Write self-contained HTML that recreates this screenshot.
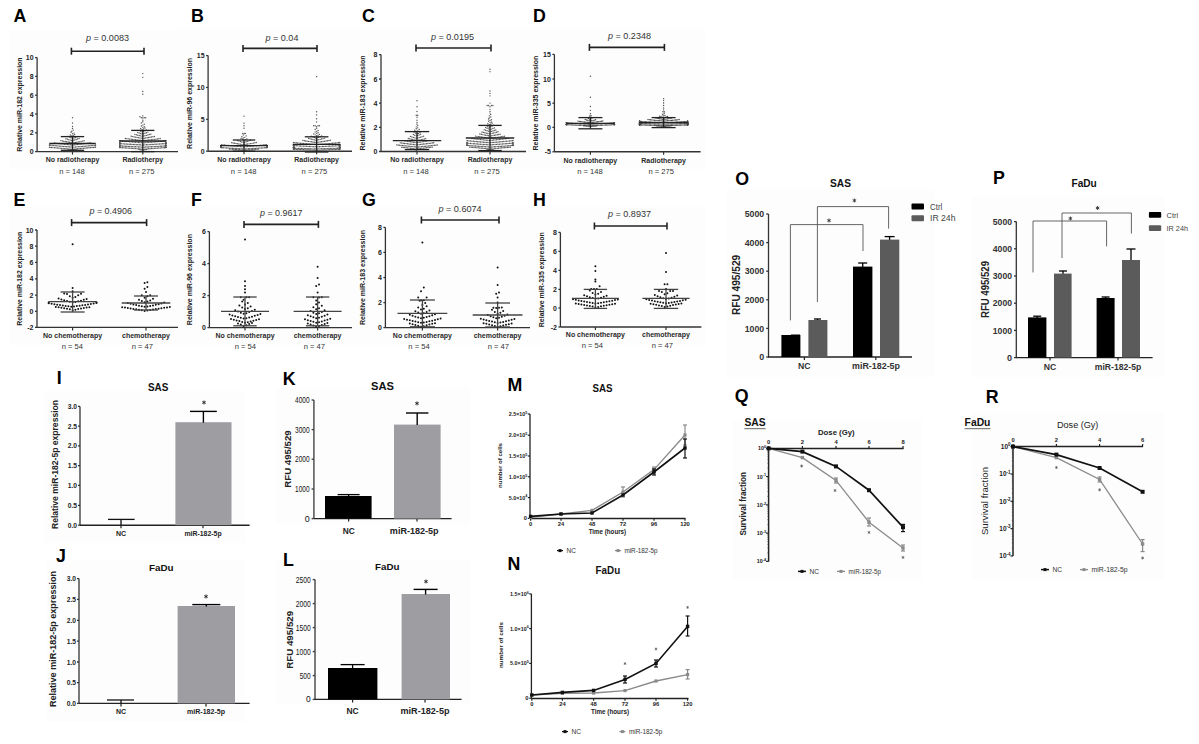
<!DOCTYPE html>
<html><head><meta charset="utf-8"><style>
html,body{margin:0;padding:0;background:#fff;}
svg{display:block;}
text{font-family:"Liberation Sans",sans-serif;}
</style></head><body>
<svg width="1199" height="744" viewBox="0 0 1199 744" shape-rendering="geometricPrecision">
<rect width="1199" height="744" fill="#fff"/>
<rect x="9.00" y="30.00" width="171.00" height="139.00" fill="#fdfdfd" />
<text x="13.51" y="22.34" font-size="17.8" fill="#000" text-anchor="start" font-weight="bold" >A</text>
<text x="86.00" y="41.00" font-size="9" fill="#333" textLength="43.00" lengthAdjust="spacingAndGlyphs"><tspan font-style="italic">p</tspan> = 0.0083</text>
<line x1="71.40" y1="51.20" x2="144.00" y2="51.20" stroke="#222" stroke-width="1.6" />
<line x1="71.40" y1="47.70" x2="71.40" y2="54.70" stroke="#222" stroke-width="1.6" />
<line x1="144.00" y1="47.70" x2="144.00" y2="54.70" stroke="#222" stroke-width="1.6" />
<line x1="37.10" y1="57.60" x2="37.10" y2="151.60" stroke="#333" stroke-width="1.3" />
<line x1="35.10" y1="57.60" x2="37.10" y2="57.60" stroke="#333" stroke-width="1.3" />
<text x="33.60" y="60.12" font-size="7" fill="#222" text-anchor="end" font-weight="bold" >10</text>
<line x1="35.10" y1="76.40" x2="37.10" y2="76.40" stroke="#333" stroke-width="1.3" />
<text x="33.60" y="78.92" font-size="7" fill="#222" text-anchor="end" font-weight="bold" >8</text>
<line x1="35.10" y1="95.20" x2="37.10" y2="95.20" stroke="#333" stroke-width="1.3" />
<text x="33.60" y="97.72" font-size="7" fill="#222" text-anchor="end" font-weight="bold" >6</text>
<line x1="35.10" y1="114.00" x2="37.10" y2="114.00" stroke="#333" stroke-width="1.3" />
<text x="33.60" y="116.52" font-size="7" fill="#222" text-anchor="end" font-weight="bold" >4</text>
<line x1="35.10" y1="132.80" x2="37.10" y2="132.80" stroke="#333" stroke-width="1.3" />
<text x="33.60" y="135.32" font-size="7" fill="#222" text-anchor="end" font-weight="bold" >2</text>
<line x1="35.10" y1="151.60" x2="37.10" y2="151.60" stroke="#333" stroke-width="1.3" />
<text x="33.60" y="154.12" font-size="7" fill="#222" text-anchor="end" font-weight="bold" >0</text>
<line x1="37.10" y1="151.60" x2="178.00" y2="151.60" stroke="#333" stroke-width="1.4" />
<line x1="72.50" y1="151.60" x2="72.50" y2="154.60" stroke="#333" stroke-width="1.2" />
<line x1="142.80" y1="151.60" x2="142.80" y2="154.60" stroke="#333" stroke-width="1.2" />
<circle cx="71.78" cy="150.43" r="0.7" fill="#555"/>
<circle cx="73.22" cy="150.11" r="0.7" fill="#555"/>
<circle cx="70.33" cy="149.91" r="0.7" fill="#555"/>
<circle cx="74.67" cy="149.75" r="0.7" fill="#555"/>
<circle cx="68.88" cy="149.62" r="0.7" fill="#555"/>
<circle cx="76.12" cy="149.50" r="0.7" fill="#555"/>
<circle cx="71.78" cy="149.40" r="0.7" fill="#555"/>
<circle cx="73.22" cy="149.30" r="0.7" fill="#555"/>
<circle cx="70.33" cy="149.20" r="0.7" fill="#555"/>
<circle cx="74.67" cy="149.12" r="0.7" fill="#555"/>
<circle cx="68.88" cy="149.03" r="0.7" fill="#555"/>
<circle cx="76.12" cy="148.95" r="0.7" fill="#555"/>
<circle cx="67.42" cy="148.88" r="0.7" fill="#555"/>
<circle cx="77.58" cy="148.80" r="0.7" fill="#555"/>
<circle cx="65.97" cy="148.73" r="0.7" fill="#555"/>
<circle cx="79.03" cy="148.66" r="0.7" fill="#555"/>
<circle cx="64.53" cy="148.59" r="0.7" fill="#555"/>
<circle cx="80.47" cy="148.53" r="0.7" fill="#555"/>
<circle cx="63.08" cy="148.46" r="0.7" fill="#555"/>
<circle cx="81.92" cy="148.39" r="0.7" fill="#555"/>
<circle cx="61.62" cy="148.33" r="0.7" fill="#555"/>
<circle cx="83.38" cy="148.27" r="0.7" fill="#555"/>
<circle cx="60.17" cy="148.20" r="0.7" fill="#555"/>
<circle cx="84.83" cy="148.14" r="0.7" fill="#555"/>
<circle cx="58.73" cy="148.08" r="0.7" fill="#555"/>
<circle cx="86.28" cy="148.02" r="0.7" fill="#555"/>
<circle cx="57.27" cy="147.96" r="0.7" fill="#555"/>
<circle cx="87.72" cy="147.90" r="0.7" fill="#555"/>
<circle cx="55.83" cy="147.84" r="0.7" fill="#555"/>
<circle cx="89.17" cy="147.78" r="0.7" fill="#555"/>
<circle cx="54.38" cy="147.72" r="0.7" fill="#555"/>
<circle cx="90.62" cy="147.67" r="0.7" fill="#555"/>
<circle cx="52.92" cy="147.61" r="0.7" fill="#555"/>
<circle cx="92.08" cy="147.55" r="0.7" fill="#555"/>
<circle cx="51.48" cy="147.49" r="0.7" fill="#555"/>
<circle cx="93.53" cy="147.44" r="0.7" fill="#555"/>
<circle cx="50.03" cy="147.38" r="0.7" fill="#555"/>
<circle cx="94.97" cy="147.32" r="0.7" fill="#555"/>
<circle cx="49.50" cy="147.26" r="0.7" fill="#555"/>
<circle cx="95.50" cy="147.21" r="0.7" fill="#555"/>
<circle cx="72.50" cy="147.15" r="0.7" fill="#555"/>
<circle cx="73.95" cy="147.09" r="0.7" fill="#555"/>
<circle cx="71.05" cy="147.03" r="0.7" fill="#555"/>
<circle cx="75.40" cy="146.98" r="0.7" fill="#555"/>
<circle cx="69.60" cy="146.92" r="0.7" fill="#555"/>
<circle cx="76.85" cy="146.86" r="0.7" fill="#555"/>
<circle cx="68.15" cy="146.80" r="0.7" fill="#555"/>
<circle cx="78.30" cy="146.74" r="0.7" fill="#555"/>
<circle cx="66.70" cy="146.69" r="0.7" fill="#555"/>
<circle cx="79.75" cy="146.63" r="0.7" fill="#555"/>
<circle cx="65.25" cy="146.57" r="0.7" fill="#555"/>
<circle cx="81.20" cy="146.51" r="0.7" fill="#555"/>
<circle cx="63.80" cy="146.45" r="0.7" fill="#555"/>
<circle cx="82.65" cy="146.39" r="0.7" fill="#555"/>
<circle cx="62.35" cy="146.33" r="0.7" fill="#555"/>
<circle cx="84.10" cy="146.27" r="0.7" fill="#555"/>
<circle cx="60.90" cy="146.21" r="0.7" fill="#555"/>
<circle cx="85.55" cy="146.15" r="0.7" fill="#555"/>
<circle cx="59.45" cy="146.09" r="0.7" fill="#555"/>
<circle cx="87.00" cy="146.03" r="0.7" fill="#555"/>
<circle cx="58.00" cy="145.96" r="0.7" fill="#555"/>
<circle cx="88.45" cy="145.90" r="0.7" fill="#555"/>
<circle cx="56.55" cy="145.84" r="0.7" fill="#555"/>
<circle cx="89.90" cy="145.77" r="0.7" fill="#555"/>
<circle cx="55.10" cy="145.71" r="0.7" fill="#555"/>
<circle cx="91.35" cy="145.65" r="0.7" fill="#555"/>
<circle cx="53.65" cy="145.58" r="0.7" fill="#555"/>
<circle cx="92.80" cy="145.51" r="0.7" fill="#555"/>
<circle cx="52.20" cy="145.45" r="0.7" fill="#555"/>
<circle cx="94.25" cy="145.38" r="0.7" fill="#555"/>
<circle cx="50.75" cy="145.31" r="0.7" fill="#555"/>
<circle cx="95.50" cy="145.25" r="0.7" fill="#555"/>
<circle cx="49.50" cy="145.18" r="0.7" fill="#555"/>
<circle cx="95.50" cy="145.11" r="0.7" fill="#555"/>
<circle cx="49.50" cy="145.04" r="0.7" fill="#555"/>
<circle cx="71.78" cy="144.97" r="0.7" fill="#555"/>
<circle cx="73.22" cy="144.89" r="0.7" fill="#555"/>
<circle cx="70.33" cy="144.82" r="0.7" fill="#555"/>
<circle cx="74.67" cy="144.75" r="0.7" fill="#555"/>
<circle cx="68.88" cy="144.67" r="0.7" fill="#555"/>
<circle cx="76.12" cy="144.60" r="0.7" fill="#555"/>
<circle cx="67.42" cy="144.52" r="0.7" fill="#555"/>
<circle cx="77.58" cy="144.44" r="0.7" fill="#555"/>
<circle cx="65.97" cy="144.37" r="0.7" fill="#555"/>
<circle cx="79.03" cy="144.29" r="0.7" fill="#555"/>
<circle cx="64.53" cy="144.21" r="0.7" fill="#555"/>
<circle cx="80.47" cy="144.12" r="0.7" fill="#555"/>
<circle cx="63.08" cy="144.04" r="0.7" fill="#555"/>
<circle cx="81.92" cy="143.96" r="0.7" fill="#555"/>
<circle cx="61.62" cy="143.87" r="0.7" fill="#555"/>
<circle cx="83.38" cy="143.78" r="0.7" fill="#555"/>
<circle cx="60.17" cy="143.70" r="0.7" fill="#555"/>
<circle cx="84.83" cy="143.61" r="0.7" fill="#555"/>
<circle cx="58.73" cy="143.52" r="0.7" fill="#555"/>
<circle cx="86.28" cy="143.42" r="0.7" fill="#555"/>
<circle cx="57.27" cy="143.33" r="0.7" fill="#555"/>
<circle cx="87.72" cy="143.23" r="0.7" fill="#555"/>
<circle cx="55.83" cy="143.13" r="0.7" fill="#555"/>
<circle cx="89.17" cy="143.03" r="0.7" fill="#555"/>
<circle cx="54.38" cy="142.93" r="0.7" fill="#555"/>
<circle cx="90.62" cy="142.83" r="0.7" fill="#555"/>
<circle cx="72.50" cy="142.72" r="0.7" fill="#555"/>
<circle cx="73.95" cy="142.61" r="0.7" fill="#555"/>
<circle cx="71.05" cy="142.50" r="0.7" fill="#555"/>
<circle cx="75.40" cy="142.39" r="0.7" fill="#555"/>
<circle cx="69.60" cy="142.27" r="0.7" fill="#555"/>
<circle cx="76.85" cy="142.15" r="0.7" fill="#555"/>
<circle cx="68.15" cy="142.03" r="0.7" fill="#555"/>
<circle cx="78.30" cy="141.90" r="0.7" fill="#555"/>
<circle cx="66.70" cy="141.78" r="0.7" fill="#555"/>
<circle cx="79.75" cy="141.64" r="0.7" fill="#555"/>
<circle cx="65.25" cy="141.51" r="0.7" fill="#555"/>
<circle cx="81.20" cy="141.37" r="0.7" fill="#555"/>
<circle cx="63.80" cy="141.23" r="0.7" fill="#555"/>
<circle cx="82.65" cy="141.08" r="0.7" fill="#555"/>
<circle cx="62.35" cy="140.92" r="0.7" fill="#555"/>
<circle cx="84.10" cy="140.77" r="0.7" fill="#555"/>
<circle cx="60.90" cy="140.60" r="0.7" fill="#555"/>
<circle cx="71.78" cy="140.44" r="0.7" fill="#555"/>
<circle cx="73.22" cy="140.26" r="0.7" fill="#555"/>
<circle cx="70.33" cy="140.08" r="0.7" fill="#555"/>
<circle cx="74.67" cy="139.89" r="0.7" fill="#555"/>
<circle cx="68.88" cy="139.69" r="0.7" fill="#555"/>
<circle cx="76.12" cy="139.49" r="0.7" fill="#555"/>
<circle cx="67.42" cy="139.28" r="0.7" fill="#555"/>
<circle cx="77.58" cy="139.05" r="0.7" fill="#555"/>
<circle cx="65.97" cy="138.82" r="0.7" fill="#555"/>
<circle cx="79.03" cy="138.57" r="0.7" fill="#555"/>
<circle cx="72.50" cy="138.31" r="0.7" fill="#555"/>
<circle cx="73.95" cy="138.04" r="0.7" fill="#555"/>
<circle cx="71.05" cy="137.74" r="0.7" fill="#555"/>
<circle cx="75.40" cy="137.43" r="0.7" fill="#555"/>
<circle cx="69.60" cy="137.10" r="0.7" fill="#555"/>
<circle cx="76.85" cy="136.75" r="0.7" fill="#555"/>
<circle cx="68.15" cy="136.36" r="0.7" fill="#555"/>
<circle cx="71.78" cy="135.95" r="0.7" fill="#555"/>
<circle cx="73.22" cy="135.49" r="0.7" fill="#555"/>
<circle cx="70.33" cy="134.99" r="0.7" fill="#555"/>
<circle cx="74.67" cy="134.44" r="0.7" fill="#555"/>
<circle cx="72.50" cy="133.81" r="0.7" fill="#555"/>
<circle cx="73.95" cy="133.10" r="0.7" fill="#555"/>
<circle cx="71.05" cy="132.28" r="0.7" fill="#555"/>
<circle cx="71.78" cy="131.30" r="0.7" fill="#555"/>
<circle cx="73.22" cy="130.10" r="0.7" fill="#555"/>
<circle cx="72.50" cy="128.56" r="0.7" fill="#555"/>
<circle cx="72.50" cy="126.43" r="0.7" fill="#555"/>
<circle cx="72.50" cy="123.04" r="0.7" fill="#555"/>
<circle cx="72.50" cy="117.76" r="0.7" fill="#555"/>
<circle cx="142.08" cy="150.35" r="0.7" fill="#555"/>
<circle cx="143.53" cy="150.03" r="0.7" fill="#555"/>
<circle cx="140.62" cy="149.83" r="0.7" fill="#555"/>
<circle cx="144.98" cy="149.68" r="0.7" fill="#555"/>
<circle cx="139.18" cy="149.55" r="0.7" fill="#555"/>
<circle cx="146.43" cy="149.44" r="0.7" fill="#555"/>
<circle cx="142.80" cy="149.34" r="0.7" fill="#555"/>
<circle cx="144.25" cy="149.25" r="0.7" fill="#555"/>
<circle cx="141.35" cy="149.16" r="0.7" fill="#555"/>
<circle cx="145.70" cy="149.08" r="0.7" fill="#555"/>
<circle cx="139.90" cy="149.01" r="0.7" fill="#555"/>
<circle cx="147.15" cy="148.94" r="0.7" fill="#555"/>
<circle cx="138.45" cy="148.87" r="0.7" fill="#555"/>
<circle cx="148.60" cy="148.80" r="0.7" fill="#555"/>
<circle cx="137.00" cy="148.74" r="0.7" fill="#555"/>
<circle cx="150.05" cy="148.68" r="0.7" fill="#555"/>
<circle cx="135.55" cy="148.62" r="0.7" fill="#555"/>
<circle cx="151.50" cy="148.56" r="0.7" fill="#555"/>
<circle cx="134.10" cy="148.50" r="0.7" fill="#555"/>
<circle cx="152.95" cy="148.45" r="0.7" fill="#555"/>
<circle cx="132.65" cy="148.40" r="0.7" fill="#555"/>
<circle cx="154.40" cy="148.34" r="0.7" fill="#555"/>
<circle cx="131.20" cy="148.29" r="0.7" fill="#555"/>
<circle cx="155.85" cy="148.24" r="0.7" fill="#555"/>
<circle cx="129.75" cy="148.19" r="0.7" fill="#555"/>
<circle cx="157.30" cy="148.14" r="0.7" fill="#555"/>
<circle cx="128.30" cy="148.09" r="0.7" fill="#555"/>
<circle cx="158.75" cy="148.04" r="0.7" fill="#555"/>
<circle cx="126.85" cy="148.00" r="0.7" fill="#555"/>
<circle cx="160.20" cy="147.95" r="0.7" fill="#555"/>
<circle cx="125.40" cy="147.90" r="0.7" fill="#555"/>
<circle cx="161.65" cy="147.86" r="0.7" fill="#555"/>
<circle cx="123.95" cy="147.81" r="0.7" fill="#555"/>
<circle cx="163.10" cy="147.77" r="0.7" fill="#555"/>
<circle cx="122.50" cy="147.72" r="0.7" fill="#555"/>
<circle cx="164.55" cy="147.68" r="0.7" fill="#555"/>
<circle cx="121.05" cy="147.64" r="0.7" fill="#555"/>
<circle cx="165.80" cy="147.59" r="0.7" fill="#555"/>
<circle cx="119.80" cy="147.55" r="0.7" fill="#555"/>
<circle cx="165.80" cy="147.51" r="0.7" fill="#555"/>
<circle cx="119.80" cy="147.47" r="0.7" fill="#555"/>
<circle cx="165.80" cy="147.42" r="0.7" fill="#555"/>
<circle cx="119.80" cy="147.38" r="0.7" fill="#555"/>
<circle cx="165.80" cy="147.34" r="0.7" fill="#555"/>
<circle cx="119.80" cy="147.30" r="0.7" fill="#555"/>
<circle cx="165.80" cy="147.26" r="0.7" fill="#555"/>
<circle cx="119.80" cy="147.22" r="0.7" fill="#555"/>
<circle cx="142.80" cy="147.18" r="0.7" fill="#555"/>
<circle cx="144.25" cy="147.13" r="0.7" fill="#555"/>
<circle cx="141.35" cy="147.09" r="0.7" fill="#555"/>
<circle cx="145.70" cy="147.05" r="0.7" fill="#555"/>
<circle cx="139.90" cy="147.01" r="0.7" fill="#555"/>
<circle cx="147.15" cy="146.97" r="0.7" fill="#555"/>
<circle cx="138.45" cy="146.93" r="0.7" fill="#555"/>
<circle cx="148.60" cy="146.89" r="0.7" fill="#555"/>
<circle cx="137.00" cy="146.85" r="0.7" fill="#555"/>
<circle cx="150.05" cy="146.81" r="0.7" fill="#555"/>
<circle cx="135.55" cy="146.77" r="0.7" fill="#555"/>
<circle cx="151.50" cy="146.73" r="0.7" fill="#555"/>
<circle cx="134.10" cy="146.70" r="0.7" fill="#555"/>
<circle cx="152.95" cy="146.66" r="0.7" fill="#555"/>
<circle cx="132.65" cy="146.62" r="0.7" fill="#555"/>
<circle cx="154.40" cy="146.58" r="0.7" fill="#555"/>
<circle cx="131.20" cy="146.54" r="0.7" fill="#555"/>
<circle cx="155.85" cy="146.50" r="0.7" fill="#555"/>
<circle cx="129.75" cy="146.46" r="0.7" fill="#555"/>
<circle cx="157.30" cy="146.42" r="0.7" fill="#555"/>
<circle cx="128.30" cy="146.38" r="0.7" fill="#555"/>
<circle cx="158.75" cy="146.34" r="0.7" fill="#555"/>
<circle cx="126.85" cy="146.30" r="0.7" fill="#555"/>
<circle cx="160.20" cy="146.26" r="0.7" fill="#555"/>
<circle cx="125.40" cy="146.23" r="0.7" fill="#555"/>
<circle cx="161.65" cy="146.19" r="0.7" fill="#555"/>
<circle cx="123.95" cy="146.15" r="0.7" fill="#555"/>
<circle cx="163.10" cy="146.11" r="0.7" fill="#555"/>
<circle cx="122.50" cy="146.07" r="0.7" fill="#555"/>
<circle cx="164.55" cy="146.03" r="0.7" fill="#555"/>
<circle cx="121.05" cy="145.99" r="0.7" fill="#555"/>
<circle cx="165.80" cy="145.95" r="0.7" fill="#555"/>
<circle cx="119.80" cy="145.91" r="0.7" fill="#555"/>
<circle cx="165.80" cy="145.87" r="0.7" fill="#555"/>
<circle cx="119.80" cy="145.83" r="0.7" fill="#555"/>
<circle cx="165.80" cy="145.79" r="0.7" fill="#555"/>
<circle cx="119.80" cy="145.75" r="0.7" fill="#555"/>
<circle cx="165.80" cy="145.71" r="0.7" fill="#555"/>
<circle cx="119.80" cy="145.67" r="0.7" fill="#555"/>
<circle cx="165.80" cy="145.64" r="0.7" fill="#555"/>
<circle cx="119.80" cy="145.60" r="0.7" fill="#555"/>
<circle cx="165.80" cy="145.56" r="0.7" fill="#555"/>
<circle cx="119.80" cy="145.52" r="0.7" fill="#555"/>
<circle cx="165.80" cy="145.48" r="0.7" fill="#555"/>
<circle cx="119.80" cy="145.44" r="0.7" fill="#555"/>
<circle cx="165.80" cy="145.40" r="0.7" fill="#555"/>
<circle cx="119.80" cy="145.35" r="0.7" fill="#555"/>
<circle cx="165.80" cy="145.31" r="0.7" fill="#555"/>
<circle cx="119.80" cy="145.27" r="0.7" fill="#555"/>
<circle cx="165.80" cy="145.23" r="0.7" fill="#555"/>
<circle cx="119.80" cy="145.19" r="0.7" fill="#555"/>
<circle cx="165.80" cy="145.15" r="0.7" fill="#555"/>
<circle cx="119.80" cy="145.11" r="0.7" fill="#555"/>
<circle cx="165.80" cy="145.07" r="0.7" fill="#555"/>
<circle cx="119.80" cy="145.03" r="0.7" fill="#555"/>
<circle cx="142.08" cy="144.99" r="0.7" fill="#555"/>
<circle cx="143.53" cy="144.95" r="0.7" fill="#555"/>
<circle cx="140.62" cy="144.90" r="0.7" fill="#555"/>
<circle cx="144.98" cy="144.86" r="0.7" fill="#555"/>
<circle cx="139.18" cy="144.82" r="0.7" fill="#555"/>
<circle cx="146.43" cy="144.78" r="0.7" fill="#555"/>
<circle cx="137.73" cy="144.74" r="0.7" fill="#555"/>
<circle cx="147.88" cy="144.69" r="0.7" fill="#555"/>
<circle cx="136.28" cy="144.65" r="0.7" fill="#555"/>
<circle cx="149.33" cy="144.61" r="0.7" fill="#555"/>
<circle cx="134.83" cy="144.57" r="0.7" fill="#555"/>
<circle cx="150.78" cy="144.52" r="0.7" fill="#555"/>
<circle cx="133.38" cy="144.48" r="0.7" fill="#555"/>
<circle cx="152.23" cy="144.44" r="0.7" fill="#555"/>
<circle cx="131.93" cy="144.39" r="0.7" fill="#555"/>
<circle cx="153.68" cy="144.35" r="0.7" fill="#555"/>
<circle cx="130.48" cy="144.30" r="0.7" fill="#555"/>
<circle cx="155.12" cy="144.26" r="0.7" fill="#555"/>
<circle cx="129.03" cy="144.22" r="0.7" fill="#555"/>
<circle cx="156.58" cy="144.17" r="0.7" fill="#555"/>
<circle cx="127.58" cy="144.13" r="0.7" fill="#555"/>
<circle cx="158.03" cy="144.08" r="0.7" fill="#555"/>
<circle cx="126.13" cy="144.04" r="0.7" fill="#555"/>
<circle cx="159.48" cy="143.99" r="0.7" fill="#555"/>
<circle cx="124.68" cy="143.94" r="0.7" fill="#555"/>
<circle cx="160.93" cy="143.90" r="0.7" fill="#555"/>
<circle cx="123.23" cy="143.85" r="0.7" fill="#555"/>
<circle cx="162.38" cy="143.81" r="0.7" fill="#555"/>
<circle cx="121.78" cy="143.76" r="0.7" fill="#555"/>
<circle cx="163.83" cy="143.71" r="0.7" fill="#555"/>
<circle cx="120.33" cy="143.66" r="0.7" fill="#555"/>
<circle cx="165.28" cy="143.62" r="0.7" fill="#555"/>
<circle cx="119.80" cy="143.57" r="0.7" fill="#555"/>
<circle cx="165.80" cy="143.52" r="0.7" fill="#555"/>
<circle cx="119.80" cy="143.47" r="0.7" fill="#555"/>
<circle cx="165.80" cy="143.42" r="0.7" fill="#555"/>
<circle cx="119.80" cy="143.37" r="0.7" fill="#555"/>
<circle cx="165.80" cy="143.32" r="0.7" fill="#555"/>
<circle cx="119.80" cy="143.27" r="0.7" fill="#555"/>
<circle cx="165.80" cy="143.22" r="0.7" fill="#555"/>
<circle cx="119.80" cy="143.17" r="0.7" fill="#555"/>
<circle cx="165.80" cy="143.12" r="0.7" fill="#555"/>
<circle cx="119.80" cy="143.07" r="0.7" fill="#555"/>
<circle cx="165.80" cy="143.02" r="0.7" fill="#555"/>
<circle cx="119.80" cy="142.97" r="0.7" fill="#555"/>
<circle cx="165.80" cy="142.92" r="0.7" fill="#555"/>
<circle cx="119.80" cy="142.86" r="0.7" fill="#555"/>
<circle cx="165.80" cy="142.81" r="0.7" fill="#555"/>
<circle cx="142.80" cy="142.76" r="0.7" fill="#555"/>
<circle cx="144.25" cy="142.70" r="0.7" fill="#555"/>
<circle cx="141.35" cy="142.65" r="0.7" fill="#555"/>
<circle cx="145.70" cy="142.60" r="0.7" fill="#555"/>
<circle cx="139.90" cy="142.54" r="0.7" fill="#555"/>
<circle cx="147.15" cy="142.49" r="0.7" fill="#555"/>
<circle cx="138.45" cy="142.43" r="0.7" fill="#555"/>
<circle cx="148.60" cy="142.37" r="0.7" fill="#555"/>
<circle cx="137.00" cy="142.32" r="0.7" fill="#555"/>
<circle cx="150.05" cy="142.26" r="0.7" fill="#555"/>
<circle cx="135.55" cy="142.20" r="0.7" fill="#555"/>
<circle cx="151.50" cy="142.14" r="0.7" fill="#555"/>
<circle cx="134.10" cy="142.09" r="0.7" fill="#555"/>
<circle cx="152.95" cy="142.03" r="0.7" fill="#555"/>
<circle cx="132.65" cy="141.97" r="0.7" fill="#555"/>
<circle cx="154.40" cy="141.91" r="0.7" fill="#555"/>
<circle cx="131.20" cy="141.85" r="0.7" fill="#555"/>
<circle cx="155.85" cy="141.78" r="0.7" fill="#555"/>
<circle cx="129.75" cy="141.72" r="0.7" fill="#555"/>
<circle cx="157.30" cy="141.66" r="0.7" fill="#555"/>
<circle cx="128.30" cy="141.60" r="0.7" fill="#555"/>
<circle cx="158.75" cy="141.53" r="0.7" fill="#555"/>
<circle cx="126.85" cy="141.47" r="0.7" fill="#555"/>
<circle cx="160.20" cy="141.40" r="0.7" fill="#555"/>
<circle cx="125.40" cy="141.34" r="0.7" fill="#555"/>
<circle cx="161.65" cy="141.27" r="0.7" fill="#555"/>
<circle cx="123.95" cy="141.20" r="0.7" fill="#555"/>
<circle cx="163.10" cy="141.14" r="0.7" fill="#555"/>
<circle cx="122.50" cy="141.07" r="0.7" fill="#555"/>
<circle cx="164.55" cy="141.00" r="0.7" fill="#555"/>
<circle cx="121.05" cy="140.93" r="0.7" fill="#555"/>
<circle cx="165.80" cy="140.86" r="0.7" fill="#555"/>
<circle cx="119.80" cy="140.79" r="0.7" fill="#555"/>
<circle cx="165.80" cy="140.71" r="0.7" fill="#555"/>
<circle cx="119.80" cy="140.64" r="0.7" fill="#555"/>
<circle cx="142.80" cy="140.57" r="0.7" fill="#555"/>
<circle cx="144.25" cy="140.49" r="0.7" fill="#555"/>
<circle cx="141.35" cy="140.41" r="0.7" fill="#555"/>
<circle cx="145.70" cy="140.34" r="0.7" fill="#555"/>
<circle cx="139.90" cy="140.26" r="0.7" fill="#555"/>
<circle cx="147.15" cy="140.18" r="0.7" fill="#555"/>
<circle cx="138.45" cy="140.10" r="0.7" fill="#555"/>
<circle cx="148.60" cy="140.02" r="0.7" fill="#555"/>
<circle cx="137.00" cy="139.94" r="0.7" fill="#555"/>
<circle cx="150.05" cy="139.85" r="0.7" fill="#555"/>
<circle cx="135.55" cy="139.77" r="0.7" fill="#555"/>
<circle cx="151.50" cy="139.69" r="0.7" fill="#555"/>
<circle cx="134.10" cy="139.60" r="0.7" fill="#555"/>
<circle cx="152.95" cy="139.51" r="0.7" fill="#555"/>
<circle cx="132.65" cy="139.42" r="0.7" fill="#555"/>
<circle cx="154.40" cy="139.33" r="0.7" fill="#555"/>
<circle cx="131.20" cy="139.24" r="0.7" fill="#555"/>
<circle cx="155.85" cy="139.15" r="0.7" fill="#555"/>
<circle cx="129.75" cy="139.05" r="0.7" fill="#555"/>
<circle cx="157.30" cy="138.95" r="0.7" fill="#555"/>
<circle cx="128.30" cy="138.86" r="0.7" fill="#555"/>
<circle cx="158.75" cy="138.76" r="0.7" fill="#555"/>
<circle cx="126.85" cy="138.66" r="0.7" fill="#555"/>
<circle cx="160.20" cy="138.55" r="0.7" fill="#555"/>
<circle cx="125.40" cy="138.45" r="0.7" fill="#555"/>
<circle cx="142.80" cy="138.34" r="0.7" fill="#555"/>
<circle cx="144.25" cy="138.23" r="0.7" fill="#555"/>
<circle cx="141.35" cy="138.12" r="0.7" fill="#555"/>
<circle cx="145.70" cy="138.01" r="0.7" fill="#555"/>
<circle cx="139.90" cy="137.89" r="0.7" fill="#555"/>
<circle cx="147.15" cy="137.78" r="0.7" fill="#555"/>
<circle cx="138.45" cy="137.66" r="0.7" fill="#555"/>
<circle cx="148.60" cy="137.54" r="0.7" fill="#555"/>
<circle cx="137.00" cy="137.41" r="0.7" fill="#555"/>
<circle cx="150.05" cy="137.28" r="0.7" fill="#555"/>
<circle cx="135.55" cy="137.15" r="0.7" fill="#555"/>
<circle cx="151.50" cy="137.02" r="0.7" fill="#555"/>
<circle cx="134.10" cy="136.89" r="0.7" fill="#555"/>
<circle cx="152.95" cy="136.75" r="0.7" fill="#555"/>
<circle cx="132.65" cy="136.61" r="0.7" fill="#555"/>
<circle cx="154.40" cy="136.46" r="0.7" fill="#555"/>
<circle cx="131.20" cy="136.31" r="0.7" fill="#555"/>
<circle cx="142.08" cy="136.16" r="0.7" fill="#555"/>
<circle cx="143.53" cy="136.00" r="0.7" fill="#555"/>
<circle cx="140.62" cy="135.84" r="0.7" fill="#555"/>
<circle cx="144.98" cy="135.67" r="0.7" fill="#555"/>
<circle cx="139.18" cy="135.50" r="0.7" fill="#555"/>
<circle cx="146.43" cy="135.33" r="0.7" fill="#555"/>
<circle cx="137.73" cy="135.14" r="0.7" fill="#555"/>
<circle cx="147.88" cy="134.96" r="0.7" fill="#555"/>
<circle cx="136.28" cy="134.77" r="0.7" fill="#555"/>
<circle cx="149.33" cy="134.57" r="0.7" fill="#555"/>
<circle cx="134.83" cy="134.36" r="0.7" fill="#555"/>
<circle cx="150.78" cy="134.15" r="0.7" fill="#555"/>
<circle cx="142.08" cy="133.93" r="0.7" fill="#555"/>
<circle cx="143.53" cy="133.70" r="0.7" fill="#555"/>
<circle cx="140.62" cy="133.46" r="0.7" fill="#555"/>
<circle cx="144.98" cy="133.21" r="0.7" fill="#555"/>
<circle cx="139.18" cy="132.95" r="0.7" fill="#555"/>
<circle cx="146.43" cy="132.68" r="0.7" fill="#555"/>
<circle cx="137.73" cy="132.40" r="0.7" fill="#555"/>
<circle cx="147.88" cy="132.11" r="0.7" fill="#555"/>
<circle cx="142.08" cy="131.80" r="0.7" fill="#555"/>
<circle cx="143.53" cy="131.47" r="0.7" fill="#555"/>
<circle cx="140.62" cy="131.13" r="0.7" fill="#555"/>
<circle cx="144.98" cy="130.76" r="0.7" fill="#555"/>
<circle cx="139.18" cy="130.37" r="0.7" fill="#555"/>
<circle cx="146.43" cy="129.96" r="0.7" fill="#555"/>
<circle cx="142.08" cy="129.52" r="0.7" fill="#555"/>
<circle cx="143.53" cy="129.05" r="0.7" fill="#555"/>
<circle cx="140.62" cy="128.53" r="0.7" fill="#555"/>
<circle cx="144.98" cy="127.98" r="0.7" fill="#555"/>
<circle cx="142.80" cy="127.37" r="0.7" fill="#555"/>
<circle cx="144.25" cy="126.70" r="0.7" fill="#555"/>
<circle cx="141.35" cy="125.96" r="0.7" fill="#555"/>
<circle cx="142.80" cy="125.12" r="0.7" fill="#555"/>
<circle cx="144.25" cy="124.17" r="0.7" fill="#555"/>
<circle cx="141.35" cy="123.07" r="0.7" fill="#555"/>
<circle cx="142.80" cy="121.75" r="0.7" fill="#555"/>
<circle cx="142.80" cy="120.14" r="0.7" fill="#555"/>
<circle cx="142.80" cy="118.07" r="0.7" fill="#555"/>
<circle cx="144.25" cy="117.76" r="0.7" fill="#555"/>
<circle cx="141.35" cy="117.76" r="0.7" fill="#555"/>
<circle cx="145.70" cy="117.76" r="0.7" fill="#555"/>
<circle cx="139.90" cy="116.82" r="0.7" fill="#555"/>
<circle cx="142.80" cy="115.88" r="0.7" fill="#555"/>
<circle cx="142.80" cy="94.26" r="0.7" fill="#555"/>
<circle cx="142.80" cy="91.44" r="0.7" fill="#555"/>
<circle cx="142.80" cy="77.34" r="0.7" fill="#555"/>
<circle cx="142.80" cy="73.58" r="0.7" fill="#555"/>
<line x1="49.25" y1="143.50" x2="95.75" y2="143.50" stroke="#222" stroke-width="1.3" />
<line x1="60.80" y1="136.60" x2="84.20" y2="136.60" stroke="#222" stroke-width="1.3" />
<line x1="60.80" y1="150.30" x2="84.20" y2="150.30" stroke="#222" stroke-width="1.3" />
<line x1="72.50" y1="136.60" x2="72.50" y2="150.30" stroke="#222" stroke-width="1.3" />
<line x1="119.30" y1="141.00" x2="166.30" y2="141.00" stroke="#222" stroke-width="1.3" />
<line x1="131.20" y1="130.40" x2="154.40" y2="130.40" stroke="#222" stroke-width="1.3" />
<line x1="131.20" y1="151.60" x2="154.40" y2="151.60" stroke="#222" stroke-width="1.3" />
<line x1="142.80" y1="130.40" x2="142.80" y2="151.60" stroke="#222" stroke-width="1.3" />
<text x="72.50" y="162.00" font-size="7" fill="#2a2a2a" text-anchor="middle" font-weight="bold" >No radiotherapy</text>
<text x="72.00" y="173.60" font-size="7.6" fill="#333" text-anchor="middle" >n = 148</text>
<text x="142.80" y="162.00" font-size="7" fill="#2a2a2a" text-anchor="middle" font-weight="bold" >Radiotherpy</text>
<text x="141.70" y="173.60" font-size="7.6" fill="#333" text-anchor="middle" >n = 275</text>
<text x="22.05" y="104.60" font-size="7" fill="#222" text-anchor="middle" transform="rotate(-90 22.05 104.60)" font-weight="bold" textLength="94.40" lengthAdjust="spacingAndGlyphs">Relative miR-182 expression</text>
<rect x="178.00" y="28.00" width="177.00" height="141.00" fill="#fdfdfd" />
<text x="191.11" y="22.34" font-size="17.8" fill="#000" text-anchor="start" font-weight="bold" >B</text>
<text x="265.60" y="41.00" font-size="9" fill="#333" textLength="32.80" lengthAdjust="spacingAndGlyphs"><tspan font-style="italic">p</tspan> = 0.04</text>
<line x1="243.00" y1="48.40" x2="317.00" y2="48.40" stroke="#222" stroke-width="1.6" />
<line x1="243.00" y1="44.90" x2="243.00" y2="51.90" stroke="#222" stroke-width="1.6" />
<line x1="317.00" y1="44.90" x2="317.00" y2="51.90" stroke="#222" stroke-width="1.6" />
<line x1="208.10" y1="55.60" x2="208.10" y2="151.20" stroke="#333" stroke-width="1.3" />
<line x1="206.10" y1="55.60" x2="208.10" y2="55.60" stroke="#333" stroke-width="1.3" />
<text x="204.60" y="58.12" font-size="7" fill="#222" text-anchor="end" font-weight="bold" >15</text>
<line x1="206.10" y1="87.40" x2="208.10" y2="87.40" stroke="#333" stroke-width="1.3" />
<text x="204.60" y="89.92" font-size="7" fill="#222" text-anchor="end" font-weight="bold" >10</text>
<line x1="206.10" y1="119.40" x2="208.10" y2="119.40" stroke="#333" stroke-width="1.3" />
<text x="204.60" y="121.92" font-size="7" fill="#222" text-anchor="end" font-weight="bold" >5</text>
<line x1="206.10" y1="151.20" x2="208.10" y2="151.20" stroke="#333" stroke-width="1.3" />
<text x="204.60" y="153.72" font-size="7" fill="#222" text-anchor="end" font-weight="bold" >0</text>
<line x1="208.10" y1="151.20" x2="352.40" y2="151.20" stroke="#333" stroke-width="1.4" />
<line x1="244.00" y1="151.20" x2="244.00" y2="154.20" stroke="#333" stroke-width="1.2" />
<line x1="316.60" y1="151.20" x2="316.60" y2="154.20" stroke="#333" stroke-width="1.2" />
<circle cx="244.00" cy="150.49" r="0.7" fill="#555"/>
<circle cx="245.45" cy="150.28" r="0.7" fill="#555"/>
<circle cx="242.55" cy="150.14" r="0.7" fill="#555"/>
<circle cx="246.90" cy="150.03" r="0.7" fill="#555"/>
<circle cx="241.10" cy="149.94" r="0.7" fill="#555"/>
<circle cx="248.35" cy="149.86" r="0.7" fill="#555"/>
<circle cx="239.65" cy="149.79" r="0.7" fill="#555"/>
<circle cx="249.80" cy="149.72" r="0.7" fill="#555"/>
<circle cx="238.20" cy="149.66" r="0.7" fill="#555"/>
<circle cx="251.25" cy="149.59" r="0.7" fill="#555"/>
<circle cx="236.75" cy="149.54" r="0.7" fill="#555"/>
<circle cx="252.70" cy="149.48" r="0.7" fill="#555"/>
<circle cx="235.30" cy="149.43" r="0.7" fill="#555"/>
<circle cx="254.15" cy="149.37" r="0.7" fill="#555"/>
<circle cx="233.85" cy="149.32" r="0.7" fill="#555"/>
<circle cx="255.60" cy="149.27" r="0.7" fill="#555"/>
<circle cx="232.40" cy="149.22" r="0.7" fill="#555"/>
<circle cx="257.05" cy="149.17" r="0.7" fill="#555"/>
<circle cx="230.95" cy="149.12" r="0.7" fill="#555"/>
<circle cx="258.50" cy="149.08" r="0.7" fill="#555"/>
<circle cx="229.50" cy="149.03" r="0.7" fill="#555"/>
<circle cx="244.00" cy="148.99" r="0.7" fill="#555"/>
<circle cx="245.45" cy="148.94" r="0.7" fill="#555"/>
<circle cx="242.55" cy="148.90" r="0.7" fill="#555"/>
<circle cx="246.90" cy="148.85" r="0.7" fill="#555"/>
<circle cx="241.10" cy="148.81" r="0.7" fill="#555"/>
<circle cx="248.35" cy="148.76" r="0.7" fill="#555"/>
<circle cx="239.65" cy="148.72" r="0.7" fill="#555"/>
<circle cx="249.80" cy="148.68" r="0.7" fill="#555"/>
<circle cx="238.20" cy="148.63" r="0.7" fill="#555"/>
<circle cx="251.25" cy="148.59" r="0.7" fill="#555"/>
<circle cx="236.75" cy="148.55" r="0.7" fill="#555"/>
<circle cx="252.70" cy="148.50" r="0.7" fill="#555"/>
<circle cx="235.30" cy="148.46" r="0.7" fill="#555"/>
<circle cx="254.15" cy="148.42" r="0.7" fill="#555"/>
<circle cx="233.85" cy="148.38" r="0.7" fill="#555"/>
<circle cx="255.60" cy="148.33" r="0.7" fill="#555"/>
<circle cx="232.40" cy="148.29" r="0.7" fill="#555"/>
<circle cx="257.05" cy="148.25" r="0.7" fill="#555"/>
<circle cx="230.95" cy="148.20" r="0.7" fill="#555"/>
<circle cx="258.50" cy="148.16" r="0.7" fill="#555"/>
<circle cx="229.50" cy="148.12" r="0.7" fill="#555"/>
<circle cx="259.95" cy="148.08" r="0.7" fill="#555"/>
<circle cx="228.05" cy="148.03" r="0.7" fill="#555"/>
<circle cx="261.40" cy="147.99" r="0.7" fill="#555"/>
<circle cx="226.60" cy="147.94" r="0.7" fill="#555"/>
<circle cx="262.85" cy="147.90" r="0.7" fill="#555"/>
<circle cx="225.15" cy="147.86" r="0.7" fill="#555"/>
<circle cx="264.30" cy="147.81" r="0.7" fill="#555"/>
<circle cx="223.70" cy="147.77" r="0.7" fill="#555"/>
<circle cx="265.75" cy="147.72" r="0.7" fill="#555"/>
<circle cx="222.25" cy="147.68" r="0.7" fill="#555"/>
<circle cx="267.00" cy="147.63" r="0.7" fill="#555"/>
<circle cx="221.00" cy="147.59" r="0.7" fill="#555"/>
<circle cx="267.00" cy="147.54" r="0.7" fill="#555"/>
<circle cx="221.00" cy="147.50" r="0.7" fill="#555"/>
<circle cx="267.00" cy="147.45" r="0.7" fill="#555"/>
<circle cx="221.00" cy="147.40" r="0.7" fill="#555"/>
<circle cx="267.00" cy="147.36" r="0.7" fill="#555"/>
<circle cx="221.00" cy="147.31" r="0.7" fill="#555"/>
<circle cx="267.00" cy="147.26" r="0.7" fill="#555"/>
<circle cx="221.00" cy="147.21" r="0.7" fill="#555"/>
<circle cx="267.00" cy="147.16" r="0.7" fill="#555"/>
<circle cx="221.00" cy="147.11" r="0.7" fill="#555"/>
<circle cx="267.00" cy="147.06" r="0.7" fill="#555"/>
<circle cx="221.00" cy="147.01" r="0.7" fill="#555"/>
<circle cx="267.00" cy="146.96" r="0.7" fill="#555"/>
<circle cx="221.00" cy="146.91" r="0.7" fill="#555"/>
<circle cx="267.00" cy="146.86" r="0.7" fill="#555"/>
<circle cx="221.00" cy="146.81" r="0.7" fill="#555"/>
<circle cx="243.28" cy="146.76" r="0.7" fill="#555"/>
<circle cx="244.72" cy="146.70" r="0.7" fill="#555"/>
<circle cx="241.82" cy="146.65" r="0.7" fill="#555"/>
<circle cx="246.18" cy="146.59" r="0.7" fill="#555"/>
<circle cx="240.38" cy="146.54" r="0.7" fill="#555"/>
<circle cx="247.62" cy="146.48" r="0.7" fill="#555"/>
<circle cx="238.93" cy="146.42" r="0.7" fill="#555"/>
<circle cx="249.07" cy="146.37" r="0.7" fill="#555"/>
<circle cx="237.47" cy="146.31" r="0.7" fill="#555"/>
<circle cx="250.53" cy="146.25" r="0.7" fill="#555"/>
<circle cx="236.03" cy="146.19" r="0.7" fill="#555"/>
<circle cx="251.97" cy="146.13" r="0.7" fill="#555"/>
<circle cx="234.57" cy="146.06" r="0.7" fill="#555"/>
<circle cx="253.43" cy="146.00" r="0.7" fill="#555"/>
<circle cx="233.12" cy="145.94" r="0.7" fill="#555"/>
<circle cx="254.88" cy="145.87" r="0.7" fill="#555"/>
<circle cx="231.68" cy="145.81" r="0.7" fill="#555"/>
<circle cx="256.32" cy="145.74" r="0.7" fill="#555"/>
<circle cx="230.22" cy="145.67" r="0.7" fill="#555"/>
<circle cx="257.77" cy="145.60" r="0.7" fill="#555"/>
<circle cx="228.78" cy="145.53" r="0.7" fill="#555"/>
<circle cx="259.23" cy="145.46" r="0.7" fill="#555"/>
<circle cx="227.32" cy="145.38" r="0.7" fill="#555"/>
<circle cx="260.68" cy="145.31" r="0.7" fill="#555"/>
<circle cx="225.88" cy="145.23" r="0.7" fill="#555"/>
<circle cx="262.12" cy="145.15" r="0.7" fill="#555"/>
<circle cx="224.43" cy="145.07" r="0.7" fill="#555"/>
<circle cx="263.57" cy="144.99" r="0.7" fill="#555"/>
<circle cx="222.97" cy="144.91" r="0.7" fill="#555"/>
<circle cx="265.02" cy="144.82" r="0.7" fill="#555"/>
<circle cx="221.53" cy="144.74" r="0.7" fill="#555"/>
<circle cx="266.48" cy="144.65" r="0.7" fill="#555"/>
<circle cx="243.28" cy="144.55" r="0.7" fill="#555"/>
<circle cx="244.72" cy="144.46" r="0.7" fill="#555"/>
<circle cx="241.82" cy="144.36" r="0.7" fill="#555"/>
<circle cx="246.18" cy="144.26" r="0.7" fill="#555"/>
<circle cx="240.38" cy="144.16" r="0.7" fill="#555"/>
<circle cx="247.62" cy="144.06" r="0.7" fill="#555"/>
<circle cx="238.93" cy="143.95" r="0.7" fill="#555"/>
<circle cx="249.07" cy="143.84" r="0.7" fill="#555"/>
<circle cx="237.47" cy="143.72" r="0.7" fill="#555"/>
<circle cx="250.53" cy="143.60" r="0.7" fill="#555"/>
<circle cx="236.03" cy="143.48" r="0.7" fill="#555"/>
<circle cx="251.97" cy="143.35" r="0.7" fill="#555"/>
<circle cx="234.57" cy="143.22" r="0.7" fill="#555"/>
<circle cx="253.43" cy="143.09" r="0.7" fill="#555"/>
<circle cx="233.12" cy="142.94" r="0.7" fill="#555"/>
<circle cx="254.88" cy="142.80" r="0.7" fill="#555"/>
<circle cx="231.68" cy="142.64" r="0.7" fill="#555"/>
<circle cx="256.32" cy="142.48" r="0.7" fill="#555"/>
<circle cx="243.28" cy="142.31" r="0.7" fill="#555"/>
<circle cx="244.72" cy="142.14" r="0.7" fill="#555"/>
<circle cx="241.82" cy="141.95" r="0.7" fill="#555"/>
<circle cx="246.18" cy="141.75" r="0.7" fill="#555"/>
<circle cx="240.38" cy="141.55" r="0.7" fill="#555"/>
<circle cx="247.62" cy="141.33" r="0.7" fill="#555"/>
<circle cx="238.93" cy="141.10" r="0.7" fill="#555"/>
<circle cx="249.07" cy="140.85" r="0.7" fill="#555"/>
<circle cx="237.47" cy="140.59" r="0.7" fill="#555"/>
<circle cx="250.53" cy="140.30" r="0.7" fill="#555"/>
<circle cx="244.00" cy="140.00" r="0.7" fill="#555"/>
<circle cx="245.45" cy="139.66" r="0.7" fill="#555"/>
<circle cx="242.55" cy="139.30" r="0.7" fill="#555"/>
<circle cx="246.90" cy="138.89" r="0.7" fill="#555"/>
<circle cx="241.10" cy="138.45" r="0.7" fill="#555"/>
<circle cx="243.28" cy="137.94" r="0.7" fill="#555"/>
<circle cx="244.72" cy="137.36" r="0.7" fill="#555"/>
<circle cx="241.82" cy="136.69" r="0.7" fill="#555"/>
<circle cx="246.18" cy="135.89" r="0.7" fill="#555"/>
<circle cx="243.28" cy="134.90" r="0.7" fill="#555"/>
<circle cx="244.72" cy="133.63" r="0.7" fill="#555"/>
<circle cx="244.00" cy="133.36" r="0.7" fill="#555"/>
<circle cx="245.45" cy="133.36" r="0.7" fill="#555"/>
<circle cx="242.55" cy="133.36" r="0.7" fill="#555"/>
<circle cx="244.00" cy="128.27" r="0.7" fill="#555"/>
<circle cx="244.00" cy="125.72" r="0.7" fill="#555"/>
<circle cx="244.00" cy="123.17" r="0.7" fill="#555"/>
<circle cx="244.00" cy="116.16" r="0.7" fill="#555"/>
<circle cx="316.60" cy="150.69" r="0.7" fill="#555"/>
<circle cx="318.05" cy="150.53" r="0.7" fill="#555"/>
<circle cx="315.15" cy="150.43" r="0.7" fill="#555"/>
<circle cx="319.50" cy="150.35" r="0.7" fill="#555"/>
<circle cx="313.70" cy="150.28" r="0.7" fill="#555"/>
<circle cx="320.95" cy="150.22" r="0.7" fill="#555"/>
<circle cx="312.25" cy="150.17" r="0.7" fill="#555"/>
<circle cx="322.40" cy="150.12" r="0.7" fill="#555"/>
<circle cx="310.80" cy="150.07" r="0.7" fill="#555"/>
<circle cx="323.85" cy="150.03" r="0.7" fill="#555"/>
<circle cx="309.35" cy="149.98" r="0.7" fill="#555"/>
<circle cx="325.30" cy="149.94" r="0.7" fill="#555"/>
<circle cx="307.90" cy="149.90" r="0.7" fill="#555"/>
<circle cx="326.75" cy="149.87" r="0.7" fill="#555"/>
<circle cx="306.45" cy="149.83" r="0.7" fill="#555"/>
<circle cx="328.20" cy="149.79" r="0.7" fill="#555"/>
<circle cx="305.00" cy="149.76" r="0.7" fill="#555"/>
<circle cx="329.65" cy="149.73" r="0.7" fill="#555"/>
<circle cx="303.55" cy="149.69" r="0.7" fill="#555"/>
<circle cx="331.10" cy="149.66" r="0.7" fill="#555"/>
<circle cx="302.10" cy="149.63" r="0.7" fill="#555"/>
<circle cx="332.55" cy="149.60" r="0.7" fill="#555"/>
<circle cx="300.65" cy="149.57" r="0.7" fill="#555"/>
<circle cx="334.00" cy="149.54" r="0.7" fill="#555"/>
<circle cx="299.20" cy="149.51" r="0.7" fill="#555"/>
<circle cx="335.45" cy="149.48" r="0.7" fill="#555"/>
<circle cx="297.75" cy="149.45" r="0.7" fill="#555"/>
<circle cx="336.90" cy="149.42" r="0.7" fill="#555"/>
<circle cx="296.30" cy="149.39" r="0.7" fill="#555"/>
<circle cx="338.35" cy="149.36" r="0.7" fill="#555"/>
<circle cx="294.85" cy="149.34" r="0.7" fill="#555"/>
<circle cx="339.60" cy="149.31" r="0.7" fill="#555"/>
<circle cx="293.60" cy="149.28" r="0.7" fill="#555"/>
<circle cx="339.60" cy="149.25" r="0.7" fill="#555"/>
<circle cx="293.60" cy="149.23" r="0.7" fill="#555"/>
<circle cx="339.60" cy="149.20" r="0.7" fill="#555"/>
<circle cx="293.60" cy="149.17" r="0.7" fill="#555"/>
<circle cx="339.60" cy="149.15" r="0.7" fill="#555"/>
<circle cx="293.60" cy="149.12" r="0.7" fill="#555"/>
<circle cx="339.60" cy="149.10" r="0.7" fill="#555"/>
<circle cx="293.60" cy="149.07" r="0.7" fill="#555"/>
<circle cx="339.60" cy="149.04" r="0.7" fill="#555"/>
<circle cx="293.60" cy="149.02" r="0.7" fill="#555"/>
<circle cx="315.88" cy="148.99" r="0.7" fill="#555"/>
<circle cx="317.33" cy="148.97" r="0.7" fill="#555"/>
<circle cx="314.43" cy="148.94" r="0.7" fill="#555"/>
<circle cx="318.78" cy="148.91" r="0.7" fill="#555"/>
<circle cx="312.98" cy="148.89" r="0.7" fill="#555"/>
<circle cx="320.23" cy="148.86" r="0.7" fill="#555"/>
<circle cx="311.53" cy="148.84" r="0.7" fill="#555"/>
<circle cx="321.68" cy="148.81" r="0.7" fill="#555"/>
<circle cx="310.08" cy="148.79" r="0.7" fill="#555"/>
<circle cx="323.12" cy="148.76" r="0.7" fill="#555"/>
<circle cx="308.62" cy="148.74" r="0.7" fill="#555"/>
<circle cx="324.58" cy="148.71" r="0.7" fill="#555"/>
<circle cx="307.18" cy="148.69" r="0.7" fill="#555"/>
<circle cx="326.03" cy="148.66" r="0.7" fill="#555"/>
<circle cx="305.73" cy="148.64" r="0.7" fill="#555"/>
<circle cx="327.48" cy="148.61" r="0.7" fill="#555"/>
<circle cx="304.28" cy="148.59" r="0.7" fill="#555"/>
<circle cx="328.93" cy="148.56" r="0.7" fill="#555"/>
<circle cx="302.83" cy="148.54" r="0.7" fill="#555"/>
<circle cx="330.38" cy="148.51" r="0.7" fill="#555"/>
<circle cx="301.38" cy="148.48" r="0.7" fill="#555"/>
<circle cx="331.83" cy="148.46" r="0.7" fill="#555"/>
<circle cx="299.93" cy="148.43" r="0.7" fill="#555"/>
<circle cx="333.28" cy="148.41" r="0.7" fill="#555"/>
<circle cx="298.48" cy="148.38" r="0.7" fill="#555"/>
<circle cx="334.73" cy="148.36" r="0.7" fill="#555"/>
<circle cx="297.03" cy="148.33" r="0.7" fill="#555"/>
<circle cx="336.18" cy="148.31" r="0.7" fill="#555"/>
<circle cx="295.58" cy="148.28" r="0.7" fill="#555"/>
<circle cx="337.62" cy="148.26" r="0.7" fill="#555"/>
<circle cx="294.12" cy="148.23" r="0.7" fill="#555"/>
<circle cx="339.08" cy="148.21" r="0.7" fill="#555"/>
<circle cx="293.60" cy="148.18" r="0.7" fill="#555"/>
<circle cx="339.60" cy="148.15" r="0.7" fill="#555"/>
<circle cx="293.60" cy="148.13" r="0.7" fill="#555"/>
<circle cx="339.60" cy="148.10" r="0.7" fill="#555"/>
<circle cx="293.60" cy="148.08" r="0.7" fill="#555"/>
<circle cx="339.60" cy="148.05" r="0.7" fill="#555"/>
<circle cx="293.60" cy="148.03" r="0.7" fill="#555"/>
<circle cx="339.60" cy="148.00" r="0.7" fill="#555"/>
<circle cx="293.60" cy="147.97" r="0.7" fill="#555"/>
<circle cx="339.60" cy="147.95" r="0.7" fill="#555"/>
<circle cx="293.60" cy="147.92" r="0.7" fill="#555"/>
<circle cx="339.60" cy="147.89" r="0.7" fill="#555"/>
<circle cx="293.60" cy="147.87" r="0.7" fill="#555"/>
<circle cx="339.60" cy="147.84" r="0.7" fill="#555"/>
<circle cx="293.60" cy="147.82" r="0.7" fill="#555"/>
<circle cx="339.60" cy="147.79" r="0.7" fill="#555"/>
<circle cx="293.60" cy="147.76" r="0.7" fill="#555"/>
<circle cx="339.60" cy="147.74" r="0.7" fill="#555"/>
<circle cx="293.60" cy="147.71" r="0.7" fill="#555"/>
<circle cx="339.60" cy="147.68" r="0.7" fill="#555"/>
<circle cx="293.60" cy="147.65" r="0.7" fill="#555"/>
<circle cx="339.60" cy="147.63" r="0.7" fill="#555"/>
<circle cx="293.60" cy="147.60" r="0.7" fill="#555"/>
<circle cx="339.60" cy="147.57" r="0.7" fill="#555"/>
<circle cx="293.60" cy="147.54" r="0.7" fill="#555"/>
<circle cx="339.60" cy="147.52" r="0.7" fill="#555"/>
<circle cx="293.60" cy="147.49" r="0.7" fill="#555"/>
<circle cx="339.60" cy="147.46" r="0.7" fill="#555"/>
<circle cx="293.60" cy="147.43" r="0.7" fill="#555"/>
<circle cx="339.60" cy="147.40" r="0.7" fill="#555"/>
<circle cx="293.60" cy="147.38" r="0.7" fill="#555"/>
<circle cx="339.60" cy="147.35" r="0.7" fill="#555"/>
<circle cx="293.60" cy="147.32" r="0.7" fill="#555"/>
<circle cx="339.60" cy="147.29" r="0.7" fill="#555"/>
<circle cx="293.60" cy="147.26" r="0.7" fill="#555"/>
<circle cx="339.60" cy="147.23" r="0.7" fill="#555"/>
<circle cx="293.60" cy="147.20" r="0.7" fill="#555"/>
<circle cx="339.60" cy="147.17" r="0.7" fill="#555"/>
<circle cx="293.60" cy="147.14" r="0.7" fill="#555"/>
<circle cx="339.60" cy="147.11" r="0.7" fill="#555"/>
<circle cx="293.60" cy="147.08" r="0.7" fill="#555"/>
<circle cx="339.60" cy="147.05" r="0.7" fill="#555"/>
<circle cx="293.60" cy="147.02" r="0.7" fill="#555"/>
<circle cx="339.60" cy="146.99" r="0.7" fill="#555"/>
<circle cx="293.60" cy="146.96" r="0.7" fill="#555"/>
<circle cx="339.60" cy="146.93" r="0.7" fill="#555"/>
<circle cx="293.60" cy="146.90" r="0.7" fill="#555"/>
<circle cx="339.60" cy="146.87" r="0.7" fill="#555"/>
<circle cx="293.60" cy="146.84" r="0.7" fill="#555"/>
<circle cx="339.60" cy="146.81" r="0.7" fill="#555"/>
<circle cx="316.60" cy="146.78" r="0.7" fill="#555"/>
<circle cx="318.05" cy="146.74" r="0.7" fill="#555"/>
<circle cx="315.15" cy="146.71" r="0.7" fill="#555"/>
<circle cx="319.50" cy="146.68" r="0.7" fill="#555"/>
<circle cx="313.70" cy="146.65" r="0.7" fill="#555"/>
<circle cx="320.95" cy="146.62" r="0.7" fill="#555"/>
<circle cx="312.25" cy="146.58" r="0.7" fill="#555"/>
<circle cx="322.40" cy="146.55" r="0.7" fill="#555"/>
<circle cx="310.80" cy="146.52" r="0.7" fill="#555"/>
<circle cx="323.85" cy="146.48" r="0.7" fill="#555"/>
<circle cx="309.35" cy="146.45" r="0.7" fill="#555"/>
<circle cx="325.30" cy="146.41" r="0.7" fill="#555"/>
<circle cx="307.90" cy="146.38" r="0.7" fill="#555"/>
<circle cx="326.75" cy="146.35" r="0.7" fill="#555"/>
<circle cx="306.45" cy="146.31" r="0.7" fill="#555"/>
<circle cx="328.20" cy="146.28" r="0.7" fill="#555"/>
<circle cx="305.00" cy="146.24" r="0.7" fill="#555"/>
<circle cx="329.65" cy="146.20" r="0.7" fill="#555"/>
<circle cx="303.55" cy="146.17" r="0.7" fill="#555"/>
<circle cx="331.10" cy="146.13" r="0.7" fill="#555"/>
<circle cx="302.10" cy="146.10" r="0.7" fill="#555"/>
<circle cx="332.55" cy="146.06" r="0.7" fill="#555"/>
<circle cx="300.65" cy="146.02" r="0.7" fill="#555"/>
<circle cx="334.00" cy="145.98" r="0.7" fill="#555"/>
<circle cx="299.20" cy="145.95" r="0.7" fill="#555"/>
<circle cx="335.45" cy="145.91" r="0.7" fill="#555"/>
<circle cx="297.75" cy="145.87" r="0.7" fill="#555"/>
<circle cx="336.90" cy="145.83" r="0.7" fill="#555"/>
<circle cx="296.30" cy="145.79" r="0.7" fill="#555"/>
<circle cx="338.35" cy="145.75" r="0.7" fill="#555"/>
<circle cx="294.85" cy="145.71" r="0.7" fill="#555"/>
<circle cx="339.60" cy="145.67" r="0.7" fill="#555"/>
<circle cx="293.60" cy="145.63" r="0.7" fill="#555"/>
<circle cx="339.60" cy="145.59" r="0.7" fill="#555"/>
<circle cx="293.60" cy="145.55" r="0.7" fill="#555"/>
<circle cx="339.60" cy="145.51" r="0.7" fill="#555"/>
<circle cx="293.60" cy="145.47" r="0.7" fill="#555"/>
<circle cx="339.60" cy="145.42" r="0.7" fill="#555"/>
<circle cx="293.60" cy="145.38" r="0.7" fill="#555"/>
<circle cx="339.60" cy="145.34" r="0.7" fill="#555"/>
<circle cx="293.60" cy="145.29" r="0.7" fill="#555"/>
<circle cx="339.60" cy="145.25" r="0.7" fill="#555"/>
<circle cx="293.60" cy="145.20" r="0.7" fill="#555"/>
<circle cx="339.60" cy="145.16" r="0.7" fill="#555"/>
<circle cx="293.60" cy="145.11" r="0.7" fill="#555"/>
<circle cx="339.60" cy="145.07" r="0.7" fill="#555"/>
<circle cx="293.60" cy="145.02" r="0.7" fill="#555"/>
<circle cx="339.60" cy="144.97" r="0.7" fill="#555"/>
<circle cx="293.60" cy="144.93" r="0.7" fill="#555"/>
<circle cx="339.60" cy="144.88" r="0.7" fill="#555"/>
<circle cx="293.60" cy="144.83" r="0.7" fill="#555"/>
<circle cx="339.60" cy="144.78" r="0.7" fill="#555"/>
<circle cx="293.60" cy="144.73" r="0.7" fill="#555"/>
<circle cx="339.60" cy="144.68" r="0.7" fill="#555"/>
<circle cx="293.60" cy="144.63" r="0.7" fill="#555"/>
<circle cx="316.60" cy="144.58" r="0.7" fill="#555"/>
<circle cx="318.05" cy="144.52" r="0.7" fill="#555"/>
<circle cx="315.15" cy="144.47" r="0.7" fill="#555"/>
<circle cx="319.50" cy="144.42" r="0.7" fill="#555"/>
<circle cx="313.70" cy="144.36" r="0.7" fill="#555"/>
<circle cx="320.95" cy="144.31" r="0.7" fill="#555"/>
<circle cx="312.25" cy="144.25" r="0.7" fill="#555"/>
<circle cx="322.40" cy="144.20" r="0.7" fill="#555"/>
<circle cx="310.80" cy="144.14" r="0.7" fill="#555"/>
<circle cx="323.85" cy="144.08" r="0.7" fill="#555"/>
<circle cx="309.35" cy="144.02" r="0.7" fill="#555"/>
<circle cx="325.30" cy="143.96" r="0.7" fill="#555"/>
<circle cx="307.90" cy="143.90" r="0.7" fill="#555"/>
<circle cx="326.75" cy="143.84" r="0.7" fill="#555"/>
<circle cx="306.45" cy="143.78" r="0.7" fill="#555"/>
<circle cx="328.20" cy="143.71" r="0.7" fill="#555"/>
<circle cx="305.00" cy="143.65" r="0.7" fill="#555"/>
<circle cx="329.65" cy="143.58" r="0.7" fill="#555"/>
<circle cx="303.55" cy="143.52" r="0.7" fill="#555"/>
<circle cx="331.10" cy="143.45" r="0.7" fill="#555"/>
<circle cx="302.10" cy="143.38" r="0.7" fill="#555"/>
<circle cx="332.55" cy="143.31" r="0.7" fill="#555"/>
<circle cx="300.65" cy="143.24" r="0.7" fill="#555"/>
<circle cx="334.00" cy="143.17" r="0.7" fill="#555"/>
<circle cx="299.20" cy="143.09" r="0.7" fill="#555"/>
<circle cx="335.45" cy="143.02" r="0.7" fill="#555"/>
<circle cx="297.75" cy="142.94" r="0.7" fill="#555"/>
<circle cx="336.90" cy="142.87" r="0.7" fill="#555"/>
<circle cx="296.30" cy="142.79" r="0.7" fill="#555"/>
<circle cx="338.35" cy="142.71" r="0.7" fill="#555"/>
<circle cx="294.85" cy="142.63" r="0.7" fill="#555"/>
<circle cx="339.60" cy="142.54" r="0.7" fill="#555"/>
<circle cx="293.60" cy="142.46" r="0.7" fill="#555"/>
<circle cx="315.88" cy="142.37" r="0.7" fill="#555"/>
<circle cx="317.33" cy="142.28" r="0.7" fill="#555"/>
<circle cx="314.43" cy="142.19" r="0.7" fill="#555"/>
<circle cx="318.78" cy="142.10" r="0.7" fill="#555"/>
<circle cx="312.98" cy="142.01" r="0.7" fill="#555"/>
<circle cx="320.23" cy="141.91" r="0.7" fill="#555"/>
<circle cx="311.53" cy="141.81" r="0.7" fill="#555"/>
<circle cx="321.68" cy="141.71" r="0.7" fill="#555"/>
<circle cx="310.08" cy="141.61" r="0.7" fill="#555"/>
<circle cx="323.12" cy="141.50" r="0.7" fill="#555"/>
<circle cx="308.62" cy="141.39" r="0.7" fill="#555"/>
<circle cx="324.58" cy="141.28" r="0.7" fill="#555"/>
<circle cx="307.18" cy="141.17" r="0.7" fill="#555"/>
<circle cx="326.03" cy="141.05" r="0.7" fill="#555"/>
<circle cx="305.73" cy="140.93" r="0.7" fill="#555"/>
<circle cx="327.48" cy="140.81" r="0.7" fill="#555"/>
<circle cx="304.28" cy="140.68" r="0.7" fill="#555"/>
<circle cx="328.93" cy="140.55" r="0.7" fill="#555"/>
<circle cx="302.83" cy="140.41" r="0.7" fill="#555"/>
<circle cx="330.38" cy="140.28" r="0.7" fill="#555"/>
<circle cx="315.88" cy="140.13" r="0.7" fill="#555"/>
<circle cx="317.33" cy="139.99" r="0.7" fill="#555"/>
<circle cx="314.43" cy="139.83" r="0.7" fill="#555"/>
<circle cx="318.78" cy="139.68" r="0.7" fill="#555"/>
<circle cx="312.98" cy="139.51" r="0.7" fill="#555"/>
<circle cx="320.23" cy="139.34" r="0.7" fill="#555"/>
<circle cx="311.53" cy="139.17" r="0.7" fill="#555"/>
<circle cx="321.68" cy="138.98" r="0.7" fill="#555"/>
<circle cx="310.08" cy="138.79" r="0.7" fill="#555"/>
<circle cx="323.12" cy="138.60" r="0.7" fill="#555"/>
<circle cx="308.62" cy="138.39" r="0.7" fill="#555"/>
<circle cx="324.58" cy="138.17" r="0.7" fill="#555"/>
<circle cx="315.88" cy="137.95" r="0.7" fill="#555"/>
<circle cx="317.33" cy="137.71" r="0.7" fill="#555"/>
<circle cx="314.43" cy="137.46" r="0.7" fill="#555"/>
<circle cx="318.78" cy="137.20" r="0.7" fill="#555"/>
<circle cx="312.98" cy="136.92" r="0.7" fill="#555"/>
<circle cx="320.23" cy="136.63" r="0.7" fill="#555"/>
<circle cx="311.53" cy="136.32" r="0.7" fill="#555"/>
<circle cx="321.68" cy="135.98" r="0.7" fill="#555"/>
<circle cx="316.60" cy="135.63" r="0.7" fill="#555"/>
<circle cx="318.05" cy="135.25" r="0.7" fill="#555"/>
<circle cx="315.15" cy="134.84" r="0.7" fill="#555"/>
<circle cx="319.50" cy="134.39" r="0.7" fill="#555"/>
<circle cx="313.70" cy="133.90" r="0.7" fill="#555"/>
<circle cx="316.60" cy="133.37" r="0.7" fill="#555"/>
<circle cx="318.05" cy="132.78" r="0.7" fill="#555"/>
<circle cx="315.15" cy="132.12" r="0.7" fill="#555"/>
<circle cx="316.60" cy="131.37" r="0.7" fill="#555"/>
<circle cx="318.05" cy="130.51" r="0.7" fill="#555"/>
<circle cx="315.15" cy="129.51" r="0.7" fill="#555"/>
<circle cx="316.60" cy="128.30" r="0.7" fill="#555"/>
<circle cx="316.60" cy="126.81" r="0.7" fill="#555"/>
<circle cx="318.05" cy="125.72" r="0.7" fill="#555"/>
<circle cx="315.15" cy="125.72" r="0.7" fill="#555"/>
<circle cx="319.50" cy="125.72" r="0.7" fill="#555"/>
<circle cx="313.70" cy="125.72" r="0.7" fill="#555"/>
<circle cx="316.60" cy="121.90" r="0.7" fill="#555"/>
<circle cx="316.60" cy="118.71" r="0.7" fill="#555"/>
<circle cx="316.60" cy="114.89" r="0.7" fill="#555"/>
<circle cx="316.60" cy="111.71" r="0.7" fill="#555"/>
<circle cx="316.60" cy="76.67" r="0.7" fill="#555"/>
<line x1="220.00" y1="145.60" x2="268.00" y2="145.60" stroke="#222" stroke-width="1.3" />
<line x1="232.80" y1="140.00" x2="255.20" y2="140.00" stroke="#222" stroke-width="1.3" />
<line x1="232.80" y1="151.20" x2="255.20" y2="151.20" stroke="#222" stroke-width="1.3" />
<line x1="244.00" y1="140.00" x2="244.00" y2="151.20" stroke="#222" stroke-width="1.3" />
<line x1="292.80" y1="144.40" x2="340.40" y2="144.40" stroke="#222" stroke-width="1.3" />
<line x1="304.80" y1="136.80" x2="328.40" y2="136.80" stroke="#222" stroke-width="1.3" />
<line x1="304.80" y1="152.00" x2="328.40" y2="152.00" stroke="#222" stroke-width="1.3" />
<line x1="316.60" y1="136.80" x2="316.60" y2="152.00" stroke="#222" stroke-width="1.3" />
<text x="244.00" y="162.00" font-size="7" fill="#2a2a2a" text-anchor="middle" font-weight="bold" >No radiotherapy</text>
<text x="243.60" y="173.60" font-size="7.6" fill="#333" text-anchor="middle" >n = 148</text>
<text x="316.60" y="162.00" font-size="7" fill="#2a2a2a" text-anchor="middle" font-weight="bold" >Radiotherapy</text>
<text x="314.40" y="173.60" font-size="7.6" fill="#333" text-anchor="middle" >n = 275</text>
<text x="192.45" y="103.40" font-size="7" fill="#222" text-anchor="middle" transform="rotate(-90 192.45 103.40)" font-weight="bold">Relative miR-96 expression</text>
<rect x="352.00" y="28.00" width="176.00" height="141.00" fill="#fdfdfd" />
<text x="362.11" y="22.34" font-size="17.8" fill="#000" text-anchor="start" font-weight="bold" >C</text>
<text x="431.00" y="40.00" font-size="9" fill="#333" textLength="43.00" lengthAdjust="spacingAndGlyphs"><tspan font-style="italic">p</tspan> = 0.0195</text>
<line x1="416.00" y1="48.00" x2="491.00" y2="48.00" stroke="#222" stroke-width="1.6" />
<line x1="416.00" y1="44.50" x2="416.00" y2="51.50" stroke="#222" stroke-width="1.6" />
<line x1="491.00" y1="44.50" x2="491.00" y2="51.50" stroke="#222" stroke-width="1.6" />
<line x1="381.00" y1="54.60" x2="381.00" y2="151.50" stroke="#333" stroke-width="1.3" />
<line x1="379.00" y1="54.60" x2="381.00" y2="54.60" stroke="#333" stroke-width="1.3" />
<text x="377.50" y="57.12" font-size="7" fill="#222" text-anchor="end" font-weight="bold" >8</text>
<line x1="379.00" y1="79.00" x2="381.00" y2="79.00" stroke="#333" stroke-width="1.3" />
<text x="377.50" y="81.52" font-size="7" fill="#222" text-anchor="end" font-weight="bold" >6</text>
<line x1="379.00" y1="103.20" x2="381.00" y2="103.20" stroke="#333" stroke-width="1.3" />
<text x="377.50" y="105.72" font-size="7" fill="#222" text-anchor="end" font-weight="bold" >4</text>
<line x1="379.00" y1="127.40" x2="381.00" y2="127.40" stroke="#333" stroke-width="1.3" />
<text x="377.50" y="129.92" font-size="7" fill="#222" text-anchor="end" font-weight="bold" >2</text>
<line x1="379.00" y1="151.50" x2="381.00" y2="151.50" stroke="#333" stroke-width="1.3" />
<text x="377.50" y="154.02" font-size="7" fill="#222" text-anchor="end" font-weight="bold" >0</text>
<line x1="381.00" y1="151.50" x2="526.00" y2="151.50" stroke="#333" stroke-width="1.4" />
<line x1="417.00" y1="151.50" x2="417.00" y2="154.50" stroke="#333" stroke-width="1.2" />
<line x1="490.00" y1="151.50" x2="490.00" y2="154.50" stroke="#333" stroke-width="1.2" />
<circle cx="416.27" cy="150.19" r="0.7" fill="#555"/>
<circle cx="417.73" cy="149.80" r="0.7" fill="#555"/>
<circle cx="414.82" cy="149.55" r="0.7" fill="#555"/>
<circle cx="419.18" cy="149.36" r="0.7" fill="#555"/>
<circle cx="416.27" cy="149.20" r="0.7" fill="#555"/>
<circle cx="417.73" cy="149.05" r="0.7" fill="#555"/>
<circle cx="414.82" cy="148.92" r="0.7" fill="#555"/>
<circle cx="419.18" cy="148.79" r="0.7" fill="#555"/>
<circle cx="413.38" cy="148.68" r="0.7" fill="#555"/>
<circle cx="420.62" cy="148.57" r="0.7" fill="#555"/>
<circle cx="411.93" cy="148.46" r="0.7" fill="#555"/>
<circle cx="422.07" cy="148.36" r="0.7" fill="#555"/>
<circle cx="410.48" cy="148.26" r="0.7" fill="#555"/>
<circle cx="423.52" cy="148.17" r="0.7" fill="#555"/>
<circle cx="409.02" cy="148.08" r="0.7" fill="#555"/>
<circle cx="424.98" cy="147.99" r="0.7" fill="#555"/>
<circle cx="407.57" cy="147.90" r="0.7" fill="#555"/>
<circle cx="426.43" cy="147.81" r="0.7" fill="#555"/>
<circle cx="406.12" cy="147.73" r="0.7" fill="#555"/>
<circle cx="427.88" cy="147.64" r="0.7" fill="#555"/>
<circle cx="404.68" cy="147.56" r="0.7" fill="#555"/>
<circle cx="429.32" cy="147.48" r="0.7" fill="#555"/>
<circle cx="403.23" cy="147.40" r="0.7" fill="#555"/>
<circle cx="430.77" cy="147.32" r="0.7" fill="#555"/>
<circle cx="401.77" cy="147.24" r="0.7" fill="#555"/>
<circle cx="432.23" cy="147.16" r="0.7" fill="#555"/>
<circle cx="417.00" cy="147.08" r="0.7" fill="#555"/>
<circle cx="418.45" cy="147.00" r="0.7" fill="#555"/>
<circle cx="415.55" cy="146.92" r="0.7" fill="#555"/>
<circle cx="419.90" cy="146.85" r="0.7" fill="#555"/>
<circle cx="414.10" cy="146.77" r="0.7" fill="#555"/>
<circle cx="421.35" cy="146.69" r="0.7" fill="#555"/>
<circle cx="412.65" cy="146.62" r="0.7" fill="#555"/>
<circle cx="422.80" cy="146.54" r="0.7" fill="#555"/>
<circle cx="411.20" cy="146.46" r="0.7" fill="#555"/>
<circle cx="424.25" cy="146.39" r="0.7" fill="#555"/>
<circle cx="409.75" cy="146.31" r="0.7" fill="#555"/>
<circle cx="425.70" cy="146.24" r="0.7" fill="#555"/>
<circle cx="408.30" cy="146.16" r="0.7" fill="#555"/>
<circle cx="427.15" cy="146.08" r="0.7" fill="#555"/>
<circle cx="406.85" cy="146.01" r="0.7" fill="#555"/>
<circle cx="428.60" cy="145.93" r="0.7" fill="#555"/>
<circle cx="405.40" cy="145.85" r="0.7" fill="#555"/>
<circle cx="430.05" cy="145.78" r="0.7" fill="#555"/>
<circle cx="403.95" cy="145.70" r="0.7" fill="#555"/>
<circle cx="431.50" cy="145.62" r="0.7" fill="#555"/>
<circle cx="402.50" cy="145.54" r="0.7" fill="#555"/>
<circle cx="432.95" cy="145.47" r="0.7" fill="#555"/>
<circle cx="401.05" cy="145.39" r="0.7" fill="#555"/>
<circle cx="434.40" cy="145.31" r="0.7" fill="#555"/>
<circle cx="399.60" cy="145.23" r="0.7" fill="#555"/>
<circle cx="435.85" cy="145.15" r="0.7" fill="#555"/>
<circle cx="398.15" cy="145.07" r="0.7" fill="#555"/>
<circle cx="437.30" cy="144.99" r="0.7" fill="#555"/>
<circle cx="396.70" cy="144.91" r="0.7" fill="#555"/>
<circle cx="416.27" cy="144.83" r="0.7" fill="#555"/>
<circle cx="417.73" cy="144.74" r="0.7" fill="#555"/>
<circle cx="414.82" cy="144.66" r="0.7" fill="#555"/>
<circle cx="419.18" cy="144.58" r="0.7" fill="#555"/>
<circle cx="413.38" cy="144.49" r="0.7" fill="#555"/>
<circle cx="420.62" cy="144.41" r="0.7" fill="#555"/>
<circle cx="411.93" cy="144.32" r="0.7" fill="#555"/>
<circle cx="422.07" cy="144.24" r="0.7" fill="#555"/>
<circle cx="410.48" cy="144.15" r="0.7" fill="#555"/>
<circle cx="423.52" cy="144.06" r="0.7" fill="#555"/>
<circle cx="409.02" cy="143.98" r="0.7" fill="#555"/>
<circle cx="424.98" cy="143.89" r="0.7" fill="#555"/>
<circle cx="407.57" cy="143.80" r="0.7" fill="#555"/>
<circle cx="426.43" cy="143.70" r="0.7" fill="#555"/>
<circle cx="406.12" cy="143.61" r="0.7" fill="#555"/>
<circle cx="427.88" cy="143.52" r="0.7" fill="#555"/>
<circle cx="404.68" cy="143.43" r="0.7" fill="#555"/>
<circle cx="429.32" cy="143.33" r="0.7" fill="#555"/>
<circle cx="403.23" cy="143.23" r="0.7" fill="#555"/>
<circle cx="430.77" cy="143.14" r="0.7" fill="#555"/>
<circle cx="401.77" cy="143.04" r="0.7" fill="#555"/>
<circle cx="432.23" cy="142.94" r="0.7" fill="#555"/>
<circle cx="400.32" cy="142.84" r="0.7" fill="#555"/>
<circle cx="433.68" cy="142.73" r="0.7" fill="#555"/>
<circle cx="416.27" cy="142.63" r="0.7" fill="#555"/>
<circle cx="417.73" cy="142.52" r="0.7" fill="#555"/>
<circle cx="414.82" cy="142.42" r="0.7" fill="#555"/>
<circle cx="419.18" cy="142.31" r="0.7" fill="#555"/>
<circle cx="413.38" cy="142.20" r="0.7" fill="#555"/>
<circle cx="420.62" cy="142.09" r="0.7" fill="#555"/>
<circle cx="411.93" cy="141.97" r="0.7" fill="#555"/>
<circle cx="422.07" cy="141.86" r="0.7" fill="#555"/>
<circle cx="410.48" cy="141.74" r="0.7" fill="#555"/>
<circle cx="423.52" cy="141.62" r="0.7" fill="#555"/>
<circle cx="409.02" cy="141.50" r="0.7" fill="#555"/>
<circle cx="424.98" cy="141.37" r="0.7" fill="#555"/>
<circle cx="407.57" cy="141.25" r="0.7" fill="#555"/>
<circle cx="426.43" cy="141.12" r="0.7" fill="#555"/>
<circle cx="406.12" cy="140.99" r="0.7" fill="#555"/>
<circle cx="427.88" cy="140.86" r="0.7" fill="#555"/>
<circle cx="404.68" cy="140.72" r="0.7" fill="#555"/>
<circle cx="429.32" cy="140.58" r="0.7" fill="#555"/>
<circle cx="417.00" cy="140.44" r="0.7" fill="#555"/>
<circle cx="418.45" cy="140.29" r="0.7" fill="#555"/>
<circle cx="415.55" cy="140.15" r="0.7" fill="#555"/>
<circle cx="419.90" cy="139.99" r="0.7" fill="#555"/>
<circle cx="414.10" cy="139.84" r="0.7" fill="#555"/>
<circle cx="421.35" cy="139.68" r="0.7" fill="#555"/>
<circle cx="412.65" cy="139.52" r="0.7" fill="#555"/>
<circle cx="422.80" cy="139.35" r="0.7" fill="#555"/>
<circle cx="411.20" cy="139.18" r="0.7" fill="#555"/>
<circle cx="424.25" cy="139.00" r="0.7" fill="#555"/>
<circle cx="409.75" cy="138.82" r="0.7" fill="#555"/>
<circle cx="425.70" cy="138.64" r="0.7" fill="#555"/>
<circle cx="408.30" cy="138.44" r="0.7" fill="#555"/>
<circle cx="416.27" cy="138.25" r="0.7" fill="#555"/>
<circle cx="417.73" cy="138.04" r="0.7" fill="#555"/>
<circle cx="414.82" cy="137.83" r="0.7" fill="#555"/>
<circle cx="419.18" cy="137.62" r="0.7" fill="#555"/>
<circle cx="413.38" cy="137.39" r="0.7" fill="#555"/>
<circle cx="420.62" cy="137.16" r="0.7" fill="#555"/>
<circle cx="411.93" cy="136.92" r="0.7" fill="#555"/>
<circle cx="422.07" cy="136.66" r="0.7" fill="#555"/>
<circle cx="410.48" cy="136.40" r="0.7" fill="#555"/>
<circle cx="423.52" cy="136.13" r="0.7" fill="#555"/>
<circle cx="416.27" cy="135.85" r="0.7" fill="#555"/>
<circle cx="417.73" cy="135.55" r="0.7" fill="#555"/>
<circle cx="414.82" cy="135.24" r="0.7" fill="#555"/>
<circle cx="419.18" cy="134.91" r="0.7" fill="#555"/>
<circle cx="413.38" cy="134.57" r="0.7" fill="#555"/>
<circle cx="420.62" cy="134.20" r="0.7" fill="#555"/>
<circle cx="417.00" cy="133.82" r="0.7" fill="#555"/>
<circle cx="418.45" cy="133.41" r="0.7" fill="#555"/>
<circle cx="415.55" cy="132.97" r="0.7" fill="#555"/>
<circle cx="419.90" cy="132.51" r="0.7" fill="#555"/>
<circle cx="414.10" cy="132.01" r="0.7" fill="#555"/>
<circle cx="416.27" cy="131.47" r="0.7" fill="#555"/>
<circle cx="417.73" cy="130.88" r="0.7" fill="#555"/>
<circle cx="414.82" cy="130.24" r="0.7" fill="#555"/>
<circle cx="419.18" cy="129.53" r="0.7" fill="#555"/>
<circle cx="416.27" cy="128.74" r="0.7" fill="#555"/>
<circle cx="417.73" cy="127.85" r="0.7" fill="#555"/>
<circle cx="416.27" cy="126.83" r="0.7" fill="#555"/>
<circle cx="417.73" cy="125.65" r="0.7" fill="#555"/>
<circle cx="417.00" cy="124.25" r="0.7" fill="#555"/>
<circle cx="417.00" cy="122.52" r="0.7" fill="#555"/>
<circle cx="417.00" cy="120.30" r="0.7" fill="#555"/>
<circle cx="417.00" cy="117.20" r="0.7" fill="#555"/>
<circle cx="416.27" cy="115.20" r="0.7" fill="#555"/>
<circle cx="417.73" cy="115.20" r="0.7" fill="#555"/>
<circle cx="417.00" cy="111.57" r="0.7" fill="#555"/>
<circle cx="417.00" cy="106.73" r="0.7" fill="#555"/>
<circle cx="417.00" cy="100.68" r="0.7" fill="#555"/>
<circle cx="490.00" cy="150.24" r="0.7" fill="#555"/>
<circle cx="491.45" cy="149.87" r="0.7" fill="#555"/>
<circle cx="488.55" cy="149.64" r="0.7" fill="#555"/>
<circle cx="492.90" cy="149.47" r="0.7" fill="#555"/>
<circle cx="487.10" cy="149.32" r="0.7" fill="#555"/>
<circle cx="490.00" cy="149.19" r="0.7" fill="#555"/>
<circle cx="491.45" cy="149.07" r="0.7" fill="#555"/>
<circle cx="488.55" cy="148.96" r="0.7" fill="#555"/>
<circle cx="492.90" cy="148.86" r="0.7" fill="#555"/>
<circle cx="487.10" cy="148.76" r="0.7" fill="#555"/>
<circle cx="494.35" cy="148.67" r="0.7" fill="#555"/>
<circle cx="485.65" cy="148.59" r="0.7" fill="#555"/>
<circle cx="495.80" cy="148.50" r="0.7" fill="#555"/>
<circle cx="484.20" cy="148.42" r="0.7" fill="#555"/>
<circle cx="497.25" cy="148.35" r="0.7" fill="#555"/>
<circle cx="482.75" cy="148.27" r="0.7" fill="#555"/>
<circle cx="498.70" cy="148.20" r="0.7" fill="#555"/>
<circle cx="481.30" cy="148.13" r="0.7" fill="#555"/>
<circle cx="500.15" cy="148.06" r="0.7" fill="#555"/>
<circle cx="479.85" cy="147.99" r="0.7" fill="#555"/>
<circle cx="501.60" cy="147.92" r="0.7" fill="#555"/>
<circle cx="478.40" cy="147.86" r="0.7" fill="#555"/>
<circle cx="503.05" cy="147.80" r="0.7" fill="#555"/>
<circle cx="476.95" cy="147.73" r="0.7" fill="#555"/>
<circle cx="504.50" cy="147.67" r="0.7" fill="#555"/>
<circle cx="475.50" cy="147.61" r="0.7" fill="#555"/>
<circle cx="505.95" cy="147.55" r="0.7" fill="#555"/>
<circle cx="474.05" cy="147.49" r="0.7" fill="#555"/>
<circle cx="507.40" cy="147.43" r="0.7" fill="#555"/>
<circle cx="472.60" cy="147.37" r="0.7" fill="#555"/>
<circle cx="508.85" cy="147.31" r="0.7" fill="#555"/>
<circle cx="471.15" cy="147.26" r="0.7" fill="#555"/>
<circle cx="510.30" cy="147.20" r="0.7" fill="#555"/>
<circle cx="469.70" cy="147.14" r="0.7" fill="#555"/>
<circle cx="490.00" cy="147.09" r="0.7" fill="#555"/>
<circle cx="491.45" cy="147.03" r="0.7" fill="#555"/>
<circle cx="488.55" cy="146.98" r="0.7" fill="#555"/>
<circle cx="492.90" cy="146.92" r="0.7" fill="#555"/>
<circle cx="487.10" cy="146.87" r="0.7" fill="#555"/>
<circle cx="494.35" cy="146.81" r="0.7" fill="#555"/>
<circle cx="485.65" cy="146.76" r="0.7" fill="#555"/>
<circle cx="495.80" cy="146.71" r="0.7" fill="#555"/>
<circle cx="484.20" cy="146.65" r="0.7" fill="#555"/>
<circle cx="497.25" cy="146.60" r="0.7" fill="#555"/>
<circle cx="482.75" cy="146.55" r="0.7" fill="#555"/>
<circle cx="498.70" cy="146.50" r="0.7" fill="#555"/>
<circle cx="481.30" cy="146.44" r="0.7" fill="#555"/>
<circle cx="500.15" cy="146.39" r="0.7" fill="#555"/>
<circle cx="479.85" cy="146.34" r="0.7" fill="#555"/>
<circle cx="501.60" cy="146.29" r="0.7" fill="#555"/>
<circle cx="478.40" cy="146.24" r="0.7" fill="#555"/>
<circle cx="503.05" cy="146.18" r="0.7" fill="#555"/>
<circle cx="476.95" cy="146.13" r="0.7" fill="#555"/>
<circle cx="504.50" cy="146.08" r="0.7" fill="#555"/>
<circle cx="475.50" cy="146.03" r="0.7" fill="#555"/>
<circle cx="505.95" cy="145.98" r="0.7" fill="#555"/>
<circle cx="474.05" cy="145.93" r="0.7" fill="#555"/>
<circle cx="507.40" cy="145.88" r="0.7" fill="#555"/>
<circle cx="472.60" cy="145.83" r="0.7" fill="#555"/>
<circle cx="508.85" cy="145.78" r="0.7" fill="#555"/>
<circle cx="471.15" cy="145.73" r="0.7" fill="#555"/>
<circle cx="510.30" cy="145.67" r="0.7" fill="#555"/>
<circle cx="469.70" cy="145.62" r="0.7" fill="#555"/>
<circle cx="511.75" cy="145.57" r="0.7" fill="#555"/>
<circle cx="468.25" cy="145.52" r="0.7" fill="#555"/>
<circle cx="513.00" cy="145.47" r="0.7" fill="#555"/>
<circle cx="467.00" cy="145.42" r="0.7" fill="#555"/>
<circle cx="513.00" cy="145.37" r="0.7" fill="#555"/>
<circle cx="467.00" cy="145.32" r="0.7" fill="#555"/>
<circle cx="513.00" cy="145.27" r="0.7" fill="#555"/>
<circle cx="467.00" cy="145.22" r="0.7" fill="#555"/>
<circle cx="513.00" cy="145.17" r="0.7" fill="#555"/>
<circle cx="467.00" cy="145.12" r="0.7" fill="#555"/>
<circle cx="513.00" cy="145.06" r="0.7" fill="#555"/>
<circle cx="467.00" cy="145.01" r="0.7" fill="#555"/>
<circle cx="513.00" cy="144.96" r="0.7" fill="#555"/>
<circle cx="467.00" cy="144.91" r="0.7" fill="#555"/>
<circle cx="489.27" cy="144.86" r="0.7" fill="#555"/>
<circle cx="490.73" cy="144.81" r="0.7" fill="#555"/>
<circle cx="487.82" cy="144.76" r="0.7" fill="#555"/>
<circle cx="492.18" cy="144.70" r="0.7" fill="#555"/>
<circle cx="486.38" cy="144.65" r="0.7" fill="#555"/>
<circle cx="493.62" cy="144.60" r="0.7" fill="#555"/>
<circle cx="484.93" cy="144.55" r="0.7" fill="#555"/>
<circle cx="495.07" cy="144.50" r="0.7" fill="#555"/>
<circle cx="483.48" cy="144.45" r="0.7" fill="#555"/>
<circle cx="496.52" cy="144.39" r="0.7" fill="#555"/>
<circle cx="482.02" cy="144.34" r="0.7" fill="#555"/>
<circle cx="497.98" cy="144.29" r="0.7" fill="#555"/>
<circle cx="480.57" cy="144.24" r="0.7" fill="#555"/>
<circle cx="499.43" cy="144.18" r="0.7" fill="#555"/>
<circle cx="479.12" cy="144.13" r="0.7" fill="#555"/>
<circle cx="500.88" cy="144.08" r="0.7" fill="#555"/>
<circle cx="477.68" cy="144.02" r="0.7" fill="#555"/>
<circle cx="502.32" cy="143.97" r="0.7" fill="#555"/>
<circle cx="476.23" cy="143.92" r="0.7" fill="#555"/>
<circle cx="503.77" cy="143.86" r="0.7" fill="#555"/>
<circle cx="474.77" cy="143.81" r="0.7" fill="#555"/>
<circle cx="505.23" cy="143.75" r="0.7" fill="#555"/>
<circle cx="473.32" cy="143.70" r="0.7" fill="#555"/>
<circle cx="506.68" cy="143.64" r="0.7" fill="#555"/>
<circle cx="471.88" cy="143.59" r="0.7" fill="#555"/>
<circle cx="508.12" cy="143.53" r="0.7" fill="#555"/>
<circle cx="470.43" cy="143.48" r="0.7" fill="#555"/>
<circle cx="509.57" cy="143.42" r="0.7" fill="#555"/>
<circle cx="468.98" cy="143.37" r="0.7" fill="#555"/>
<circle cx="511.02" cy="143.31" r="0.7" fill="#555"/>
<circle cx="467.52" cy="143.26" r="0.7" fill="#555"/>
<circle cx="512.48" cy="143.20" r="0.7" fill="#555"/>
<circle cx="467.00" cy="143.14" r="0.7" fill="#555"/>
<circle cx="513.00" cy="143.09" r="0.7" fill="#555"/>
<circle cx="467.00" cy="143.03" r="0.7" fill="#555"/>
<circle cx="513.00" cy="142.97" r="0.7" fill="#555"/>
<circle cx="467.00" cy="142.91" r="0.7" fill="#555"/>
<circle cx="513.00" cy="142.86" r="0.7" fill="#555"/>
<circle cx="467.00" cy="142.80" r="0.7" fill="#555"/>
<circle cx="513.00" cy="142.74" r="0.7" fill="#555"/>
<circle cx="489.27" cy="142.68" r="0.7" fill="#555"/>
<circle cx="490.73" cy="142.62" r="0.7" fill="#555"/>
<circle cx="487.82" cy="142.56" r="0.7" fill="#555"/>
<circle cx="492.18" cy="142.50" r="0.7" fill="#555"/>
<circle cx="486.38" cy="142.44" r="0.7" fill="#555"/>
<circle cx="493.62" cy="142.38" r="0.7" fill="#555"/>
<circle cx="484.93" cy="142.32" r="0.7" fill="#555"/>
<circle cx="495.07" cy="142.26" r="0.7" fill="#555"/>
<circle cx="483.48" cy="142.20" r="0.7" fill="#555"/>
<circle cx="496.52" cy="142.13" r="0.7" fill="#555"/>
<circle cx="482.02" cy="142.07" r="0.7" fill="#555"/>
<circle cx="497.98" cy="142.01" r="0.7" fill="#555"/>
<circle cx="480.57" cy="141.95" r="0.7" fill="#555"/>
<circle cx="499.43" cy="141.88" r="0.7" fill="#555"/>
<circle cx="479.12" cy="141.82" r="0.7" fill="#555"/>
<circle cx="500.88" cy="141.75" r="0.7" fill="#555"/>
<circle cx="477.68" cy="141.69" r="0.7" fill="#555"/>
<circle cx="502.32" cy="141.63" r="0.7" fill="#555"/>
<circle cx="476.23" cy="141.56" r="0.7" fill="#555"/>
<circle cx="503.77" cy="141.49" r="0.7" fill="#555"/>
<circle cx="474.77" cy="141.43" r="0.7" fill="#555"/>
<circle cx="505.23" cy="141.36" r="0.7" fill="#555"/>
<circle cx="473.32" cy="141.29" r="0.7" fill="#555"/>
<circle cx="506.68" cy="141.23" r="0.7" fill="#555"/>
<circle cx="471.88" cy="141.16" r="0.7" fill="#555"/>
<circle cx="508.12" cy="141.09" r="0.7" fill="#555"/>
<circle cx="470.43" cy="141.02" r="0.7" fill="#555"/>
<circle cx="509.57" cy="140.95" r="0.7" fill="#555"/>
<circle cx="468.98" cy="140.88" r="0.7" fill="#555"/>
<circle cx="511.02" cy="140.81" r="0.7" fill="#555"/>
<circle cx="467.52" cy="140.74" r="0.7" fill="#555"/>
<circle cx="512.48" cy="140.66" r="0.7" fill="#555"/>
<circle cx="467.00" cy="140.59" r="0.7" fill="#555"/>
<circle cx="513.00" cy="140.52" r="0.7" fill="#555"/>
<circle cx="489.27" cy="140.44" r="0.7" fill="#555"/>
<circle cx="490.73" cy="140.37" r="0.7" fill="#555"/>
<circle cx="487.82" cy="140.30" r="0.7" fill="#555"/>
<circle cx="492.18" cy="140.22" r="0.7" fill="#555"/>
<circle cx="486.38" cy="140.14" r="0.7" fill="#555"/>
<circle cx="493.62" cy="140.07" r="0.7" fill="#555"/>
<circle cx="484.93" cy="139.99" r="0.7" fill="#555"/>
<circle cx="495.07" cy="139.91" r="0.7" fill="#555"/>
<circle cx="483.48" cy="139.83" r="0.7" fill="#555"/>
<circle cx="496.52" cy="139.75" r="0.7" fill="#555"/>
<circle cx="482.02" cy="139.67" r="0.7" fill="#555"/>
<circle cx="497.98" cy="139.59" r="0.7" fill="#555"/>
<circle cx="480.57" cy="139.51" r="0.7" fill="#555"/>
<circle cx="499.43" cy="139.43" r="0.7" fill="#555"/>
<circle cx="479.12" cy="139.34" r="0.7" fill="#555"/>
<circle cx="500.88" cy="139.26" r="0.7" fill="#555"/>
<circle cx="477.68" cy="139.17" r="0.7" fill="#555"/>
<circle cx="502.32" cy="139.09" r="0.7" fill="#555"/>
<circle cx="476.23" cy="139.00" r="0.7" fill="#555"/>
<circle cx="503.77" cy="138.91" r="0.7" fill="#555"/>
<circle cx="474.77" cy="138.82" r="0.7" fill="#555"/>
<circle cx="505.23" cy="138.73" r="0.7" fill="#555"/>
<circle cx="473.32" cy="138.64" r="0.7" fill="#555"/>
<circle cx="506.68" cy="138.55" r="0.7" fill="#555"/>
<circle cx="471.88" cy="138.46" r="0.7" fill="#555"/>
<circle cx="508.12" cy="138.36" r="0.7" fill="#555"/>
<circle cx="490.00" cy="138.27" r="0.7" fill="#555"/>
<circle cx="491.45" cy="138.17" r="0.7" fill="#555"/>
<circle cx="488.55" cy="138.08" r="0.7" fill="#555"/>
<circle cx="492.90" cy="137.98" r="0.7" fill="#555"/>
<circle cx="487.10" cy="137.88" r="0.7" fill="#555"/>
<circle cx="494.35" cy="137.78" r="0.7" fill="#555"/>
<circle cx="485.65" cy="137.68" r="0.7" fill="#555"/>
<circle cx="495.80" cy="137.57" r="0.7" fill="#555"/>
<circle cx="484.20" cy="137.47" r="0.7" fill="#555"/>
<circle cx="497.25" cy="137.36" r="0.7" fill="#555"/>
<circle cx="482.75" cy="137.26" r="0.7" fill="#555"/>
<circle cx="498.70" cy="137.15" r="0.7" fill="#555"/>
<circle cx="481.30" cy="137.04" r="0.7" fill="#555"/>
<circle cx="500.15" cy="136.93" r="0.7" fill="#555"/>
<circle cx="479.85" cy="136.82" r="0.7" fill="#555"/>
<circle cx="501.60" cy="136.70" r="0.7" fill="#555"/>
<circle cx="478.40" cy="136.59" r="0.7" fill="#555"/>
<circle cx="503.05" cy="136.47" r="0.7" fill="#555"/>
<circle cx="476.95" cy="136.35" r="0.7" fill="#555"/>
<circle cx="504.50" cy="136.23" r="0.7" fill="#555"/>
<circle cx="475.50" cy="136.10" r="0.7" fill="#555"/>
<circle cx="490.00" cy="135.98" r="0.7" fill="#555"/>
<circle cx="491.45" cy="135.85" r="0.7" fill="#555"/>
<circle cx="488.55" cy="135.72" r="0.7" fill="#555"/>
<circle cx="492.90" cy="135.59" r="0.7" fill="#555"/>
<circle cx="487.10" cy="135.46" r="0.7" fill="#555"/>
<circle cx="494.35" cy="135.32" r="0.7" fill="#555"/>
<circle cx="485.65" cy="135.19" r="0.7" fill="#555"/>
<circle cx="495.80" cy="135.05" r="0.7" fill="#555"/>
<circle cx="484.20" cy="134.91" r="0.7" fill="#555"/>
<circle cx="497.25" cy="134.76" r="0.7" fill="#555"/>
<circle cx="482.75" cy="134.61" r="0.7" fill="#555"/>
<circle cx="498.70" cy="134.46" r="0.7" fill="#555"/>
<circle cx="481.30" cy="134.31" r="0.7" fill="#555"/>
<circle cx="500.15" cy="134.16" r="0.7" fill="#555"/>
<circle cx="479.85" cy="134.00" r="0.7" fill="#555"/>
<circle cx="489.27" cy="133.83" r="0.7" fill="#555"/>
<circle cx="490.73" cy="133.67" r="0.7" fill="#555"/>
<circle cx="487.82" cy="133.50" r="0.7" fill="#555"/>
<circle cx="492.18" cy="133.33" r="0.7" fill="#555"/>
<circle cx="486.38" cy="133.15" r="0.7" fill="#555"/>
<circle cx="493.62" cy="132.97" r="0.7" fill="#555"/>
<circle cx="484.93" cy="132.79" r="0.7" fill="#555"/>
<circle cx="495.07" cy="132.60" r="0.7" fill="#555"/>
<circle cx="483.48" cy="132.41" r="0.7" fill="#555"/>
<circle cx="496.52" cy="132.21" r="0.7" fill="#555"/>
<circle cx="482.02" cy="132.01" r="0.7" fill="#555"/>
<circle cx="497.98" cy="131.81" r="0.7" fill="#555"/>
<circle cx="490.00" cy="131.59" r="0.7" fill="#555"/>
<circle cx="491.45" cy="131.38" r="0.7" fill="#555"/>
<circle cx="488.55" cy="131.15" r="0.7" fill="#555"/>
<circle cx="492.90" cy="130.92" r="0.7" fill="#555"/>
<circle cx="487.10" cy="130.69" r="0.7" fill="#555"/>
<circle cx="494.35" cy="130.45" r="0.7" fill="#555"/>
<circle cx="485.65" cy="130.20" r="0.7" fill="#555"/>
<circle cx="495.80" cy="129.94" r="0.7" fill="#555"/>
<circle cx="484.20" cy="129.67" r="0.7" fill="#555"/>
<circle cx="490.00" cy="129.40" r="0.7" fill="#555"/>
<circle cx="491.45" cy="129.12" r="0.7" fill="#555"/>
<circle cx="488.55" cy="128.83" r="0.7" fill="#555"/>
<circle cx="492.90" cy="128.52" r="0.7" fill="#555"/>
<circle cx="487.10" cy="128.21" r="0.7" fill="#555"/>
<circle cx="494.35" cy="127.88" r="0.7" fill="#555"/>
<circle cx="485.65" cy="127.54" r="0.7" fill="#555"/>
<circle cx="489.27" cy="127.19" r="0.7" fill="#555"/>
<circle cx="490.73" cy="126.82" r="0.7" fill="#555"/>
<circle cx="487.82" cy="126.44" r="0.7" fill="#555"/>
<circle cx="492.18" cy="126.04" r="0.7" fill="#555"/>
<circle cx="486.38" cy="125.62" r="0.7" fill="#555"/>
<circle cx="493.62" cy="125.18" r="0.7" fill="#555"/>
<circle cx="489.27" cy="124.71" r="0.7" fill="#555"/>
<circle cx="490.73" cy="124.23" r="0.7" fill="#555"/>
<circle cx="487.82" cy="123.71" r="0.7" fill="#555"/>
<circle cx="492.18" cy="123.16" r="0.7" fill="#555"/>
<circle cx="490.00" cy="122.58" r="0.7" fill="#555"/>
<circle cx="491.45" cy="121.96" r="0.7" fill="#555"/>
<circle cx="488.55" cy="121.29" r="0.7" fill="#555"/>
<circle cx="490.00" cy="120.57" r="0.7" fill="#555"/>
<circle cx="491.45" cy="119.80" r="0.7" fill="#555"/>
<circle cx="488.55" cy="118.95" r="0.7" fill="#555"/>
<circle cx="489.27" cy="118.02" r="0.7" fill="#555"/>
<circle cx="490.73" cy="117.00" r="0.7" fill="#555"/>
<circle cx="489.27" cy="115.86" r="0.7" fill="#555"/>
<circle cx="490.73" cy="114.57" r="0.7" fill="#555"/>
<circle cx="490.00" cy="113.10" r="0.7" fill="#555"/>
<circle cx="490.00" cy="111.39" r="0.7" fill="#555"/>
<circle cx="490.00" cy="109.34" r="0.7" fill="#555"/>
<circle cx="490.00" cy="106.81" r="0.7" fill="#555"/>
<circle cx="491.45" cy="105.52" r="0.7" fill="#555"/>
<circle cx="488.55" cy="105.52" r="0.7" fill="#555"/>
<circle cx="492.90" cy="105.52" r="0.7" fill="#555"/>
<circle cx="487.10" cy="105.52" r="0.7" fill="#555"/>
<circle cx="490.00" cy="103.10" r="0.7" fill="#555"/>
<circle cx="490.00" cy="95.84" r="0.7" fill="#555"/>
<circle cx="490.00" cy="93.42" r="0.7" fill="#555"/>
<circle cx="490.00" cy="91.00" r="0.7" fill="#555"/>
<circle cx="490.00" cy="71.64" r="0.7" fill="#555"/>
<circle cx="490.00" cy="69.22" r="0.7" fill="#555"/>
<line x1="392.80" y1="140.60" x2="441.20" y2="140.60" stroke="#222" stroke-width="1.3" />
<line x1="404.80" y1="131.60" x2="429.20" y2="131.60" stroke="#222" stroke-width="1.3" />
<line x1="404.80" y1="149.60" x2="429.20" y2="149.60" stroke="#222" stroke-width="1.3" />
<line x1="417.00" y1="131.60" x2="417.00" y2="149.60" stroke="#222" stroke-width="1.3" />
<line x1="465.80" y1="138.00" x2="514.20" y2="138.00" stroke="#222" stroke-width="1.3" />
<line x1="478.30" y1="125.40" x2="501.70" y2="125.40" stroke="#222" stroke-width="1.3" />
<line x1="478.30" y1="150.60" x2="501.70" y2="150.60" stroke="#222" stroke-width="1.3" />
<line x1="490.00" y1="125.40" x2="490.00" y2="150.60" stroke="#222" stroke-width="1.3" />
<text x="417.00" y="162.00" font-size="7" fill="#2a2a2a" text-anchor="middle" font-weight="bold" >No radiotherapy</text>
<text x="416.00" y="173.60" font-size="7.6" fill="#333" text-anchor="middle" >n = 148</text>
<text x="490.00" y="162.00" font-size="7" fill="#2a2a2a" text-anchor="middle" font-weight="bold" >Radiotherapy</text>
<text x="487.00" y="173.60" font-size="7.6" fill="#333" text-anchor="middle" >n = 275</text>
<text x="365.45" y="103.00" font-size="7" fill="#222" text-anchor="middle" transform="rotate(-90 365.45 103.00)" font-weight="bold">Relative miR-183 expression</text>
<rect x="528.00" y="28.00" width="177.00" height="141.00" fill="#fdfdfd" />
<text x="533.11" y="22.34" font-size="17.8" fill="#000" text-anchor="start" font-weight="bold" >D</text>
<text x="608.00" y="39.00" font-size="9" fill="#333" textLength="43.00" lengthAdjust="spacingAndGlyphs"><tspan font-style="italic">p</tspan> = 0.2348</text>
<line x1="589.40" y1="47.40" x2="664.40" y2="47.40" stroke="#222" stroke-width="1.6" />
<line x1="589.40" y1="43.90" x2="589.40" y2="50.90" stroke="#222" stroke-width="1.6" />
<line x1="664.40" y1="43.90" x2="664.40" y2="50.90" stroke="#222" stroke-width="1.6" />
<line x1="554.40" y1="54.40" x2="554.40" y2="151.80" stroke="#333" stroke-width="1.3" />
<line x1="552.40" y1="54.40" x2="554.40" y2="54.40" stroke="#333" stroke-width="1.3" />
<text x="550.90" y="56.92" font-size="7" fill="#222" text-anchor="end" font-weight="bold" >15</text>
<line x1="552.40" y1="79.00" x2="554.40" y2="79.00" stroke="#333" stroke-width="1.3" />
<text x="550.90" y="81.52" font-size="7" fill="#222" text-anchor="end" font-weight="bold" >10</text>
<line x1="552.40" y1="103.20" x2="554.40" y2="103.20" stroke="#333" stroke-width="1.3" />
<text x="550.90" y="105.72" font-size="7" fill="#222" text-anchor="end" font-weight="bold" >5</text>
<line x1="552.40" y1="127.40" x2="554.40" y2="127.40" stroke="#333" stroke-width="1.3" />
<text x="550.90" y="129.92" font-size="7" fill="#222" text-anchor="end" font-weight="bold" >0</text>
<line x1="552.40" y1="151.80" x2="554.40" y2="151.80" stroke="#333" stroke-width="1.3" />
<text x="550.90" y="154.32" font-size="7" fill="#222" text-anchor="end" font-weight="bold" >-5</text>
<line x1="554.40" y1="151.80" x2="700.60" y2="151.80" stroke="#333" stroke-width="1.4" />
<line x1="590.40" y1="151.80" x2="590.40" y2="154.80" stroke="#333" stroke-width="1.2" />
<line x1="663.60" y1="151.80" x2="663.60" y2="154.80" stroke="#333" stroke-width="1.2" />
<circle cx="590.40" cy="126.57" r="0.7" fill="#4a4a4a"/>
<circle cx="591.70" cy="126.39" r="0.7" fill="#4a4a4a"/>
<circle cx="589.10" cy="126.28" r="0.7" fill="#4a4a4a"/>
<circle cx="593.00" cy="126.19" r="0.7" fill="#4a4a4a"/>
<circle cx="587.80" cy="126.12" r="0.7" fill="#4a4a4a"/>
<circle cx="594.30" cy="126.06" r="0.7" fill="#4a4a4a"/>
<circle cx="586.50" cy="126.00" r="0.7" fill="#4a4a4a"/>
<circle cx="595.60" cy="125.95" r="0.7" fill="#4a4a4a"/>
<circle cx="585.20" cy="125.90" r="0.7" fill="#4a4a4a"/>
<circle cx="596.90" cy="125.86" r="0.7" fill="#4a4a4a"/>
<circle cx="583.90" cy="125.81" r="0.7" fill="#4a4a4a"/>
<circle cx="589.75" cy="125.77" r="0.7" fill="#4a4a4a"/>
<circle cx="591.05" cy="125.73" r="0.7" fill="#4a4a4a"/>
<circle cx="588.45" cy="125.70" r="0.7" fill="#4a4a4a"/>
<circle cx="592.35" cy="125.66" r="0.7" fill="#4a4a4a"/>
<circle cx="587.15" cy="125.62" r="0.7" fill="#4a4a4a"/>
<circle cx="593.65" cy="125.59" r="0.7" fill="#4a4a4a"/>
<circle cx="585.85" cy="125.55" r="0.7" fill="#4a4a4a"/>
<circle cx="594.95" cy="125.52" r="0.7" fill="#4a4a4a"/>
<circle cx="584.55" cy="125.49" r="0.7" fill="#4a4a4a"/>
<circle cx="596.25" cy="125.46" r="0.7" fill="#4a4a4a"/>
<circle cx="583.25" cy="125.43" r="0.7" fill="#4a4a4a"/>
<circle cx="597.55" cy="125.40" r="0.7" fill="#4a4a4a"/>
<circle cx="581.95" cy="125.37" r="0.7" fill="#4a4a4a"/>
<circle cx="598.85" cy="125.34" r="0.7" fill="#4a4a4a"/>
<circle cx="580.65" cy="125.31" r="0.7" fill="#4a4a4a"/>
<circle cx="600.15" cy="125.28" r="0.7" fill="#4a4a4a"/>
<circle cx="579.35" cy="125.25" r="0.7" fill="#4a4a4a"/>
<circle cx="601.45" cy="125.22" r="0.7" fill="#4a4a4a"/>
<circle cx="578.05" cy="125.19" r="0.7" fill="#4a4a4a"/>
<circle cx="602.75" cy="125.16" r="0.7" fill="#4a4a4a"/>
<circle cx="576.75" cy="125.13" r="0.7" fill="#4a4a4a"/>
<circle cx="604.05" cy="125.11" r="0.7" fill="#4a4a4a"/>
<circle cx="575.45" cy="125.08" r="0.7" fill="#4a4a4a"/>
<circle cx="605.35" cy="125.05" r="0.7" fill="#4a4a4a"/>
<circle cx="574.15" cy="125.02" r="0.7" fill="#4a4a4a"/>
<circle cx="606.65" cy="125.00" r="0.7" fill="#4a4a4a"/>
<circle cx="572.85" cy="124.97" r="0.7" fill="#4a4a4a"/>
<circle cx="607.95" cy="124.94" r="0.7" fill="#4a4a4a"/>
<circle cx="571.55" cy="124.91" r="0.7" fill="#4a4a4a"/>
<circle cx="609.25" cy="124.89" r="0.7" fill="#4a4a4a"/>
<circle cx="570.25" cy="124.86" r="0.7" fill="#4a4a4a"/>
<circle cx="610.55" cy="124.83" r="0.7" fill="#4a4a4a"/>
<circle cx="568.95" cy="124.80" r="0.7" fill="#4a4a4a"/>
<circle cx="611.85" cy="124.78" r="0.7" fill="#4a4a4a"/>
<circle cx="567.65" cy="124.75" r="0.7" fill="#4a4a4a"/>
<circle cx="613.15" cy="124.72" r="0.7" fill="#4a4a4a"/>
<circle cx="566.40" cy="124.70" r="0.7" fill="#4a4a4a"/>
<circle cx="614.40" cy="124.67" r="0.7" fill="#4a4a4a"/>
<circle cx="566.40" cy="124.64" r="0.7" fill="#4a4a4a"/>
<circle cx="614.40" cy="124.61" r="0.7" fill="#4a4a4a"/>
<circle cx="566.40" cy="124.59" r="0.7" fill="#4a4a4a"/>
<circle cx="614.40" cy="124.56" r="0.7" fill="#4a4a4a"/>
<circle cx="566.40" cy="124.53" r="0.7" fill="#4a4a4a"/>
<circle cx="614.40" cy="124.50" r="0.7" fill="#4a4a4a"/>
<circle cx="566.40" cy="124.47" r="0.7" fill="#4a4a4a"/>
<circle cx="614.40" cy="124.45" r="0.7" fill="#4a4a4a"/>
<circle cx="566.40" cy="124.42" r="0.7" fill="#4a4a4a"/>
<circle cx="614.40" cy="124.39" r="0.7" fill="#4a4a4a"/>
<circle cx="566.40" cy="124.36" r="0.7" fill="#4a4a4a"/>
<circle cx="614.40" cy="124.33" r="0.7" fill="#4a4a4a"/>
<circle cx="566.40" cy="124.30" r="0.7" fill="#4a4a4a"/>
<circle cx="614.40" cy="124.27" r="0.7" fill="#4a4a4a"/>
<circle cx="566.40" cy="124.25" r="0.7" fill="#4a4a4a"/>
<circle cx="614.40" cy="124.22" r="0.7" fill="#4a4a4a"/>
<circle cx="589.75" cy="124.19" r="0.7" fill="#4a4a4a"/>
<circle cx="591.05" cy="124.16" r="0.7" fill="#4a4a4a"/>
<circle cx="588.45" cy="124.13" r="0.7" fill="#4a4a4a"/>
<circle cx="592.35" cy="124.10" r="0.7" fill="#4a4a4a"/>
<circle cx="587.15" cy="124.07" r="0.7" fill="#4a4a4a"/>
<circle cx="593.65" cy="124.04" r="0.7" fill="#4a4a4a"/>
<circle cx="585.85" cy="124.00" r="0.7" fill="#4a4a4a"/>
<circle cx="594.95" cy="123.97" r="0.7" fill="#4a4a4a"/>
<circle cx="584.55" cy="123.94" r="0.7" fill="#4a4a4a"/>
<circle cx="596.25" cy="123.91" r="0.7" fill="#4a4a4a"/>
<circle cx="583.25" cy="123.88" r="0.7" fill="#4a4a4a"/>
<circle cx="597.55" cy="123.84" r="0.7" fill="#4a4a4a"/>
<circle cx="581.95" cy="123.81" r="0.7" fill="#4a4a4a"/>
<circle cx="598.85" cy="123.78" r="0.7" fill="#4a4a4a"/>
<circle cx="580.65" cy="123.74" r="0.7" fill="#4a4a4a"/>
<circle cx="600.15" cy="123.71" r="0.7" fill="#4a4a4a"/>
<circle cx="579.35" cy="123.68" r="0.7" fill="#4a4a4a"/>
<circle cx="601.45" cy="123.64" r="0.7" fill="#4a4a4a"/>
<circle cx="578.05" cy="123.61" r="0.7" fill="#4a4a4a"/>
<circle cx="602.75" cy="123.57" r="0.7" fill="#4a4a4a"/>
<circle cx="576.75" cy="123.53" r="0.7" fill="#4a4a4a"/>
<circle cx="604.05" cy="123.50" r="0.7" fill="#4a4a4a"/>
<circle cx="575.45" cy="123.46" r="0.7" fill="#4a4a4a"/>
<circle cx="605.35" cy="123.42" r="0.7" fill="#4a4a4a"/>
<circle cx="574.15" cy="123.38" r="0.7" fill="#4a4a4a"/>
<circle cx="606.65" cy="123.34" r="0.7" fill="#4a4a4a"/>
<circle cx="572.85" cy="123.30" r="0.7" fill="#4a4a4a"/>
<circle cx="607.95" cy="123.26" r="0.7" fill="#4a4a4a"/>
<circle cx="571.55" cy="123.22" r="0.7" fill="#4a4a4a"/>
<circle cx="609.25" cy="123.18" r="0.7" fill="#4a4a4a"/>
<circle cx="570.25" cy="123.14" r="0.7" fill="#4a4a4a"/>
<circle cx="610.55" cy="123.09" r="0.7" fill="#4a4a4a"/>
<circle cx="568.95" cy="123.05" r="0.7" fill="#4a4a4a"/>
<circle cx="611.85" cy="123.00" r="0.7" fill="#4a4a4a"/>
<circle cx="567.65" cy="122.96" r="0.7" fill="#4a4a4a"/>
<circle cx="613.15" cy="122.91" r="0.7" fill="#4a4a4a"/>
<circle cx="566.40" cy="122.86" r="0.7" fill="#4a4a4a"/>
<circle cx="614.40" cy="122.81" r="0.7" fill="#4a4a4a"/>
<circle cx="566.40" cy="122.76" r="0.7" fill="#4a4a4a"/>
<circle cx="614.40" cy="122.71" r="0.7" fill="#4a4a4a"/>
<circle cx="566.40" cy="122.66" r="0.7" fill="#4a4a4a"/>
<circle cx="614.40" cy="122.61" r="0.7" fill="#4a4a4a"/>
<circle cx="589.75" cy="122.55" r="0.7" fill="#4a4a4a"/>
<circle cx="591.05" cy="122.49" r="0.7" fill="#4a4a4a"/>
<circle cx="588.45" cy="122.43" r="0.7" fill="#4a4a4a"/>
<circle cx="592.35" cy="122.37" r="0.7" fill="#4a4a4a"/>
<circle cx="587.15" cy="122.31" r="0.7" fill="#4a4a4a"/>
<circle cx="593.65" cy="122.25" r="0.7" fill="#4a4a4a"/>
<circle cx="585.85" cy="122.18" r="0.7" fill="#4a4a4a"/>
<circle cx="594.95" cy="122.11" r="0.7" fill="#4a4a4a"/>
<circle cx="584.55" cy="122.04" r="0.7" fill="#4a4a4a"/>
<circle cx="596.25" cy="121.97" r="0.7" fill="#4a4a4a"/>
<circle cx="583.25" cy="121.89" r="0.7" fill="#4a4a4a"/>
<circle cx="597.55" cy="121.82" r="0.7" fill="#4a4a4a"/>
<circle cx="581.95" cy="121.73" r="0.7" fill="#4a4a4a"/>
<circle cx="598.85" cy="121.65" r="0.7" fill="#4a4a4a"/>
<circle cx="580.65" cy="121.56" r="0.7" fill="#4a4a4a"/>
<circle cx="600.15" cy="121.46" r="0.7" fill="#4a4a4a"/>
<circle cx="579.35" cy="121.37" r="0.7" fill="#4a4a4a"/>
<circle cx="601.45" cy="121.26" r="0.7" fill="#4a4a4a"/>
<circle cx="578.05" cy="121.15" r="0.7" fill="#4a4a4a"/>
<circle cx="602.75" cy="121.03" r="0.7" fill="#4a4a4a"/>
<circle cx="590.40" cy="120.91" r="0.7" fill="#4a4a4a"/>
<circle cx="591.70" cy="120.78" r="0.7" fill="#4a4a4a"/>
<circle cx="589.10" cy="120.64" r="0.7" fill="#4a4a4a"/>
<circle cx="593.00" cy="120.48" r="0.7" fill="#4a4a4a"/>
<circle cx="587.80" cy="120.32" r="0.7" fill="#4a4a4a"/>
<circle cx="594.30" cy="120.13" r="0.7" fill="#4a4a4a"/>
<circle cx="586.50" cy="119.93" r="0.7" fill="#4a4a4a"/>
<circle cx="595.60" cy="119.71" r="0.7" fill="#4a4a4a"/>
<circle cx="585.20" cy="119.45" r="0.7" fill="#4a4a4a"/>
<circle cx="589.75" cy="119.16" r="0.7" fill="#4a4a4a"/>
<circle cx="591.05" cy="118.82" r="0.7" fill="#4a4a4a"/>
<circle cx="588.45" cy="118.40" r="0.7" fill="#4a4a4a"/>
<circle cx="592.35" cy="117.87" r="0.7" fill="#4a4a4a"/>
<circle cx="590.40" cy="117.14" r="0.7" fill="#4a4a4a"/>
<circle cx="589.75" cy="116.01" r="0.7" fill="#4a4a4a"/>
<circle cx="591.05" cy="115.71" r="0.7" fill="#4a4a4a"/>
<circle cx="590.40" cy="113.76" r="0.7" fill="#4a4a4a"/>
<circle cx="590.40" cy="110.36" r="0.7" fill="#4a4a4a"/>
<circle cx="590.40" cy="106.46" r="0.7" fill="#4a4a4a"/>
<circle cx="590.40" cy="97.21" r="0.7" fill="#4a4a4a"/>
<circle cx="590.40" cy="76.27" r="0.7" fill="#4a4a4a"/>
<circle cx="662.95" cy="126.56" r="0.7" fill="#4a4a4a"/>
<circle cx="664.25" cy="126.38" r="0.7" fill="#4a4a4a"/>
<circle cx="661.65" cy="126.27" r="0.7" fill="#4a4a4a"/>
<circle cx="665.55" cy="126.19" r="0.7" fill="#4a4a4a"/>
<circle cx="660.35" cy="126.12" r="0.7" fill="#4a4a4a"/>
<circle cx="666.85" cy="126.07" r="0.7" fill="#4a4a4a"/>
<circle cx="659.05" cy="126.02" r="0.7" fill="#4a4a4a"/>
<circle cx="668.15" cy="125.97" r="0.7" fill="#4a4a4a"/>
<circle cx="657.75" cy="125.93" r="0.7" fill="#4a4a4a"/>
<circle cx="669.45" cy="125.89" r="0.7" fill="#4a4a4a"/>
<circle cx="656.45" cy="125.85" r="0.7" fill="#4a4a4a"/>
<circle cx="670.75" cy="125.81" r="0.7" fill="#4a4a4a"/>
<circle cx="663.60" cy="125.78" r="0.7" fill="#4a4a4a"/>
<circle cx="664.90" cy="125.74" r="0.7" fill="#4a4a4a"/>
<circle cx="662.30" cy="125.71" r="0.7" fill="#4a4a4a"/>
<circle cx="666.20" cy="125.68" r="0.7" fill="#4a4a4a"/>
<circle cx="661.00" cy="125.65" r="0.7" fill="#4a4a4a"/>
<circle cx="667.50" cy="125.63" r="0.7" fill="#4a4a4a"/>
<circle cx="659.70" cy="125.60" r="0.7" fill="#4a4a4a"/>
<circle cx="668.80" cy="125.57" r="0.7" fill="#4a4a4a"/>
<circle cx="658.40" cy="125.55" r="0.7" fill="#4a4a4a"/>
<circle cx="670.10" cy="125.52" r="0.7" fill="#4a4a4a"/>
<circle cx="657.10" cy="125.49" r="0.7" fill="#4a4a4a"/>
<circle cx="671.40" cy="125.47" r="0.7" fill="#4a4a4a"/>
<circle cx="655.80" cy="125.45" r="0.7" fill="#4a4a4a"/>
<circle cx="672.70" cy="125.42" r="0.7" fill="#4a4a4a"/>
<circle cx="654.50" cy="125.40" r="0.7" fill="#4a4a4a"/>
<circle cx="674.00" cy="125.38" r="0.7" fill="#4a4a4a"/>
<circle cx="653.20" cy="125.35" r="0.7" fill="#4a4a4a"/>
<circle cx="675.30" cy="125.33" r="0.7" fill="#4a4a4a"/>
<circle cx="651.90" cy="125.31" r="0.7" fill="#4a4a4a"/>
<circle cx="676.60" cy="125.29" r="0.7" fill="#4a4a4a"/>
<circle cx="650.60" cy="125.27" r="0.7" fill="#4a4a4a"/>
<circle cx="677.90" cy="125.25" r="0.7" fill="#4a4a4a"/>
<circle cx="649.30" cy="125.22" r="0.7" fill="#4a4a4a"/>
<circle cx="679.20" cy="125.20" r="0.7" fill="#4a4a4a"/>
<circle cx="648.00" cy="125.18" r="0.7" fill="#4a4a4a"/>
<circle cx="680.50" cy="125.16" r="0.7" fill="#4a4a4a"/>
<circle cx="646.70" cy="125.14" r="0.7" fill="#4a4a4a"/>
<circle cx="681.80" cy="125.12" r="0.7" fill="#4a4a4a"/>
<circle cx="645.40" cy="125.10" r="0.7" fill="#4a4a4a"/>
<circle cx="683.10" cy="125.08" r="0.7" fill="#4a4a4a"/>
<circle cx="644.10" cy="125.06" r="0.7" fill="#4a4a4a"/>
<circle cx="684.40" cy="125.05" r="0.7" fill="#4a4a4a"/>
<circle cx="642.80" cy="125.03" r="0.7" fill="#4a4a4a"/>
<circle cx="685.70" cy="125.01" r="0.7" fill="#4a4a4a"/>
<circle cx="641.50" cy="124.99" r="0.7" fill="#4a4a4a"/>
<circle cx="687.00" cy="124.97" r="0.7" fill="#4a4a4a"/>
<circle cx="640.20" cy="124.95" r="0.7" fill="#4a4a4a"/>
<circle cx="687.60" cy="124.93" r="0.7" fill="#4a4a4a"/>
<circle cx="639.60" cy="124.91" r="0.7" fill="#4a4a4a"/>
<circle cx="687.60" cy="124.90" r="0.7" fill="#4a4a4a"/>
<circle cx="639.60" cy="124.88" r="0.7" fill="#4a4a4a"/>
<circle cx="687.60" cy="124.86" r="0.7" fill="#4a4a4a"/>
<circle cx="639.60" cy="124.84" r="0.7" fill="#4a4a4a"/>
<circle cx="687.60" cy="124.82" r="0.7" fill="#4a4a4a"/>
<circle cx="639.60" cy="124.80" r="0.7" fill="#4a4a4a"/>
<circle cx="687.60" cy="124.79" r="0.7" fill="#4a4a4a"/>
<circle cx="639.60" cy="124.77" r="0.7" fill="#4a4a4a"/>
<circle cx="687.60" cy="124.75" r="0.7" fill="#4a4a4a"/>
<circle cx="639.60" cy="124.73" r="0.7" fill="#4a4a4a"/>
<circle cx="687.60" cy="124.72" r="0.7" fill="#4a4a4a"/>
<circle cx="639.60" cy="124.70" r="0.7" fill="#4a4a4a"/>
<circle cx="687.60" cy="124.68" r="0.7" fill="#4a4a4a"/>
<circle cx="639.60" cy="124.66" r="0.7" fill="#4a4a4a"/>
<circle cx="687.60" cy="124.64" r="0.7" fill="#4a4a4a"/>
<circle cx="639.60" cy="124.63" r="0.7" fill="#4a4a4a"/>
<circle cx="687.60" cy="124.61" r="0.7" fill="#4a4a4a"/>
<circle cx="639.60" cy="124.59" r="0.7" fill="#4a4a4a"/>
<circle cx="687.60" cy="124.57" r="0.7" fill="#4a4a4a"/>
<circle cx="639.60" cy="124.56" r="0.7" fill="#4a4a4a"/>
<circle cx="687.60" cy="124.54" r="0.7" fill="#4a4a4a"/>
<circle cx="639.60" cy="124.52" r="0.7" fill="#4a4a4a"/>
<circle cx="687.60" cy="124.50" r="0.7" fill="#4a4a4a"/>
<circle cx="639.60" cy="124.49" r="0.7" fill="#4a4a4a"/>
<circle cx="687.60" cy="124.47" r="0.7" fill="#4a4a4a"/>
<circle cx="639.60" cy="124.45" r="0.7" fill="#4a4a4a"/>
<circle cx="687.60" cy="124.44" r="0.7" fill="#4a4a4a"/>
<circle cx="639.60" cy="124.42" r="0.7" fill="#4a4a4a"/>
<circle cx="687.60" cy="124.40" r="0.7" fill="#4a4a4a"/>
<circle cx="639.60" cy="124.38" r="0.7" fill="#4a4a4a"/>
<circle cx="687.60" cy="124.37" r="0.7" fill="#4a4a4a"/>
<circle cx="639.60" cy="124.35" r="0.7" fill="#4a4a4a"/>
<circle cx="687.60" cy="124.33" r="0.7" fill="#4a4a4a"/>
<circle cx="639.60" cy="124.31" r="0.7" fill="#4a4a4a"/>
<circle cx="687.60" cy="124.30" r="0.7" fill="#4a4a4a"/>
<circle cx="639.60" cy="124.28" r="0.7" fill="#4a4a4a"/>
<circle cx="687.60" cy="124.26" r="0.7" fill="#4a4a4a"/>
<circle cx="639.60" cy="124.24" r="0.7" fill="#4a4a4a"/>
<circle cx="687.60" cy="124.23" r="0.7" fill="#4a4a4a"/>
<circle cx="639.60" cy="124.21" r="0.7" fill="#4a4a4a"/>
<circle cx="663.60" cy="124.19" r="0.7" fill="#4a4a4a"/>
<circle cx="664.90" cy="124.17" r="0.7" fill="#4a4a4a"/>
<circle cx="662.30" cy="124.16" r="0.7" fill="#4a4a4a"/>
<circle cx="666.20" cy="124.14" r="0.7" fill="#4a4a4a"/>
<circle cx="661.00" cy="124.12" r="0.7" fill="#4a4a4a"/>
<circle cx="667.50" cy="124.10" r="0.7" fill="#4a4a4a"/>
<circle cx="659.70" cy="124.09" r="0.7" fill="#4a4a4a"/>
<circle cx="668.80" cy="124.07" r="0.7" fill="#4a4a4a"/>
<circle cx="658.40" cy="124.05" r="0.7" fill="#4a4a4a"/>
<circle cx="670.10" cy="124.03" r="0.7" fill="#4a4a4a"/>
<circle cx="657.10" cy="124.02" r="0.7" fill="#4a4a4a"/>
<circle cx="671.40" cy="124.00" r="0.7" fill="#4a4a4a"/>
<circle cx="655.80" cy="123.98" r="0.7" fill="#4a4a4a"/>
<circle cx="672.70" cy="123.96" r="0.7" fill="#4a4a4a"/>
<circle cx="654.50" cy="123.94" r="0.7" fill="#4a4a4a"/>
<circle cx="674.00" cy="123.93" r="0.7" fill="#4a4a4a"/>
<circle cx="653.20" cy="123.91" r="0.7" fill="#4a4a4a"/>
<circle cx="675.30" cy="123.89" r="0.7" fill="#4a4a4a"/>
<circle cx="651.90" cy="123.87" r="0.7" fill="#4a4a4a"/>
<circle cx="676.60" cy="123.85" r="0.7" fill="#4a4a4a"/>
<circle cx="650.60" cy="123.84" r="0.7" fill="#4a4a4a"/>
<circle cx="677.90" cy="123.82" r="0.7" fill="#4a4a4a"/>
<circle cx="649.30" cy="123.80" r="0.7" fill="#4a4a4a"/>
<circle cx="679.20" cy="123.78" r="0.7" fill="#4a4a4a"/>
<circle cx="648.00" cy="123.76" r="0.7" fill="#4a4a4a"/>
<circle cx="680.50" cy="123.74" r="0.7" fill="#4a4a4a"/>
<circle cx="646.70" cy="123.72" r="0.7" fill="#4a4a4a"/>
<circle cx="681.80" cy="123.71" r="0.7" fill="#4a4a4a"/>
<circle cx="645.40" cy="123.69" r="0.7" fill="#4a4a4a"/>
<circle cx="683.10" cy="123.67" r="0.7" fill="#4a4a4a"/>
<circle cx="644.10" cy="123.65" r="0.7" fill="#4a4a4a"/>
<circle cx="684.40" cy="123.63" r="0.7" fill="#4a4a4a"/>
<circle cx="642.80" cy="123.61" r="0.7" fill="#4a4a4a"/>
<circle cx="685.70" cy="123.59" r="0.7" fill="#4a4a4a"/>
<circle cx="641.50" cy="123.57" r="0.7" fill="#4a4a4a"/>
<circle cx="687.00" cy="123.55" r="0.7" fill="#4a4a4a"/>
<circle cx="640.20" cy="123.53" r="0.7" fill="#4a4a4a"/>
<circle cx="687.60" cy="123.51" r="0.7" fill="#4a4a4a"/>
<circle cx="639.60" cy="123.50" r="0.7" fill="#4a4a4a"/>
<circle cx="687.60" cy="123.48" r="0.7" fill="#4a4a4a"/>
<circle cx="639.60" cy="123.46" r="0.7" fill="#4a4a4a"/>
<circle cx="687.60" cy="123.44" r="0.7" fill="#4a4a4a"/>
<circle cx="639.60" cy="123.42" r="0.7" fill="#4a4a4a"/>
<circle cx="687.60" cy="123.40" r="0.7" fill="#4a4a4a"/>
<circle cx="639.60" cy="123.38" r="0.7" fill="#4a4a4a"/>
<circle cx="687.60" cy="123.36" r="0.7" fill="#4a4a4a"/>
<circle cx="639.60" cy="123.34" r="0.7" fill="#4a4a4a"/>
<circle cx="687.60" cy="123.32" r="0.7" fill="#4a4a4a"/>
<circle cx="639.60" cy="123.29" r="0.7" fill="#4a4a4a"/>
<circle cx="687.60" cy="123.27" r="0.7" fill="#4a4a4a"/>
<circle cx="639.60" cy="123.25" r="0.7" fill="#4a4a4a"/>
<circle cx="687.60" cy="123.23" r="0.7" fill="#4a4a4a"/>
<circle cx="639.60" cy="123.21" r="0.7" fill="#4a4a4a"/>
<circle cx="687.60" cy="123.19" r="0.7" fill="#4a4a4a"/>
<circle cx="639.60" cy="123.17" r="0.7" fill="#4a4a4a"/>
<circle cx="687.60" cy="123.15" r="0.7" fill="#4a4a4a"/>
<circle cx="639.60" cy="123.13" r="0.7" fill="#4a4a4a"/>
<circle cx="687.60" cy="123.10" r="0.7" fill="#4a4a4a"/>
<circle cx="639.60" cy="123.08" r="0.7" fill="#4a4a4a"/>
<circle cx="687.60" cy="123.06" r="0.7" fill="#4a4a4a"/>
<circle cx="639.60" cy="123.04" r="0.7" fill="#4a4a4a"/>
<circle cx="687.60" cy="123.02" r="0.7" fill="#4a4a4a"/>
<circle cx="639.60" cy="122.99" r="0.7" fill="#4a4a4a"/>
<circle cx="687.60" cy="122.97" r="0.7" fill="#4a4a4a"/>
<circle cx="639.60" cy="122.95" r="0.7" fill="#4a4a4a"/>
<circle cx="687.60" cy="122.93" r="0.7" fill="#4a4a4a"/>
<circle cx="639.60" cy="122.90" r="0.7" fill="#4a4a4a"/>
<circle cx="687.60" cy="122.88" r="0.7" fill="#4a4a4a"/>
<circle cx="639.60" cy="122.86" r="0.7" fill="#4a4a4a"/>
<circle cx="687.60" cy="122.83" r="0.7" fill="#4a4a4a"/>
<circle cx="639.60" cy="122.81" r="0.7" fill="#4a4a4a"/>
<circle cx="687.60" cy="122.79" r="0.7" fill="#4a4a4a"/>
<circle cx="639.60" cy="122.76" r="0.7" fill="#4a4a4a"/>
<circle cx="687.60" cy="122.74" r="0.7" fill="#4a4a4a"/>
<circle cx="639.60" cy="122.71" r="0.7" fill="#4a4a4a"/>
<circle cx="687.60" cy="122.69" r="0.7" fill="#4a4a4a"/>
<circle cx="639.60" cy="122.66" r="0.7" fill="#4a4a4a"/>
<circle cx="687.60" cy="122.64" r="0.7" fill="#4a4a4a"/>
<circle cx="639.60" cy="122.61" r="0.7" fill="#4a4a4a"/>
<circle cx="663.60" cy="122.59" r="0.7" fill="#4a4a4a"/>
<circle cx="664.90" cy="122.56" r="0.7" fill="#4a4a4a"/>
<circle cx="662.30" cy="122.54" r="0.7" fill="#4a4a4a"/>
<circle cx="666.20" cy="122.51" r="0.7" fill="#4a4a4a"/>
<circle cx="661.00" cy="122.48" r="0.7" fill="#4a4a4a"/>
<circle cx="667.50" cy="122.46" r="0.7" fill="#4a4a4a"/>
<circle cx="659.70" cy="122.43" r="0.7" fill="#4a4a4a"/>
<circle cx="668.80" cy="122.40" r="0.7" fill="#4a4a4a"/>
<circle cx="658.40" cy="122.38" r="0.7" fill="#4a4a4a"/>
<circle cx="670.10" cy="122.35" r="0.7" fill="#4a4a4a"/>
<circle cx="657.10" cy="122.32" r="0.7" fill="#4a4a4a"/>
<circle cx="671.40" cy="122.29" r="0.7" fill="#4a4a4a"/>
<circle cx="655.80" cy="122.26" r="0.7" fill="#4a4a4a"/>
<circle cx="672.70" cy="122.23" r="0.7" fill="#4a4a4a"/>
<circle cx="654.50" cy="122.21" r="0.7" fill="#4a4a4a"/>
<circle cx="674.00" cy="122.18" r="0.7" fill="#4a4a4a"/>
<circle cx="653.20" cy="122.15" r="0.7" fill="#4a4a4a"/>
<circle cx="675.30" cy="122.12" r="0.7" fill="#4a4a4a"/>
<circle cx="651.90" cy="122.09" r="0.7" fill="#4a4a4a"/>
<circle cx="676.60" cy="122.06" r="0.7" fill="#4a4a4a"/>
<circle cx="650.60" cy="122.02" r="0.7" fill="#4a4a4a"/>
<circle cx="677.90" cy="121.99" r="0.7" fill="#4a4a4a"/>
<circle cx="649.30" cy="121.96" r="0.7" fill="#4a4a4a"/>
<circle cx="679.20" cy="121.93" r="0.7" fill="#4a4a4a"/>
<circle cx="648.00" cy="121.90" r="0.7" fill="#4a4a4a"/>
<circle cx="680.50" cy="121.86" r="0.7" fill="#4a4a4a"/>
<circle cx="646.70" cy="121.83" r="0.7" fill="#4a4a4a"/>
<circle cx="681.80" cy="121.80" r="0.7" fill="#4a4a4a"/>
<circle cx="645.40" cy="121.76" r="0.7" fill="#4a4a4a"/>
<circle cx="683.10" cy="121.73" r="0.7" fill="#4a4a4a"/>
<circle cx="644.10" cy="121.69" r="0.7" fill="#4a4a4a"/>
<circle cx="684.40" cy="121.65" r="0.7" fill="#4a4a4a"/>
<circle cx="642.80" cy="121.62" r="0.7" fill="#4a4a4a"/>
<circle cx="685.70" cy="121.58" r="0.7" fill="#4a4a4a"/>
<circle cx="641.50" cy="121.54" r="0.7" fill="#4a4a4a"/>
<circle cx="687.00" cy="121.51" r="0.7" fill="#4a4a4a"/>
<circle cx="640.20" cy="121.47" r="0.7" fill="#4a4a4a"/>
<circle cx="687.60" cy="121.43" r="0.7" fill="#4a4a4a"/>
<circle cx="639.60" cy="121.39" r="0.7" fill="#4a4a4a"/>
<circle cx="687.60" cy="121.35" r="0.7" fill="#4a4a4a"/>
<circle cx="639.60" cy="121.31" r="0.7" fill="#4a4a4a"/>
<circle cx="687.60" cy="121.27" r="0.7" fill="#4a4a4a"/>
<circle cx="639.60" cy="121.22" r="0.7" fill="#4a4a4a"/>
<circle cx="687.60" cy="121.18" r="0.7" fill="#4a4a4a"/>
<circle cx="639.60" cy="121.14" r="0.7" fill="#4a4a4a"/>
<circle cx="687.60" cy="121.09" r="0.7" fill="#4a4a4a"/>
<circle cx="639.60" cy="121.05" r="0.7" fill="#4a4a4a"/>
<circle cx="663.60" cy="121.00" r="0.7" fill="#4a4a4a"/>
<circle cx="664.90" cy="120.95" r="0.7" fill="#4a4a4a"/>
<circle cx="662.30" cy="120.90" r="0.7" fill="#4a4a4a"/>
<circle cx="666.20" cy="120.85" r="0.7" fill="#4a4a4a"/>
<circle cx="661.00" cy="120.80" r="0.7" fill="#4a4a4a"/>
<circle cx="667.50" cy="120.75" r="0.7" fill="#4a4a4a"/>
<circle cx="659.70" cy="120.70" r="0.7" fill="#4a4a4a"/>
<circle cx="668.80" cy="120.65" r="0.7" fill="#4a4a4a"/>
<circle cx="658.40" cy="120.59" r="0.7" fill="#4a4a4a"/>
<circle cx="670.10" cy="120.54" r="0.7" fill="#4a4a4a"/>
<circle cx="657.10" cy="120.48" r="0.7" fill="#4a4a4a"/>
<circle cx="671.40" cy="120.42" r="0.7" fill="#4a4a4a"/>
<circle cx="655.80" cy="120.36" r="0.7" fill="#4a4a4a"/>
<circle cx="672.70" cy="120.30" r="0.7" fill="#4a4a4a"/>
<circle cx="654.50" cy="120.23" r="0.7" fill="#4a4a4a"/>
<circle cx="674.00" cy="120.17" r="0.7" fill="#4a4a4a"/>
<circle cx="653.20" cy="120.10" r="0.7" fill="#4a4a4a"/>
<circle cx="675.30" cy="120.03" r="0.7" fill="#4a4a4a"/>
<circle cx="651.90" cy="119.96" r="0.7" fill="#4a4a4a"/>
<circle cx="676.60" cy="119.89" r="0.7" fill="#4a4a4a"/>
<circle cx="650.60" cy="119.81" r="0.7" fill="#4a4a4a"/>
<circle cx="677.90" cy="119.73" r="0.7" fill="#4a4a4a"/>
<circle cx="649.30" cy="119.65" r="0.7" fill="#4a4a4a"/>
<circle cx="679.20" cy="119.57" r="0.7" fill="#4a4a4a"/>
<circle cx="648.00" cy="119.48" r="0.7" fill="#4a4a4a"/>
<circle cx="663.60" cy="119.39" r="0.7" fill="#4a4a4a"/>
<circle cx="664.90" cy="119.29" r="0.7" fill="#4a4a4a"/>
<circle cx="662.30" cy="119.20" r="0.7" fill="#4a4a4a"/>
<circle cx="666.20" cy="119.09" r="0.7" fill="#4a4a4a"/>
<circle cx="661.00" cy="118.99" r="0.7" fill="#4a4a4a"/>
<circle cx="667.50" cy="118.88" r="0.7" fill="#4a4a4a"/>
<circle cx="659.70" cy="118.76" r="0.7" fill="#4a4a4a"/>
<circle cx="668.80" cy="118.63" r="0.7" fill="#4a4a4a"/>
<circle cx="658.40" cy="118.50" r="0.7" fill="#4a4a4a"/>
<circle cx="670.10" cy="118.37" r="0.7" fill="#4a4a4a"/>
<circle cx="657.10" cy="118.22" r="0.7" fill="#4a4a4a"/>
<circle cx="671.40" cy="118.06" r="0.7" fill="#4a4a4a"/>
<circle cx="655.80" cy="117.89" r="0.7" fill="#4a4a4a"/>
<circle cx="663.60" cy="117.71" r="0.7" fill="#4a4a4a"/>
<circle cx="664.90" cy="117.52" r="0.7" fill="#4a4a4a"/>
<circle cx="662.30" cy="117.31" r="0.7" fill="#4a4a4a"/>
<circle cx="666.20" cy="117.07" r="0.7" fill="#4a4a4a"/>
<circle cx="661.00" cy="116.82" r="0.7" fill="#4a4a4a"/>
<circle cx="667.50" cy="116.53" r="0.7" fill="#4a4a4a"/>
<circle cx="659.70" cy="116.20" r="0.7" fill="#4a4a4a"/>
<circle cx="663.60" cy="115.83" r="0.7" fill="#4a4a4a"/>
<circle cx="664.90" cy="115.38" r="0.7" fill="#4a4a4a"/>
<circle cx="662.30" cy="114.84" r="0.7" fill="#4a4a4a"/>
<circle cx="662.95" cy="114.15" r="0.7" fill="#4a4a4a"/>
<circle cx="664.25" cy="113.21" r="0.7" fill="#4a4a4a"/>
<circle cx="662.95" cy="111.82" r="0.7" fill="#4a4a4a"/>
<circle cx="664.25" cy="111.82" r="0.7" fill="#4a4a4a"/>
<circle cx="663.60" cy="109.87" r="0.7" fill="#4a4a4a"/>
<circle cx="663.60" cy="107.92" r="0.7" fill="#4a4a4a"/>
<circle cx="663.60" cy="105.49" r="0.7" fill="#4a4a4a"/>
<circle cx="663.60" cy="103.05" r="0.7" fill="#4a4a4a"/>
<circle cx="663.60" cy="100.62" r="0.7" fill="#4a4a4a"/>
<circle cx="663.60" cy="98.67" r="0.7" fill="#4a4a4a"/>
<line x1="566.30" y1="123.40" x2="614.50" y2="123.40" stroke="#222" stroke-width="1.3" />
<line x1="578.40" y1="117.60" x2="602.40" y2="117.60" stroke="#222" stroke-width="1.3" />
<line x1="578.40" y1="128.80" x2="602.40" y2="128.80" stroke="#222" stroke-width="1.3" />
<line x1="590.40" y1="117.60" x2="590.40" y2="128.80" stroke="#222" stroke-width="1.3" />
<line x1="639.30" y1="122.60" x2="687.90" y2="122.60" stroke="#222" stroke-width="1.3" />
<line x1="651.60" y1="117.60" x2="675.60" y2="117.60" stroke="#222" stroke-width="1.3" />
<line x1="651.60" y1="127.60" x2="675.60" y2="127.60" stroke="#222" stroke-width="1.3" />
<line x1="663.60" y1="117.60" x2="663.60" y2="127.60" stroke="#222" stroke-width="1.3" />
<text x="590.40" y="162.50" font-size="7" fill="#2a2a2a" text-anchor="middle" font-weight="bold" >No radiotherapy</text>
<text x="590.00" y="174.20" font-size="7.6" fill="#333" text-anchor="middle" >n = 148</text>
<text x="663.60" y="162.50" font-size="7" fill="#2a2a2a" text-anchor="middle" font-weight="bold" >Radiotherapy</text>
<text x="661.20" y="174.20" font-size="7.6" fill="#333" text-anchor="middle" >n = 275</text>
<text x="538.05" y="103.10" font-size="7" fill="#222" text-anchor="middle" transform="rotate(-90 538.05 103.10)" font-weight="bold">Relative miR-335 expression</text>
<rect x="9.00" y="207.00" width="171.00" height="138.00" fill="#fdfdfd" />
<text x="13.51" y="205.74" font-size="17.8" fill="#000" text-anchor="start" font-weight="bold" >E</text>
<text x="89.40" y="214.00" font-size="9" fill="#333" textLength="42.60" lengthAdjust="spacingAndGlyphs"><tspan font-style="italic">p</tspan> = 0.4906</text>
<line x1="71.60" y1="222.60" x2="146.60" y2="222.60" stroke="#222" stroke-width="1.6" />
<line x1="71.60" y1="219.10" x2="71.60" y2="226.10" stroke="#222" stroke-width="1.6" />
<line x1="146.60" y1="219.10" x2="146.60" y2="226.10" stroke="#222" stroke-width="1.6" />
<line x1="37.00" y1="230.00" x2="37.00" y2="327.40" stroke="#333" stroke-width="1.3" />
<line x1="35.00" y1="230.00" x2="37.00" y2="230.00" stroke="#333" stroke-width="1.3" />
<text x="33.50" y="232.52" font-size="7" fill="#222" text-anchor="end" font-weight="bold" >10</text>
<line x1="35.00" y1="246.20" x2="37.00" y2="246.20" stroke="#333" stroke-width="1.3" />
<text x="33.50" y="248.72" font-size="7" fill="#222" text-anchor="end" font-weight="bold" >8</text>
<line x1="35.00" y1="262.40" x2="37.00" y2="262.40" stroke="#333" stroke-width="1.3" />
<text x="33.50" y="264.92" font-size="7" fill="#222" text-anchor="end" font-weight="bold" >6</text>
<line x1="35.00" y1="278.80" x2="37.00" y2="278.80" stroke="#333" stroke-width="1.3" />
<text x="33.50" y="281.32" font-size="7" fill="#222" text-anchor="end" font-weight="bold" >4</text>
<line x1="35.00" y1="295.10" x2="37.00" y2="295.10" stroke="#333" stroke-width="1.3" />
<text x="33.50" y="297.62" font-size="7" fill="#222" text-anchor="end" font-weight="bold" >2</text>
<line x1="35.00" y1="311.40" x2="37.00" y2="311.40" stroke="#333" stroke-width="1.3" />
<text x="33.50" y="313.92" font-size="7" fill="#222" text-anchor="end" font-weight="bold" >0</text>
<line x1="35.00" y1="327.40" x2="37.00" y2="327.40" stroke="#333" stroke-width="1.3" />
<text x="33.50" y="329.92" font-size="7" fill="#222" text-anchor="end" font-weight="bold" >-2</text>
<line x1="37.00" y1="327.40" x2="179.00" y2="327.40" stroke="#333" stroke-width="1.4" />
<line x1="72.60" y1="327.40" x2="72.60" y2="330.40" stroke="#333" stroke-width="1.2" />
<line x1="146.00" y1="327.40" x2="146.00" y2="330.40" stroke="#333" stroke-width="1.2" />
<circle cx="72.60" cy="310.35" r="1.0" fill="#111"/>
<circle cx="75.40" cy="309.76" r="1.0" fill="#111"/>
<circle cx="69.80" cy="309.36" r="1.0" fill="#111"/>
<circle cx="78.20" cy="309.03" r="1.0" fill="#111"/>
<circle cx="67.00" cy="308.74" r="1.0" fill="#111"/>
<circle cx="81.00" cy="308.47" r="1.0" fill="#111"/>
<circle cx="64.20" cy="308.23" r="1.0" fill="#111"/>
<circle cx="83.80" cy="307.99" r="1.0" fill="#111"/>
<circle cx="61.40" cy="307.77" r="1.0" fill="#111"/>
<circle cx="86.60" cy="307.55" r="1.0" fill="#111"/>
<circle cx="58.60" cy="307.34" r="1.0" fill="#111"/>
<circle cx="89.40" cy="307.13" r="1.0" fill="#111"/>
<circle cx="55.80" cy="306.92" r="1.0" fill="#111"/>
<circle cx="71.20" cy="306.72" r="1.0" fill="#111"/>
<circle cx="74.00" cy="306.52" r="1.0" fill="#111"/>
<circle cx="68.40" cy="306.32" r="1.0" fill="#111"/>
<circle cx="76.80" cy="306.12" r="1.0" fill="#111"/>
<circle cx="65.60" cy="305.92" r="1.0" fill="#111"/>
<circle cx="79.60" cy="305.72" r="1.0" fill="#111"/>
<circle cx="62.80" cy="305.51" r="1.0" fill="#111"/>
<circle cx="82.40" cy="305.31" r="1.0" fill="#111"/>
<circle cx="60.00" cy="305.10" r="1.0" fill="#111"/>
<circle cx="85.20" cy="304.90" r="1.0" fill="#111"/>
<circle cx="57.20" cy="304.68" r="1.0" fill="#111"/>
<circle cx="88.00" cy="304.47" r="1.0" fill="#111"/>
<circle cx="54.40" cy="304.25" r="1.0" fill="#111"/>
<circle cx="90.80" cy="304.02" r="1.0" fill="#111"/>
<circle cx="51.60" cy="303.79" r="1.0" fill="#111"/>
<circle cx="93.60" cy="303.56" r="1.0" fill="#111"/>
<circle cx="48.80" cy="303.32" r="1.0" fill="#111"/>
<circle cx="96.40" cy="303.07" r="1.0" fill="#111"/>
<circle cx="48.60" cy="302.81" r="1.0" fill="#111"/>
<circle cx="96.60" cy="302.54" r="1.0" fill="#111"/>
<circle cx="72.60" cy="302.27" r="1.0" fill="#111"/>
<circle cx="75.40" cy="301.98" r="1.0" fill="#111"/>
<circle cx="69.80" cy="301.67" r="1.0" fill="#111"/>
<circle cx="78.20" cy="301.35" r="1.0" fill="#111"/>
<circle cx="67.00" cy="301.02" r="1.0" fill="#111"/>
<circle cx="81.00" cy="300.66" r="1.0" fill="#111"/>
<circle cx="64.20" cy="300.28" r="1.0" fill="#111"/>
<circle cx="83.80" cy="299.87" r="1.0" fill="#111"/>
<circle cx="61.40" cy="299.42" r="1.0" fill="#111"/>
<circle cx="86.60" cy="298.94" r="1.0" fill="#111"/>
<circle cx="58.60" cy="298.40" r="1.0" fill="#111"/>
<circle cx="72.60" cy="297.79" r="1.0" fill="#111"/>
<circle cx="75.40" cy="297.10" r="1.0" fill="#111"/>
<circle cx="69.80" cy="296.27" r="1.0" fill="#111"/>
<circle cx="78.20" cy="295.26" r="1.0" fill="#111"/>
<circle cx="67.00" cy="293.94" r="1.0" fill="#111"/>
<circle cx="81.00" cy="293.63" r="1.0" fill="#111"/>
<circle cx="64.20" cy="293.60" r="1.0" fill="#111"/>
<circle cx="72.60" cy="291.15" r="1.0" fill="#111"/>
<circle cx="72.60" cy="287.91" r="1.0" fill="#111"/>
<circle cx="72.60" cy="244.17" r="1.0" fill="#111"/>
<circle cx="144.60" cy="310.98" r="1.0" fill="#111"/>
<circle cx="147.40" cy="310.60" r="1.0" fill="#111"/>
<circle cx="141.80" cy="310.30" r="1.0" fill="#111"/>
<circle cx="150.20" cy="310.04" r="1.0" fill="#111"/>
<circle cx="139.00" cy="309.80" r="1.0" fill="#111"/>
<circle cx="153.00" cy="309.57" r="1.0" fill="#111"/>
<circle cx="136.20" cy="309.34" r="1.0" fill="#111"/>
<circle cx="155.80" cy="309.12" r="1.0" fill="#111"/>
<circle cx="133.40" cy="308.91" r="1.0" fill="#111"/>
<circle cx="158.60" cy="308.70" r="1.0" fill="#111"/>
<circle cx="130.60" cy="308.48" r="1.0" fill="#111"/>
<circle cx="161.40" cy="308.27" r="1.0" fill="#111"/>
<circle cx="127.80" cy="308.06" r="1.0" fill="#111"/>
<circle cx="164.20" cy="307.84" r="1.0" fill="#111"/>
<circle cx="125.00" cy="307.62" r="1.0" fill="#111"/>
<circle cx="167.00" cy="307.40" r="1.0" fill="#111"/>
<circle cx="122.20" cy="307.17" r="1.0" fill="#111"/>
<circle cx="169.80" cy="306.94" r="1.0" fill="#111"/>
<circle cx="144.60" cy="306.71" r="1.0" fill="#111"/>
<circle cx="147.40" cy="306.46" r="1.0" fill="#111"/>
<circle cx="141.80" cy="306.21" r="1.0" fill="#111"/>
<circle cx="150.20" cy="305.96" r="1.0" fill="#111"/>
<circle cx="139.00" cy="305.69" r="1.0" fill="#111"/>
<circle cx="153.00" cy="305.41" r="1.0" fill="#111"/>
<circle cx="136.20" cy="305.12" r="1.0" fill="#111"/>
<circle cx="155.80" cy="304.82" r="1.0" fill="#111"/>
<circle cx="133.40" cy="304.51" r="1.0" fill="#111"/>
<circle cx="158.60" cy="304.17" r="1.0" fill="#111"/>
<circle cx="130.60" cy="303.82" r="1.0" fill="#111"/>
<circle cx="161.40" cy="303.45" r="1.0" fill="#111"/>
<circle cx="127.80" cy="303.04" r="1.0" fill="#111"/>
<circle cx="164.20" cy="302.61" r="1.0" fill="#111"/>
<circle cx="144.60" cy="302.14" r="1.0" fill="#111"/>
<circle cx="147.40" cy="301.62" r="1.0" fill="#111"/>
<circle cx="141.80" cy="301.04" r="1.0" fill="#111"/>
<circle cx="150.20" cy="300.39" r="1.0" fill="#111"/>
<circle cx="139.00" cy="299.64" r="1.0" fill="#111"/>
<circle cx="153.00" cy="298.74" r="1.0" fill="#111"/>
<circle cx="144.60" cy="297.64" r="1.0" fill="#111"/>
<circle cx="147.40" cy="296.19" r="1.0" fill="#111"/>
<circle cx="141.80" cy="295.26" r="1.0" fill="#111"/>
<circle cx="150.20" cy="295.22" r="1.0" fill="#111"/>
<circle cx="146.00" cy="291.96" r="1.0" fill="#111"/>
<circle cx="144.60" cy="288.72" r="1.0" fill="#111"/>
<circle cx="147.40" cy="287.10" r="1.0" fill="#111"/>
<circle cx="144.60" cy="283.05" r="1.0" fill="#111"/>
<circle cx="147.40" cy="282.24" r="1.0" fill="#111"/>
<line x1="48.30" y1="301.60" x2="96.90" y2="301.60" stroke="#444" stroke-width="1.3" />
<line x1="60.60" y1="292.00" x2="84.60" y2="292.00" stroke="#444" stroke-width="1.3" />
<line x1="60.60" y1="312.00" x2="84.60" y2="312.00" stroke="#444" stroke-width="1.3" />
<line x1="72.60" y1="292.00" x2="72.60" y2="312.00" stroke="#444" stroke-width="1.3" />
<line x1="121.70" y1="303.00" x2="170.30" y2="303.00" stroke="#444" stroke-width="1.3" />
<line x1="134.00" y1="296.00" x2="158.00" y2="296.00" stroke="#444" stroke-width="1.3" />
<line x1="134.00" y1="310.00" x2="158.00" y2="310.00" stroke="#444" stroke-width="1.3" />
<line x1="146.00" y1="296.00" x2="146.00" y2="310.00" stroke="#444" stroke-width="1.3" />
<text x="72.60" y="338.00" font-size="7" fill="#2a2a2a" text-anchor="middle" font-weight="bold" >No chemotherapy</text>
<text x="72.40" y="349.20" font-size="7.6" fill="#333" text-anchor="middle" >n = 54</text>
<text x="146.00" y="338.00" font-size="7" fill="#2a2a2a" text-anchor="middle" font-weight="bold" >chemotherapy</text>
<text x="142.40" y="349.20" font-size="7.6" fill="#333" text-anchor="middle" >n = 47</text>
<text x="22.05" y="278.70" font-size="7" fill="#222" text-anchor="middle" transform="rotate(-90 22.05 278.70)" font-weight="bold" textLength="94.00" lengthAdjust="spacingAndGlyphs">Relative miR-182 expression</text>
<rect x="178.00" y="207.00" width="177.00" height="138.00" fill="#fdfdfd" />
<text x="191.11" y="206.34" font-size="17.8" fill="#000" text-anchor="start" font-weight="bold" >F</text>
<text x="260.00" y="216.00" font-size="9" fill="#333" textLength="42.40" lengthAdjust="spacingAndGlyphs"><tspan font-style="italic">p</tspan> = 0.9617</text>
<line x1="244.00" y1="224.40" x2="318.40" y2="224.40" stroke="#222" stroke-width="1.6" />
<line x1="244.00" y1="220.90" x2="244.00" y2="227.90" stroke="#222" stroke-width="1.6" />
<line x1="318.40" y1="220.90" x2="318.40" y2="227.90" stroke="#222" stroke-width="1.6" />
<line x1="209.40" y1="231.60" x2="209.40" y2="327.60" stroke="#333" stroke-width="1.3" />
<line x1="207.40" y1="231.60" x2="209.40" y2="231.60" stroke="#333" stroke-width="1.3" />
<text x="205.90" y="234.12" font-size="7" fill="#222" text-anchor="end" font-weight="bold" >6</text>
<line x1="207.40" y1="263.60" x2="209.40" y2="263.60" stroke="#333" stroke-width="1.3" />
<text x="205.90" y="266.12" font-size="7" fill="#222" text-anchor="end" font-weight="bold" >4</text>
<line x1="207.40" y1="295.60" x2="209.40" y2="295.60" stroke="#333" stroke-width="1.3" />
<text x="205.90" y="298.12" font-size="7" fill="#222" text-anchor="end" font-weight="bold" >2</text>
<line x1="207.40" y1="327.60" x2="209.40" y2="327.60" stroke="#333" stroke-width="1.3" />
<text x="205.90" y="330.12" font-size="7" fill="#222" text-anchor="end" font-weight="bold" >0</text>
<line x1="209.40" y1="327.60" x2="353.60" y2="327.60" stroke="#333" stroke-width="1.4" />
<line x1="245.00" y1="327.60" x2="245.00" y2="330.60" stroke="#333" stroke-width="1.2" />
<line x1="317.60" y1="327.60" x2="317.60" y2="330.60" stroke="#333" stroke-width="1.2" />
<circle cx="243.60" cy="326.19" r="1.0" fill="#111"/>
<circle cx="246.40" cy="325.26" r="1.0" fill="#111"/>
<circle cx="240.80" cy="324.60" r="1.0" fill="#111"/>
<circle cx="249.20" cy="324.05" r="1.0" fill="#111"/>
<circle cx="238.00" cy="323.56" r="1.0" fill="#111"/>
<circle cx="252.00" cy="323.11" r="1.0" fill="#111"/>
<circle cx="245.00" cy="322.68" r="1.0" fill="#111"/>
<circle cx="247.80" cy="322.27" r="1.0" fill="#111"/>
<circle cx="242.20" cy="321.88" r="1.0" fill="#111"/>
<circle cx="250.60" cy="321.49" r="1.0" fill="#111"/>
<circle cx="239.40" cy="321.12" r="1.0" fill="#111"/>
<circle cx="253.40" cy="320.75" r="1.0" fill="#111"/>
<circle cx="236.60" cy="320.38" r="1.0" fill="#111"/>
<circle cx="256.20" cy="320.01" r="1.0" fill="#111"/>
<circle cx="233.80" cy="319.65" r="1.0" fill="#111"/>
<circle cx="259.00" cy="319.29" r="1.0" fill="#111"/>
<circle cx="231.00" cy="318.92" r="1.0" fill="#111"/>
<circle cx="243.60" cy="318.55" r="1.0" fill="#111"/>
<circle cx="246.40" cy="318.18" r="1.0" fill="#111"/>
<circle cx="240.80" cy="317.81" r="1.0" fill="#111"/>
<circle cx="249.20" cy="317.43" r="1.0" fill="#111"/>
<circle cx="238.00" cy="317.04" r="1.0" fill="#111"/>
<circle cx="252.00" cy="316.65" r="1.0" fill="#111"/>
<circle cx="235.20" cy="316.25" r="1.0" fill="#111"/>
<circle cx="254.80" cy="315.84" r="1.0" fill="#111"/>
<circle cx="232.40" cy="315.43" r="1.0" fill="#111"/>
<circle cx="257.60" cy="315.00" r="1.0" fill="#111"/>
<circle cx="229.60" cy="314.56" r="1.0" fill="#111"/>
<circle cx="260.40" cy="314.10" r="1.0" fill="#111"/>
<circle cx="243.60" cy="313.63" r="1.0" fill="#111"/>
<circle cx="246.40" cy="313.14" r="1.0" fill="#111"/>
<circle cx="240.80" cy="312.63" r="1.0" fill="#111"/>
<circle cx="249.20" cy="312.10" r="1.0" fill="#111"/>
<circle cx="238.00" cy="311.55" r="1.0" fill="#111"/>
<circle cx="252.00" cy="310.96" r="1.0" fill="#111"/>
<circle cx="235.20" cy="310.34" r="1.0" fill="#111"/>
<circle cx="254.80" cy="309.69" r="1.0" fill="#111"/>
<circle cx="245.00" cy="308.99" r="1.0" fill="#111"/>
<circle cx="247.80" cy="308.23" r="1.0" fill="#111"/>
<circle cx="242.20" cy="307.41" r="1.0" fill="#111"/>
<circle cx="250.60" cy="306.51" r="1.0" fill="#111"/>
<circle cx="239.40" cy="305.51" r="1.0" fill="#111"/>
<circle cx="245.00" cy="304.39" r="1.0" fill="#111"/>
<circle cx="247.80" cy="303.10" r="1.0" fill="#111"/>
<circle cx="242.20" cy="301.57" r="1.0" fill="#111"/>
<circle cx="243.60" cy="299.69" r="1.0" fill="#111"/>
<circle cx="246.40" cy="297.36" r="1.0" fill="#111"/>
<circle cx="240.80" cy="297.29" r="1.0" fill="#111"/>
<circle cx="249.20" cy="297.23" r="1.0" fill="#111"/>
<circle cx="245.00" cy="292.40" r="1.0" fill="#111"/>
<circle cx="245.00" cy="289.20" r="1.0" fill="#111"/>
<circle cx="245.00" cy="286.00" r="1.0" fill="#111"/>
<circle cx="245.00" cy="281.20" r="1.0" fill="#111"/>
<circle cx="245.00" cy="239.60" r="1.0" fill="#111"/>
<circle cx="316.20" cy="326.78" r="1.0" fill="#111"/>
<circle cx="319.00" cy="326.02" r="1.0" fill="#111"/>
<circle cx="313.40" cy="325.43" r="1.0" fill="#111"/>
<circle cx="321.80" cy="324.91" r="1.0" fill="#111"/>
<circle cx="310.60" cy="324.43" r="1.0" fill="#111"/>
<circle cx="324.60" cy="323.98" r="1.0" fill="#111"/>
<circle cx="307.80" cy="323.54" r="1.0" fill="#111"/>
<circle cx="327.40" cy="323.10" r="1.0" fill="#111"/>
<circle cx="316.20" cy="322.68" r="1.0" fill="#111"/>
<circle cx="319.00" cy="322.26" r="1.0" fill="#111"/>
<circle cx="313.40" cy="321.84" r="1.0" fill="#111"/>
<circle cx="321.80" cy="321.42" r="1.0" fill="#111"/>
<circle cx="310.60" cy="320.99" r="1.0" fill="#111"/>
<circle cx="324.60" cy="320.57" r="1.0" fill="#111"/>
<circle cx="307.80" cy="320.14" r="1.0" fill="#111"/>
<circle cx="327.40" cy="319.70" r="1.0" fill="#111"/>
<circle cx="305.00" cy="319.25" r="1.0" fill="#111"/>
<circle cx="330.20" cy="318.79" r="1.0" fill="#111"/>
<circle cx="316.20" cy="318.33" r="1.0" fill="#111"/>
<circle cx="319.00" cy="317.85" r="1.0" fill="#111"/>
<circle cx="313.40" cy="317.36" r="1.0" fill="#111"/>
<circle cx="321.80" cy="316.85" r="1.0" fill="#111"/>
<circle cx="310.60" cy="316.32" r="1.0" fill="#111"/>
<circle cx="324.60" cy="315.77" r="1.0" fill="#111"/>
<circle cx="307.80" cy="315.20" r="1.0" fill="#111"/>
<circle cx="327.40" cy="314.61" r="1.0" fill="#111"/>
<circle cx="316.20" cy="313.99" r="1.0" fill="#111"/>
<circle cx="319.00" cy="313.33" r="1.0" fill="#111"/>
<circle cx="313.40" cy="312.63" r="1.0" fill="#111"/>
<circle cx="321.80" cy="311.89" r="1.0" fill="#111"/>
<circle cx="310.60" cy="311.09" r="1.0" fill="#111"/>
<circle cx="324.60" cy="310.24" r="1.0" fill="#111"/>
<circle cx="316.20" cy="309.30" r="1.0" fill="#111"/>
<circle cx="319.00" cy="308.28" r="1.0" fill="#111"/>
<circle cx="313.40" cy="307.14" r="1.0" fill="#111"/>
<circle cx="321.80" cy="305.85" r="1.0" fill="#111"/>
<circle cx="316.20" cy="304.37" r="1.0" fill="#111"/>
<circle cx="319.00" cy="302.60" r="1.0" fill="#111"/>
<circle cx="316.20" cy="300.42" r="1.0" fill="#111"/>
<circle cx="319.00" cy="297.55" r="1.0" fill="#111"/>
<circle cx="313.40" cy="297.31" r="1.0" fill="#111"/>
<circle cx="321.80" cy="297.24" r="1.0" fill="#111"/>
<circle cx="317.60" cy="292.40" r="1.0" fill="#111"/>
<circle cx="316.20" cy="286.00" r="1.0" fill="#111"/>
<circle cx="319.00" cy="284.40" r="1.0" fill="#111"/>
<circle cx="317.60" cy="278.00" r="1.0" fill="#111"/>
<circle cx="317.60" cy="266.80" r="1.0" fill="#111"/>
<line x1="221.00" y1="311.40" x2="269.00" y2="311.40" stroke="#444" stroke-width="1.3" />
<line x1="233.30" y1="297.00" x2="256.70" y2="297.00" stroke="#444" stroke-width="1.3" />
<line x1="233.30" y1="325.80" x2="256.70" y2="325.80" stroke="#444" stroke-width="1.3" />
<line x1="245.00" y1="297.00" x2="245.00" y2="325.80" stroke="#444" stroke-width="1.3" />
<line x1="293.60" y1="311.40" x2="341.60" y2="311.40" stroke="#444" stroke-width="1.3" />
<line x1="305.90" y1="297.00" x2="329.30" y2="297.00" stroke="#444" stroke-width="1.3" />
<line x1="305.90" y1="325.80" x2="329.30" y2="325.80" stroke="#444" stroke-width="1.3" />
<line x1="317.60" y1="297.00" x2="317.60" y2="325.80" stroke="#444" stroke-width="1.3" />
<text x="245.00" y="338.00" font-size="7" fill="#2a2a2a" text-anchor="middle" font-weight="bold" >No chemotherapy</text>
<text x="245.40" y="349.20" font-size="7.6" fill="#333" text-anchor="middle" >n = 54</text>
<text x="317.60" y="338.00" font-size="7" fill="#2a2a2a" text-anchor="middle" font-weight="bold" >chemotherapy</text>
<text x="314.40" y="349.20" font-size="7.6" fill="#333" text-anchor="middle" >n = 47</text>
<text x="192.45" y="279.60" font-size="7" fill="#222" text-anchor="middle" transform="rotate(-90 192.45 279.60)" font-weight="bold">Relative miR-96 expression</text>
<rect x="352.00" y="207.00" width="178.00" height="138.00" fill="#fdfdfd" />
<text x="362.11" y="205.74" font-size="17.8" fill="#000" text-anchor="start" font-weight="bold" >G</text>
<text x="438.40" y="212.00" font-size="9" fill="#333" textLength="43.20" lengthAdjust="spacingAndGlyphs"><tspan font-style="italic">p</tspan> = 0.6074</text>
<line x1="421.40" y1="220.00" x2="499.00" y2="220.00" stroke="#222" stroke-width="1.6" />
<line x1="421.40" y1="216.50" x2="421.40" y2="223.50" stroke="#222" stroke-width="1.6" />
<line x1="499.00" y1="216.50" x2="499.00" y2="223.50" stroke="#222" stroke-width="1.6" />
<line x1="385.40" y1="227.40" x2="385.40" y2="327.60" stroke="#333" stroke-width="1.3" />
<line x1="383.40" y1="227.40" x2="385.40" y2="227.40" stroke="#333" stroke-width="1.3" />
<text x="381.90" y="229.92" font-size="7" fill="#222" text-anchor="end" font-weight="bold" >8</text>
<line x1="383.40" y1="252.40" x2="385.40" y2="252.40" stroke="#333" stroke-width="1.3" />
<text x="381.90" y="254.92" font-size="7" fill="#222" text-anchor="end" font-weight="bold" >6</text>
<line x1="383.40" y1="277.50" x2="385.40" y2="277.50" stroke="#333" stroke-width="1.3" />
<text x="381.90" y="280.02" font-size="7" fill="#222" text-anchor="end" font-weight="bold" >4</text>
<line x1="383.40" y1="302.60" x2="385.40" y2="302.60" stroke="#333" stroke-width="1.3" />
<text x="381.90" y="305.12" font-size="7" fill="#222" text-anchor="end" font-weight="bold" >2</text>
<line x1="383.40" y1="327.60" x2="385.40" y2="327.60" stroke="#333" stroke-width="1.3" />
<text x="381.90" y="330.12" font-size="7" fill="#222" text-anchor="end" font-weight="bold" >0</text>
<line x1="385.40" y1="327.60" x2="531.00" y2="327.60" stroke="#333" stroke-width="1.4" />
<line x1="422.40" y1="327.60" x2="422.40" y2="330.60" stroke="#333" stroke-width="1.2" />
<line x1="497.60" y1="327.60" x2="497.60" y2="330.60" stroke="#333" stroke-width="1.2" />
<circle cx="421.00" cy="326.82" r="1.0" fill="#111"/>
<circle cx="423.80" cy="326.17" r="1.0" fill="#111"/>
<circle cx="418.20" cy="325.68" r="1.0" fill="#111"/>
<circle cx="426.60" cy="325.26" r="1.0" fill="#111"/>
<circle cx="415.40" cy="324.88" r="1.0" fill="#111"/>
<circle cx="429.40" cy="324.51" r="1.0" fill="#111"/>
<circle cx="412.60" cy="324.17" r="1.0" fill="#111"/>
<circle cx="432.20" cy="323.83" r="1.0" fill="#111"/>
<circle cx="409.80" cy="323.50" r="1.0" fill="#111"/>
<circle cx="435.00" cy="323.18" r="1.0" fill="#111"/>
<circle cx="421.00" cy="322.87" r="1.0" fill="#111"/>
<circle cx="423.80" cy="322.55" r="1.0" fill="#111"/>
<circle cx="418.20" cy="322.24" r="1.0" fill="#111"/>
<circle cx="426.60" cy="321.92" r="1.0" fill="#111"/>
<circle cx="415.40" cy="321.61" r="1.0" fill="#111"/>
<circle cx="429.40" cy="321.29" r="1.0" fill="#111"/>
<circle cx="412.60" cy="320.97" r="1.0" fill="#111"/>
<circle cx="432.20" cy="320.65" r="1.0" fill="#111"/>
<circle cx="409.80" cy="320.32" r="1.0" fill="#111"/>
<circle cx="435.00" cy="319.99" r="1.0" fill="#111"/>
<circle cx="407.00" cy="319.65" r="1.0" fill="#111"/>
<circle cx="437.80" cy="319.31" r="1.0" fill="#111"/>
<circle cx="404.20" cy="318.96" r="1.0" fill="#111"/>
<circle cx="440.60" cy="318.60" r="1.0" fill="#111"/>
<circle cx="421.00" cy="318.23" r="1.0" fill="#111"/>
<circle cx="423.80" cy="317.86" r="1.0" fill="#111"/>
<circle cx="418.20" cy="317.47" r="1.0" fill="#111"/>
<circle cx="426.60" cy="317.07" r="1.0" fill="#111"/>
<circle cx="415.40" cy="316.65" r="1.0" fill="#111"/>
<circle cx="429.40" cy="316.22" r="1.0" fill="#111"/>
<circle cx="412.60" cy="315.77" r="1.0" fill="#111"/>
<circle cx="432.20" cy="315.31" r="1.0" fill="#111"/>
<circle cx="409.80" cy="314.82" r="1.0" fill="#111"/>
<circle cx="435.00" cy="314.30" r="1.0" fill="#111"/>
<circle cx="421.00" cy="313.76" r="1.0" fill="#111"/>
<circle cx="423.80" cy="313.18" r="1.0" fill="#111"/>
<circle cx="418.20" cy="312.57" r="1.0" fill="#111"/>
<circle cx="426.60" cy="311.91" r="1.0" fill="#111"/>
<circle cx="415.40" cy="311.21" r="1.0" fill="#111"/>
<circle cx="429.40" cy="310.43" r="1.0" fill="#111"/>
<circle cx="421.00" cy="309.59" r="1.0" fill="#111"/>
<circle cx="423.80" cy="308.64" r="1.0" fill="#111"/>
<circle cx="418.20" cy="307.58" r="1.0" fill="#111"/>
<circle cx="426.60" cy="306.34" r="1.0" fill="#111"/>
<circle cx="422.40" cy="304.88" r="1.0" fill="#111"/>
<circle cx="425.20" cy="303.08" r="1.0" fill="#111"/>
<circle cx="419.60" cy="300.70" r="1.0" fill="#111"/>
<circle cx="421.00" cy="300.18" r="1.0" fill="#111"/>
<circle cx="423.80" cy="300.13" r="1.0" fill="#111"/>
<circle cx="418.20" cy="297.60" r="1.0" fill="#111"/>
<circle cx="426.60" cy="297.60" r="1.0" fill="#111"/>
<circle cx="421.00" cy="291.35" r="1.0" fill="#111"/>
<circle cx="423.80" cy="287.60" r="1.0" fill="#111"/>
<circle cx="422.40" cy="242.60" r="1.0" fill="#111"/>
<circle cx="497.60" cy="326.93" r="1.0" fill="#111"/>
<circle cx="500.40" cy="326.34" r="1.0" fill="#111"/>
<circle cx="494.80" cy="325.89" r="1.0" fill="#111"/>
<circle cx="503.20" cy="325.50" r="1.0" fill="#111"/>
<circle cx="492.00" cy="325.14" r="1.0" fill="#111"/>
<circle cx="506.00" cy="324.79" r="1.0" fill="#111"/>
<circle cx="489.20" cy="324.46" r="1.0" fill="#111"/>
<circle cx="508.80" cy="324.14" r="1.0" fill="#111"/>
<circle cx="486.40" cy="323.82" r="1.0" fill="#111"/>
<circle cx="511.60" cy="323.50" r="1.0" fill="#111"/>
<circle cx="483.60" cy="323.19" r="1.0" fill="#111"/>
<circle cx="497.60" cy="322.88" r="1.0" fill="#111"/>
<circle cx="500.40" cy="322.56" r="1.0" fill="#111"/>
<circle cx="494.80" cy="322.24" r="1.0" fill="#111"/>
<circle cx="503.20" cy="321.92" r="1.0" fill="#111"/>
<circle cx="492.00" cy="321.59" r="1.0" fill="#111"/>
<circle cx="506.00" cy="321.26" r="1.0" fill="#111"/>
<circle cx="489.20" cy="320.92" r="1.0" fill="#111"/>
<circle cx="508.80" cy="320.57" r="1.0" fill="#111"/>
<circle cx="486.40" cy="320.21" r="1.0" fill="#111"/>
<circle cx="511.60" cy="319.84" r="1.0" fill="#111"/>
<circle cx="483.60" cy="319.46" r="1.0" fill="#111"/>
<circle cx="514.40" cy="319.06" r="1.0" fill="#111"/>
<circle cx="480.80" cy="318.65" r="1.0" fill="#111"/>
<circle cx="496.20" cy="318.22" r="1.0" fill="#111"/>
<circle cx="499.00" cy="317.77" r="1.0" fill="#111"/>
<circle cx="493.40" cy="317.30" r="1.0" fill="#111"/>
<circle cx="501.80" cy="316.80" r="1.0" fill="#111"/>
<circle cx="490.60" cy="316.26" r="1.0" fill="#111"/>
<circle cx="504.60" cy="315.69" r="1.0" fill="#111"/>
<circle cx="487.80" cy="315.08" r="1.0" fill="#111"/>
<circle cx="507.40" cy="314.41" r="1.0" fill="#111"/>
<circle cx="497.60" cy="313.68" r="1.0" fill="#111"/>
<circle cx="500.40" cy="312.86" r="1.0" fill="#111"/>
<circle cx="494.80" cy="311.94" r="1.0" fill="#111"/>
<circle cx="503.20" cy="310.88" r="1.0" fill="#111"/>
<circle cx="492.00" cy="309.63" r="1.0" fill="#111"/>
<circle cx="496.20" cy="308.08" r="1.0" fill="#111"/>
<circle cx="499.00" cy="307.72" r="1.0" fill="#111"/>
<circle cx="493.40" cy="307.67" r="1.0" fill="#111"/>
<circle cx="501.80" cy="307.62" r="1.0" fill="#111"/>
<circle cx="497.60" cy="302.60" r="1.0" fill="#111"/>
<circle cx="497.60" cy="297.60" r="1.0" fill="#111"/>
<circle cx="496.20" cy="293.85" r="1.0" fill="#111"/>
<circle cx="499.00" cy="292.60" r="1.0" fill="#111"/>
<circle cx="497.60" cy="285.10" r="1.0" fill="#111"/>
<circle cx="497.60" cy="267.60" r="1.0" fill="#111"/>
<line x1="397.50" y1="313.40" x2="447.30" y2="313.40" stroke="#444" stroke-width="1.3" />
<line x1="409.90" y1="300.00" x2="434.90" y2="300.00" stroke="#444" stroke-width="1.3" />
<line x1="409.90" y1="326.80" x2="434.90" y2="326.80" stroke="#444" stroke-width="1.3" />
<line x1="422.40" y1="300.00" x2="422.40" y2="326.80" stroke="#444" stroke-width="1.3" />
<line x1="472.70" y1="315.00" x2="522.50" y2="315.00" stroke="#444" stroke-width="1.3" />
<line x1="485.30" y1="303.00" x2="509.90" y2="303.00" stroke="#444" stroke-width="1.3" />
<line x1="485.30" y1="327.00" x2="509.90" y2="327.00" stroke="#444" stroke-width="1.3" />
<line x1="497.60" y1="303.00" x2="497.60" y2="327.00" stroke="#444" stroke-width="1.3" />
<text x="422.40" y="338.00" font-size="7" fill="#2a2a2a" text-anchor="middle" font-weight="bold" >No chemotherapy</text>
<text x="419.00" y="349.20" font-size="7.6" fill="#333" text-anchor="middle" >n = 54</text>
<text x="497.60" y="338.00" font-size="7" fill="#2a2a2a" text-anchor="middle" font-weight="bold" >chemotherapy</text>
<text x="498.40" y="349.20" font-size="7.6" fill="#333" text-anchor="middle" >n = 47</text>
<text x="365.45" y="277.50" font-size="7" fill="#222" text-anchor="middle" transform="rotate(-90 365.45 277.50)" font-weight="bold">Relative miR-183 expression</text>
<rect x="530.00" y="207.00" width="175.00" height="138.00" fill="#fdfdfd" />
<text x="533.11" y="206.34" font-size="17.8" fill="#000" text-anchor="start" font-weight="bold" >H</text>
<text x="608.00" y="217.00" font-size="9" fill="#333" textLength="43.00" lengthAdjust="spacingAndGlyphs"><tspan font-style="italic">p</tspan> = 0.8937</text>
<line x1="594.40" y1="226.00" x2="667.00" y2="226.00" stroke="#222" stroke-width="1.6" />
<line x1="594.40" y1="222.50" x2="594.40" y2="229.50" stroke="#222" stroke-width="1.6" />
<line x1="667.00" y1="222.50" x2="667.00" y2="229.50" stroke="#222" stroke-width="1.6" />
<line x1="560.40" y1="232.40" x2="560.40" y2="327.00" stroke="#333" stroke-width="1.3" />
<line x1="558.40" y1="232.40" x2="560.40" y2="232.40" stroke="#333" stroke-width="1.3" />
<text x="556.90" y="234.92" font-size="7" fill="#222" text-anchor="end" font-weight="bold" >8</text>
<line x1="558.40" y1="251.40" x2="560.40" y2="251.40" stroke="#333" stroke-width="1.3" />
<text x="556.90" y="253.92" font-size="7" fill="#222" text-anchor="end" font-weight="bold" >6</text>
<line x1="558.40" y1="270.40" x2="560.40" y2="270.40" stroke="#333" stroke-width="1.3" />
<text x="556.90" y="272.92" font-size="7" fill="#222" text-anchor="end" font-weight="bold" >4</text>
<line x1="558.40" y1="289.40" x2="560.40" y2="289.40" stroke="#333" stroke-width="1.3" />
<text x="556.90" y="291.92" font-size="7" fill="#222" text-anchor="end" font-weight="bold" >2</text>
<line x1="558.40" y1="308.00" x2="560.40" y2="308.00" stroke="#333" stroke-width="1.3" />
<text x="556.90" y="310.52" font-size="7" fill="#222" text-anchor="end" font-weight="bold" >0</text>
<line x1="558.40" y1="327.00" x2="560.40" y2="327.00" stroke="#333" stroke-width="1.3" />
<text x="556.90" y="329.52" font-size="7" fill="#222" text-anchor="end" font-weight="bold" >-2</text>
<line x1="560.40" y1="327.00" x2="701.40" y2="327.00" stroke="#333" stroke-width="1.4" />
<line x1="595.40" y1="327.00" x2="595.40" y2="330.00" stroke="#333" stroke-width="1.2" />
<line x1="666.00" y1="327.00" x2="666.00" y2="330.00" stroke="#333" stroke-width="1.2" />
<circle cx="595.40" cy="307.39" r="1.0" fill="#111"/>
<circle cx="598.20" cy="306.90" r="1.0" fill="#111"/>
<circle cx="592.60" cy="306.54" r="1.0" fill="#111"/>
<circle cx="601.00" cy="306.23" r="1.0" fill="#111"/>
<circle cx="589.80" cy="305.95" r="1.0" fill="#111"/>
<circle cx="603.80" cy="305.69" r="1.0" fill="#111"/>
<circle cx="587.00" cy="305.44" r="1.0" fill="#111"/>
<circle cx="606.60" cy="305.20" r="1.0" fill="#111"/>
<circle cx="584.20" cy="304.96" r="1.0" fill="#111"/>
<circle cx="609.40" cy="304.73" r="1.0" fill="#111"/>
<circle cx="581.40" cy="304.51" r="1.0" fill="#111"/>
<circle cx="612.20" cy="304.28" r="1.0" fill="#111"/>
<circle cx="578.60" cy="304.06" r="1.0" fill="#111"/>
<circle cx="615.00" cy="303.83" r="1.0" fill="#111"/>
<circle cx="575.80" cy="303.61" r="1.0" fill="#111"/>
<circle cx="595.40" cy="303.38" r="1.0" fill="#111"/>
<circle cx="598.20" cy="303.16" r="1.0" fill="#111"/>
<circle cx="592.60" cy="302.93" r="1.0" fill="#111"/>
<circle cx="601.00" cy="302.70" r="1.0" fill="#111"/>
<circle cx="589.80" cy="302.46" r="1.0" fill="#111"/>
<circle cx="603.80" cy="302.22" r="1.0" fill="#111"/>
<circle cx="587.00" cy="301.98" r="1.0" fill="#111"/>
<circle cx="606.60" cy="301.73" r="1.0" fill="#111"/>
<circle cx="584.20" cy="301.48" r="1.0" fill="#111"/>
<circle cx="609.40" cy="301.22" r="1.0" fill="#111"/>
<circle cx="581.40" cy="300.95" r="1.0" fill="#111"/>
<circle cx="612.20" cy="300.68" r="1.0" fill="#111"/>
<circle cx="578.60" cy="300.40" r="1.0" fill="#111"/>
<circle cx="615.00" cy="300.10" r="1.0" fill="#111"/>
<circle cx="575.80" cy="299.80" r="1.0" fill="#111"/>
<circle cx="617.80" cy="299.49" r="1.0" fill="#111"/>
<circle cx="573.00" cy="299.16" r="1.0" fill="#111"/>
<circle cx="595.40" cy="298.82" r="1.0" fill="#111"/>
<circle cx="598.20" cy="298.45" r="1.0" fill="#111"/>
<circle cx="592.60" cy="298.07" r="1.0" fill="#111"/>
<circle cx="601.00" cy="297.67" r="1.0" fill="#111"/>
<circle cx="589.80" cy="297.24" r="1.0" fill="#111"/>
<circle cx="603.80" cy="296.78" r="1.0" fill="#111"/>
<circle cx="587.00" cy="296.29" r="1.0" fill="#111"/>
<circle cx="606.60" cy="295.75" r="1.0" fill="#111"/>
<circle cx="584.20" cy="295.16" r="1.0" fill="#111"/>
<circle cx="595.40" cy="294.50" r="1.0" fill="#111"/>
<circle cx="598.20" cy="293.75" r="1.0" fill="#111"/>
<circle cx="592.60" cy="292.90" r="1.0" fill="#111"/>
<circle cx="601.00" cy="291.88" r="1.0" fill="#111"/>
<circle cx="589.80" cy="290.62" r="1.0" fill="#111"/>
<circle cx="594.00" cy="289.10" r="1.0" fill="#111"/>
<circle cx="596.80" cy="289.06" r="1.0" fill="#111"/>
<circle cx="591.20" cy="289.02" r="1.0" fill="#111"/>
<circle cx="599.60" cy="286.15" r="1.0" fill="#111"/>
<circle cx="595.40" cy="281.40" r="1.0" fill="#111"/>
<circle cx="595.40" cy="279.50" r="1.0" fill="#111"/>
<circle cx="595.40" cy="270.95" r="1.0" fill="#111"/>
<circle cx="595.40" cy="266.20" r="1.0" fill="#111"/>
<circle cx="664.60" cy="307.10" r="1.0" fill="#111"/>
<circle cx="667.40" cy="306.50" r="1.0" fill="#111"/>
<circle cx="661.80" cy="306.08" r="1.0" fill="#111"/>
<circle cx="670.20" cy="305.72" r="1.0" fill="#111"/>
<circle cx="659.00" cy="305.40" r="1.0" fill="#111"/>
<circle cx="673.00" cy="305.10" r="1.0" fill="#111"/>
<circle cx="656.20" cy="304.82" r="1.0" fill="#111"/>
<circle cx="675.80" cy="304.55" r="1.0" fill="#111"/>
<circle cx="653.40" cy="304.28" r="1.0" fill="#111"/>
<circle cx="678.60" cy="304.02" r="1.0" fill="#111"/>
<circle cx="650.60" cy="303.77" r="1.0" fill="#111"/>
<circle cx="681.40" cy="303.51" r="1.0" fill="#111"/>
<circle cx="666.00" cy="303.26" r="1.0" fill="#111"/>
<circle cx="668.80" cy="303.01" r="1.0" fill="#111"/>
<circle cx="663.20" cy="302.76" r="1.0" fill="#111"/>
<circle cx="671.60" cy="302.50" r="1.0" fill="#111"/>
<circle cx="660.40" cy="302.24" r="1.0" fill="#111"/>
<circle cx="674.40" cy="301.98" r="1.0" fill="#111"/>
<circle cx="657.60" cy="301.71" r="1.0" fill="#111"/>
<circle cx="677.20" cy="301.44" r="1.0" fill="#111"/>
<circle cx="654.80" cy="301.16" r="1.0" fill="#111"/>
<circle cx="680.00" cy="300.88" r="1.0" fill="#111"/>
<circle cx="652.00" cy="300.58" r="1.0" fill="#111"/>
<circle cx="682.80" cy="300.28" r="1.0" fill="#111"/>
<circle cx="649.20" cy="299.96" r="1.0" fill="#111"/>
<circle cx="685.60" cy="299.63" r="1.0" fill="#111"/>
<circle cx="646.40" cy="299.29" r="1.0" fill="#111"/>
<circle cx="666.00" cy="298.93" r="1.0" fill="#111"/>
<circle cx="668.80" cy="298.55" r="1.0" fill="#111"/>
<circle cx="663.20" cy="298.15" r="1.0" fill="#111"/>
<circle cx="671.60" cy="297.72" r="1.0" fill="#111"/>
<circle cx="660.40" cy="297.26" r="1.0" fill="#111"/>
<circle cx="674.40" cy="296.77" r="1.0" fill="#111"/>
<circle cx="657.60" cy="296.22" r="1.0" fill="#111"/>
<circle cx="677.20" cy="295.62" r="1.0" fill="#111"/>
<circle cx="654.80" cy="294.94" r="1.0" fill="#111"/>
<circle cx="664.60" cy="294.16" r="1.0" fill="#111"/>
<circle cx="667.40" cy="293.24" r="1.0" fill="#111"/>
<circle cx="661.80" cy="292.11" r="1.0" fill="#111"/>
<circle cx="670.20" cy="291.00" r="1.0" fill="#111"/>
<circle cx="659.00" cy="290.96" r="1.0" fill="#111"/>
<circle cx="673.00" cy="290.92" r="1.0" fill="#111"/>
<circle cx="666.00" cy="289.00" r="1.0" fill="#111"/>
<circle cx="664.60" cy="284.25" r="1.0" fill="#111"/>
<circle cx="667.40" cy="284.25" r="1.0" fill="#111"/>
<circle cx="666.00" cy="271.90" r="1.0" fill="#111"/>
<circle cx="666.00" cy="252.90" r="1.0" fill="#111"/>
<line x1="571.90" y1="298.40" x2="618.90" y2="298.40" stroke="#444" stroke-width="1.3" />
<line x1="583.70" y1="289.40" x2="607.10" y2="289.40" stroke="#444" stroke-width="1.3" />
<line x1="583.70" y1="308.40" x2="607.10" y2="308.40" stroke="#444" stroke-width="1.3" />
<line x1="595.40" y1="289.40" x2="595.40" y2="308.40" stroke="#444" stroke-width="1.3" />
<line x1="642.40" y1="298.40" x2="689.60" y2="298.40" stroke="#444" stroke-width="1.3" />
<line x1="653.80" y1="289.40" x2="678.20" y2="289.40" stroke="#444" stroke-width="1.3" />
<line x1="653.80" y1="308.40" x2="678.20" y2="308.40" stroke="#444" stroke-width="1.3" />
<line x1="666.00" y1="289.40" x2="666.00" y2="308.40" stroke="#444" stroke-width="1.3" />
<text x="595.40" y="337.20" font-size="7" fill="#2a2a2a" text-anchor="middle" font-weight="bold" >No chemotherapy</text>
<text x="592.40" y="348.20" font-size="7.6" fill="#333" text-anchor="middle" >n = 54</text>
<text x="666.00" y="337.20" font-size="7" fill="#2a2a2a" text-anchor="middle" font-weight="bold" >chemotherapy</text>
<text x="662.40" y="348.20" font-size="7.6" fill="#333" text-anchor="middle" >n = 47</text>
<text x="544.45" y="279.70" font-size="7" fill="#222" text-anchor="middle" transform="rotate(-90 544.45 279.70)" font-weight="bold">Relative miR-335 expression</text>
<rect x="727.00" y="189.00" width="208.00" height="188.00" fill="#fdfdfd" />
<text x="735.31" y="184.54" font-size="17.8" fill="#000" text-anchor="start" font-weight="bold" >O</text>
<text x="830.00" y="187.00" font-size="10.61" fill="#111" text-anchor="start" font-weight="bold" textLength="21.00" lengthAdjust="spacingAndGlyphs" >SAS</text>
<line x1="768.50" y1="214.00" x2="768.50" y2="357.00" stroke="#333" stroke-width="1.3" />
<line x1="766.20" y1="214.00" x2="768.50" y2="214.00" stroke="#333" stroke-width="1.3" />
<text x="764.20" y="217.24" font-size="9" fill="#333" text-anchor="end" font-weight="bold" textLength="19.50" lengthAdjust="spacingAndGlyphs" >5000</text>
<line x1="766.20" y1="242.60" x2="768.50" y2="242.60" stroke="#333" stroke-width="1.3" />
<text x="764.20" y="245.84" font-size="9" fill="#333" text-anchor="end" font-weight="bold" textLength="19.50" lengthAdjust="spacingAndGlyphs" >4000</text>
<line x1="766.20" y1="271.20" x2="768.50" y2="271.20" stroke="#333" stroke-width="1.3" />
<text x="764.20" y="274.44" font-size="9" fill="#333" text-anchor="end" font-weight="bold" textLength="19.50" lengthAdjust="spacingAndGlyphs" >3000</text>
<line x1="766.20" y1="299.80" x2="768.50" y2="299.80" stroke="#333" stroke-width="1.3" />
<text x="764.20" y="303.04" font-size="9" fill="#333" text-anchor="end" font-weight="bold" textLength="19.50" lengthAdjust="spacingAndGlyphs" >2000</text>
<line x1="766.20" y1="328.40" x2="768.50" y2="328.40" stroke="#333" stroke-width="1.3" />
<text x="764.20" y="331.64" font-size="9" fill="#333" text-anchor="end" font-weight="bold" textLength="19.50" lengthAdjust="spacingAndGlyphs" >1000</text>
<line x1="766.20" y1="357.00" x2="768.50" y2="357.00" stroke="#333" stroke-width="1.3" />
<text x="764.20" y="360.24" font-size="9" fill="#333" text-anchor="end" font-weight="bold" >0</text>
<line x1="768.00" y1="357.00" x2="912.00" y2="357.00" stroke="#222" stroke-width="1.3" />
<line x1="804.40" y1="357.00" x2="804.40" y2="360.00" stroke="#222" stroke-width="1.2" />
<line x1="875.80" y1="357.00" x2="875.80" y2="360.00" stroke="#222" stroke-width="1.2" />
<line x1="817.50" y1="320.50" x2="817.50" y2="319.00" stroke="#000" stroke-width="1.3" />
<line x1="814.00" y1="319.00" x2="821.00" y2="319.00" stroke="#000" stroke-width="1.3" />
<rect x="781.40" y="335.00" width="19.00" height="22.00" fill="#000" />
<rect x="808.40" y="320.00" width="19.00" height="37.00" fill="#5b5b5b" />
<line x1="862.70" y1="267.10" x2="862.70" y2="263.00" stroke="#000" stroke-width="1.3" />
<line x1="858.20" y1="263.00" x2="867.20" y2="263.00" stroke="#000" stroke-width="1.3" />
<rect x="853.00" y="266.60" width="19.40" height="90.40" fill="#000" />
<line x1="889.60" y1="240.10" x2="889.60" y2="236.60" stroke="#000" stroke-width="1.3" />
<line x1="884.60" y1="236.60" x2="894.60" y2="236.60" stroke="#000" stroke-width="1.3" />
<rect x="880.00" y="239.60" width="19.30" height="117.40" fill="#5b5b5b" />
<line x1="790.90" y1="335.00" x2="800.00" y2="335.00" stroke="#000" stroke-width="1" />
<polyline points="817.40,302.00 817.40,206.60 888.60,206.60 888.60,228.60" stroke="#555" stroke-width="0.9" fill="none" stroke-linejoin="miter"/>
<polyline points="790.40,320.40 790.40,224.60 863.00,224.60 863.00,251.00" stroke="#555" stroke-width="0.9" fill="none" stroke-linejoin="miter"/>
<path d="M854.40,198.90L854.40,202.10M853.01,199.70L855.79,201.30M855.79,199.70L853.01,201.30" stroke="#333" stroke-width="0.9" stroke-linecap="round"/>
<path d="M829.00,218.90L829.00,222.10M827.61,219.70L830.39,221.30M830.39,219.70L827.61,221.30" stroke="#333" stroke-width="0.9" stroke-linecap="round"/>
<rect x="911.50" y="203.50" width="12.50" height="6.00" fill="#000" rx="1"/>
<rect x="911.50" y="215.20" width="12.50" height="6.00" fill="#5b5b5b" rx="1"/>
<text x="930.00" y="209.50" font-size="8.7" fill="#444" text-anchor="start" textLength="12.30" lengthAdjust="spacingAndGlyphs" >Ctrl</text>
<text x="930.00" y="221.10" font-size="8.5" fill="#444" text-anchor="start" textLength="25.50" lengthAdjust="spacingAndGlyphs" >IR 24h</text>
<text x="804.30" y="369.00" font-size="8.4" fill="#333" text-anchor="middle" font-weight="bold" textLength="12.50" lengthAdjust="spacingAndGlyphs" >NC</text>
<text x="876.00" y="369.00" font-size="8.4" fill="#333" text-anchor="middle" font-weight="bold" textLength="48.00" lengthAdjust="spacingAndGlyphs" >miR-182-5p</text>
<text x="740.11" y="284.90" font-size="10.6" fill="#222" text-anchor="middle" transform="rotate(-90 740.11 284.90)" font-weight="bold" textLength="60.30" lengthAdjust="spacingAndGlyphs">RFU 495/529</text>
<rect x="971.00" y="196.00" width="194.00" height="181.00" fill="#fdfdfd" />
<text x="993.11" y="184.34" font-size="17.8" fill="#000" text-anchor="start" font-weight="bold" >P</text>
<text x="1071.50" y="186.80" font-size="10.47" fill="#111" text-anchor="start" font-weight="bold" textLength="25.30" lengthAdjust="spacingAndGlyphs" >FaDu</text>
<line x1="1016.30" y1="221.60" x2="1016.30" y2="357.60" stroke="#333" stroke-width="1.3" />
<line x1="1014.00" y1="221.60" x2="1016.30" y2="221.60" stroke="#333" stroke-width="1.3" />
<text x="1012.00" y="224.84" font-size="9" fill="#333" text-anchor="end" font-weight="bold" textLength="19.20" lengthAdjust="spacingAndGlyphs" >5000</text>
<line x1="1014.00" y1="248.80" x2="1016.30" y2="248.80" stroke="#333" stroke-width="1.3" />
<text x="1012.00" y="252.04" font-size="9" fill="#333" text-anchor="end" font-weight="bold" textLength="19.20" lengthAdjust="spacingAndGlyphs" >4000</text>
<line x1="1014.00" y1="276.00" x2="1016.30" y2="276.00" stroke="#333" stroke-width="1.3" />
<text x="1012.00" y="279.24" font-size="9" fill="#333" text-anchor="end" font-weight="bold" textLength="19.20" lengthAdjust="spacingAndGlyphs" >3000</text>
<line x1="1014.00" y1="303.20" x2="1016.30" y2="303.20" stroke="#333" stroke-width="1.3" />
<text x="1012.00" y="306.44" font-size="9" fill="#333" text-anchor="end" font-weight="bold" textLength="19.20" lengthAdjust="spacingAndGlyphs" >2000</text>
<line x1="1014.00" y1="330.40" x2="1016.30" y2="330.40" stroke="#333" stroke-width="1.3" />
<text x="1012.00" y="333.64" font-size="9" fill="#333" text-anchor="end" font-weight="bold" textLength="19.20" lengthAdjust="spacingAndGlyphs" >1000</text>
<line x1="1014.00" y1="357.60" x2="1016.30" y2="357.60" stroke="#333" stroke-width="1.3" />
<text x="1012.00" y="360.84" font-size="9" fill="#333" text-anchor="end" font-weight="bold" >0</text>
<line x1="1016.00" y1="357.60" x2="1152.60" y2="357.60" stroke="#222" stroke-width="1.3" />
<line x1="1050.00" y1="357.60" x2="1050.00" y2="360.60" stroke="#222" stroke-width="1.2" />
<line x1="1118.00" y1="357.60" x2="1118.00" y2="360.60" stroke="#222" stroke-width="1.2" />
<line x1="1037.20" y1="317.90" x2="1037.20" y2="316.20" stroke="#000" stroke-width="1.3" />
<line x1="1033.20" y1="316.20" x2="1041.20" y2="316.20" stroke="#000" stroke-width="1.3" />
<rect x="1028.00" y="317.40" width="18.40" height="40.20" fill="#000" />
<line x1="1063.00" y1="274.10" x2="1063.00" y2="271.00" stroke="#000" stroke-width="1.3" />
<line x1="1059.00" y1="271.00" x2="1067.00" y2="271.00" stroke="#000" stroke-width="1.3" />
<rect x="1054.00" y="273.60" width="17.60" height="84.00" fill="#5b5b5b" />
<line x1="1105.60" y1="298.50" x2="1105.60" y2="297.00" stroke="#000" stroke-width="1.3" />
<line x1="1101.60" y1="297.00" x2="1109.60" y2="297.00" stroke="#000" stroke-width="1.3" />
<rect x="1096.60" y="298.00" width="18.00" height="59.60" fill="#000" />
<line x1="1131.00" y1="260.50" x2="1131.00" y2="249.00" stroke="#000" stroke-width="1.3" />
<line x1="1126.50" y1="249.00" x2="1135.50" y2="249.00" stroke="#000" stroke-width="1.3" />
<rect x="1122.00" y="260.00" width="18.00" height="97.60" fill="#5b5b5b" />
<polyline points="1062.00,258.00 1062.00,213.00 1131.40,213.00 1131.40,233.60" stroke="#555" stroke-width="0.9" fill="none" stroke-linejoin="miter"/>
<polyline points="1033.00,272.40 1033.00,221.00 1106.60,221.00 1106.60,246.40" stroke="#555" stroke-width="0.9" fill="none" stroke-linejoin="miter"/>
<path d="M1097.60,206.40L1097.60,209.60M1096.21,207.20L1098.99,208.80M1098.99,207.20L1096.21,208.80" stroke="#333" stroke-width="0.9" stroke-linecap="round"/>
<path d="M1070.40,216.90L1070.40,220.10M1069.01,217.70L1071.79,219.30M1071.79,217.70L1069.01,219.30" stroke="#333" stroke-width="0.9" stroke-linecap="round"/>
<rect x="1148.90" y="212.10" width="12.30" height="5.70" fill="#000" rx="1"/>
<rect x="1148.90" y="225.20" width="12.30" height="5.70" fill="#5b5b5b" rx="1"/>
<text x="1166.60" y="217.90" font-size="8.1" fill="#444" text-anchor="start" textLength="11.60" lengthAdjust="spacingAndGlyphs" >Ctrl</text>
<text x="1166.60" y="230.90" font-size="8.0" fill="#444" text-anchor="start" textLength="21.40" lengthAdjust="spacingAndGlyphs" >IR 24h</text>
<text x="1050.00" y="369.60" font-size="8.4" fill="#333" text-anchor="middle" font-weight="bold" textLength="12.50" lengthAdjust="spacingAndGlyphs" >NC</text>
<text x="1118.00" y="369.60" font-size="8.4" fill="#333" text-anchor="middle" font-weight="bold" textLength="46.50" lengthAdjust="spacingAndGlyphs" >miR-182-5p</text>
<text x="989.07" y="289.50" font-size="10.2" fill="#222" text-anchor="middle" transform="rotate(-90 989.07 289.50)" font-weight="bold" textLength="57.00" lengthAdjust="spacingAndGlyphs">RFU 495/529</text>
<rect x="44.00" y="391.00" width="201.00" height="152.00" fill="#fdfdfd" />
<text x="56.71" y="384.34" font-size="17.8" fill="#000" text-anchor="start" font-weight="bold" >I</text>
<text x="148.00" y="391.00" font-size="10.34" fill="#111" text-anchor="start" font-weight="bold" textLength="20.40" lengthAdjust="spacingAndGlyphs" >SAS</text>
<line x1="80.00" y1="406.40" x2="80.00" y2="525.20" stroke="#333" stroke-width="1.3" />
<line x1="78.00" y1="406.40" x2="80.00" y2="406.40" stroke="#333" stroke-width="1.3" />
<text x="77.00" y="408.92" font-size="7" fill="#222" text-anchor="end" font-weight="bold" textLength="9.30" lengthAdjust="spacingAndGlyphs" >3.0</text>
<line x1="78.00" y1="426.20" x2="80.00" y2="426.20" stroke="#333" stroke-width="1.3" />
<text x="77.00" y="428.72" font-size="7" fill="#222" text-anchor="end" font-weight="bold" textLength="9.30" lengthAdjust="spacingAndGlyphs" >2.5</text>
<line x1="78.00" y1="445.90" x2="80.00" y2="445.90" stroke="#333" stroke-width="1.3" />
<text x="77.00" y="448.42" font-size="7" fill="#222" text-anchor="end" font-weight="bold" textLength="9.30" lengthAdjust="spacingAndGlyphs" >2.0</text>
<line x1="78.00" y1="465.70" x2="80.00" y2="465.70" stroke="#333" stroke-width="1.3" />
<text x="77.00" y="468.22" font-size="7" fill="#222" text-anchor="end" font-weight="bold" textLength="9.30" lengthAdjust="spacingAndGlyphs" >1.5</text>
<line x1="78.00" y1="485.40" x2="80.00" y2="485.40" stroke="#333" stroke-width="1.3" />
<text x="77.00" y="487.92" font-size="7" fill="#222" text-anchor="end" font-weight="bold" textLength="9.30" lengthAdjust="spacingAndGlyphs" >1.0</text>
<line x1="78.00" y1="505.30" x2="80.00" y2="505.30" stroke="#333" stroke-width="1.3" />
<text x="77.00" y="507.82" font-size="7" fill="#222" text-anchor="end" font-weight="bold" textLength="9.30" lengthAdjust="spacingAndGlyphs" >0.5</text>
<line x1="78.00" y1="525.20" x2="80.00" y2="525.20" stroke="#333" stroke-width="1.3" />
<text x="77.00" y="527.72" font-size="7" fill="#222" text-anchor="end" font-weight="bold" textLength="9.30" lengthAdjust="spacingAndGlyphs" >0.0</text>
<line x1="80.00" y1="525.20" x2="249.60" y2="525.20" stroke="#222" stroke-width="1.4" />
<line x1="121.00" y1="525.20" x2="121.00" y2="528.20" stroke="#222" stroke-width="1.2" />
<line x1="203.00" y1="525.20" x2="203.00" y2="528.20" stroke="#222" stroke-width="1.2" />
<line x1="108.00" y1="519.40" x2="134.60" y2="519.40" stroke="#111" stroke-width="1.3" />
<line x1="121.00" y1="519.40" x2="121.00" y2="525.00" stroke="#111" stroke-width="1.3" />
<rect x="175.40" y="422.20" width="56.10" height="103.00" fill="#9e9da2" />
<line x1="203.40" y1="422.70" x2="203.40" y2="411.40" stroke="#000" stroke-width="1.4" />
<line x1="190.00" y1="411.40" x2="216.80" y2="411.40" stroke="#000" stroke-width="1.4" />
<path d="M204.00,400.90L204.00,404.10M202.61,401.70L205.39,403.30M205.39,401.70L202.61,403.30" stroke="#222" stroke-width="0.9" stroke-linecap="round"/>
<text x="121.00" y="535.60" font-size="7" fill="#222" text-anchor="middle" font-weight="bold" >NC</text>
<text x="203.00" y="535.60" font-size="7" fill="#222" text-anchor="middle" font-weight="bold" textLength="37.20" lengthAdjust="spacingAndGlyphs" >miR-182-5p</text>
<text x="58.45" y="464.50" font-size="9" fill="#222" text-anchor="middle" transform="rotate(-90 58.45 464.50)" font-weight="bold" textLength="129.00" lengthAdjust="spacingAndGlyphs">Relative miR-182-5p expression</text>
<rect x="46.00" y="560.00" width="199.00" height="162.00" fill="#fdfdfd" />
<text x="56.11" y="562.34" font-size="17.8" fill="#000" text-anchor="start" font-weight="bold" >J</text>
<text x="149.00" y="571.00" font-size="9.78" fill="#111" text-anchor="start" font-weight="bold" textLength="24.60" lengthAdjust="spacingAndGlyphs" >FaDu</text>
<line x1="79.00" y1="578.60" x2="79.00" y2="703.40" stroke="#333" stroke-width="1.3" />
<line x1="77.00" y1="578.60" x2="79.00" y2="578.60" stroke="#333" stroke-width="1.3" />
<text x="76.00" y="581.12" font-size="7" fill="#222" text-anchor="end" font-weight="bold" textLength="9.30" lengthAdjust="spacingAndGlyphs" >3.0</text>
<line x1="77.00" y1="599.40" x2="79.00" y2="599.40" stroke="#333" stroke-width="1.3" />
<text x="76.00" y="601.92" font-size="7" fill="#222" text-anchor="end" font-weight="bold" textLength="9.30" lengthAdjust="spacingAndGlyphs" >2.5</text>
<line x1="77.00" y1="620.30" x2="79.00" y2="620.30" stroke="#333" stroke-width="1.3" />
<text x="76.00" y="622.82" font-size="7" fill="#222" text-anchor="end" font-weight="bold" textLength="9.30" lengthAdjust="spacingAndGlyphs" >2.0</text>
<line x1="77.00" y1="641.10" x2="79.00" y2="641.10" stroke="#333" stroke-width="1.3" />
<text x="76.00" y="643.62" font-size="7" fill="#222" text-anchor="end" font-weight="bold" textLength="9.30" lengthAdjust="spacingAndGlyphs" >1.5</text>
<line x1="77.00" y1="662.00" x2="79.00" y2="662.00" stroke="#333" stroke-width="1.3" />
<text x="76.00" y="664.52" font-size="7" fill="#222" text-anchor="end" font-weight="bold" textLength="9.30" lengthAdjust="spacingAndGlyphs" >1.0</text>
<line x1="77.00" y1="682.70" x2="79.00" y2="682.70" stroke="#333" stroke-width="1.3" />
<text x="76.00" y="685.22" font-size="7" fill="#222" text-anchor="end" font-weight="bold" textLength="9.30" lengthAdjust="spacingAndGlyphs" >0.5</text>
<line x1="77.00" y1="703.40" x2="79.00" y2="703.40" stroke="#333" stroke-width="1.3" />
<text x="76.00" y="705.92" font-size="7" fill="#222" text-anchor="end" font-weight="bold" textLength="9.30" lengthAdjust="spacingAndGlyphs" >0.0</text>
<line x1="79.00" y1="703.40" x2="249.60" y2="703.40" stroke="#222" stroke-width="1.4" />
<line x1="121.00" y1="703.40" x2="121.00" y2="706.40" stroke="#222" stroke-width="1.2" />
<line x1="206.00" y1="703.40" x2="206.00" y2="706.40" stroke="#222" stroke-width="1.2" />
<line x1="107.00" y1="700.00" x2="134.00" y2="700.00" stroke="#111" stroke-width="1.3" />
<line x1="121.00" y1="700.00" x2="121.00" y2="703.00" stroke="#111" stroke-width="1.3" />
<rect x="177.60" y="606.00" width="57.40" height="97.40" fill="#9e9da2" />
<line x1="206.30" y1="606.50" x2="206.30" y2="604.60" stroke="#000" stroke-width="1.4" />
<line x1="192.30" y1="604.60" x2="220.30" y2="604.60" stroke="#000" stroke-width="1.4" />
<path d="M206.00,594.90L206.00,598.10M204.61,595.70L207.39,597.30M207.39,595.70L204.61,597.30" stroke="#222" stroke-width="0.9" stroke-linecap="round"/>
<text x="121.00" y="714.40" font-size="7" fill="#222" text-anchor="middle" font-weight="bold" >NC</text>
<text x="206.00" y="714.40" font-size="7" fill="#222" text-anchor="middle" font-weight="bold" textLength="38.00" lengthAdjust="spacingAndGlyphs" >miR-182-5p</text>
<text x="55.73" y="639.00" font-size="9.5" fill="#222" text-anchor="middle" transform="rotate(-90 55.73 639.00)" font-weight="bold" textLength="136.00" lengthAdjust="spacingAndGlyphs">Relative miR-182-5p expression</text>
<rect x="276.00" y="388.00" width="194.00" height="136.00" fill="#fdfdfd" />
<text x="282.71" y="384.74" font-size="17.8" fill="#000" text-anchor="start" font-weight="bold" >K</text>
<text x="371.00" y="390.40" font-size="11.17" fill="#111" text-anchor="start" font-weight="bold" textLength="23.00" lengthAdjust="spacingAndGlyphs" >SAS</text>
<line x1="313.90" y1="400.00" x2="313.90" y2="518.60" stroke="#444" stroke-width="1.4" />
<line x1="311.60" y1="400.00" x2="313.90" y2="400.00" stroke="#444" stroke-width="1.4" />
<text x="309.60" y="403.20" font-size="8.9" fill="#111" text-anchor="end" textLength="14.50" lengthAdjust="spacingAndGlyphs" >4000</text>
<line x1="311.60" y1="429.60" x2="313.90" y2="429.60" stroke="#444" stroke-width="1.4" />
<text x="309.60" y="432.80" font-size="8.9" fill="#111" text-anchor="end" textLength="14.50" lengthAdjust="spacingAndGlyphs" >3000</text>
<line x1="311.60" y1="459.20" x2="313.90" y2="459.20" stroke="#444" stroke-width="1.4" />
<text x="309.60" y="462.40" font-size="8.9" fill="#111" text-anchor="end" textLength="14.50" lengthAdjust="spacingAndGlyphs" >2000</text>
<line x1="311.60" y1="489.00" x2="313.90" y2="489.00" stroke="#444" stroke-width="1.4" />
<text x="309.60" y="492.20" font-size="8.9" fill="#111" text-anchor="end" textLength="14.50" lengthAdjust="spacingAndGlyphs" >1000</text>
<line x1="311.60" y1="518.60" x2="313.90" y2="518.60" stroke="#444" stroke-width="1.4" />
<text x="309.60" y="521.80" font-size="8.9" fill="#111" text-anchor="end" >0</text>
<line x1="314.00" y1="518.60" x2="451.60" y2="518.60" stroke="#222" stroke-width="1.4" />
<line x1="348.60" y1="518.60" x2="348.60" y2="521.60" stroke="#222" stroke-width="1.2" />
<line x1="417.00" y1="518.60" x2="417.00" y2="521.60" stroke="#222" stroke-width="1.2" />
<line x1="348.60" y1="496.50" x2="348.60" y2="494.60" stroke="#000" stroke-width="1.3" />
<line x1="337.60" y1="494.60" x2="359.60" y2="494.60" stroke="#000" stroke-width="1.3" />
<rect x="325.00" y="496.00" width="46.60" height="22.60" fill="#000" />
<rect x="394.00" y="424.60" width="46.60" height="94.00" fill="#9e9da2" />
<line x1="417.20" y1="425.10" x2="417.20" y2="413.00" stroke="#000" stroke-width="1.4" />
<line x1="406.00" y1="413.00" x2="428.40" y2="413.00" stroke="#000" stroke-width="1.4" />
<path d="M417.00,401.80L417.00,405.00M415.61,402.60L418.39,404.20M418.39,402.60L415.61,404.20" stroke="#222" stroke-width="0.9" stroke-linecap="round"/>
<text x="348.80" y="533.80" font-size="9.8" fill="#222" text-anchor="middle" font-weight="bold" textLength="12.00" lengthAdjust="spacingAndGlyphs" >NC</text>
<text x="414.20" y="533.80" font-size="9.8" fill="#222" text-anchor="middle" font-weight="bold" textLength="48.70" lengthAdjust="spacingAndGlyphs" >miR-182-5p</text>
<text x="291.02" y="459.00" font-size="9.2" fill="#222" text-anchor="middle" transform="rotate(-90 291.02 459.00)" font-weight="bold" textLength="57.50" lengthAdjust="spacingAndGlyphs">RFU 495/529</text>
<rect x="276.00" y="560.00" width="194.00" height="144.00" fill="#fdfdfd" />
<text x="283.11" y="566.34" font-size="17.8" fill="#000" text-anchor="start" font-weight="bold" >L</text>
<text x="375.00" y="570.00" font-size="9.92" fill="#111" text-anchor="start" font-weight="bold" textLength="24.40" lengthAdjust="spacingAndGlyphs" >FaDu</text>
<line x1="315.00" y1="579.60" x2="315.00" y2="699.40" stroke="#444" stroke-width="1.4" />
<line x1="312.70" y1="579.60" x2="315.00" y2="579.60" stroke="#444" stroke-width="1.4" />
<text x="310.70" y="582.62" font-size="8.4" fill="#111" text-anchor="end" textLength="15.00" lengthAdjust="spacingAndGlyphs" >2500</text>
<line x1="312.70" y1="603.60" x2="315.00" y2="603.60" stroke="#444" stroke-width="1.4" />
<text x="310.70" y="606.62" font-size="8.4" fill="#111" text-anchor="end" textLength="15.00" lengthAdjust="spacingAndGlyphs" >2000</text>
<line x1="312.70" y1="627.60" x2="315.00" y2="627.60" stroke="#444" stroke-width="1.4" />
<text x="310.70" y="630.62" font-size="8.4" fill="#111" text-anchor="end" textLength="15.00" lengthAdjust="spacingAndGlyphs" >1500</text>
<line x1="312.70" y1="651.60" x2="315.00" y2="651.60" stroke="#444" stroke-width="1.4" />
<text x="310.70" y="654.62" font-size="8.4" fill="#111" text-anchor="end" textLength="15.00" lengthAdjust="spacingAndGlyphs" >1000</text>
<line x1="312.70" y1="675.60" x2="315.00" y2="675.60" stroke="#444" stroke-width="1.4" />
<text x="310.70" y="678.62" font-size="8.4" fill="#111" text-anchor="end" textLength="11.00" lengthAdjust="spacingAndGlyphs" >500</text>
<line x1="312.70" y1="699.40" x2="315.00" y2="699.40" stroke="#444" stroke-width="1.4" />
<text x="310.70" y="702.42" font-size="8.4" fill="#111" text-anchor="end" >0</text>
<line x1="315.00" y1="699.40" x2="461.60" y2="699.40" stroke="#222" stroke-width="1.4" />
<line x1="352.60" y1="699.40" x2="352.60" y2="702.40" stroke="#222" stroke-width="1.2" />
<line x1="425.00" y1="699.40" x2="425.00" y2="702.40" stroke="#222" stroke-width="1.2" />
<line x1="352.60" y1="668.50" x2="352.60" y2="664.60" stroke="#000" stroke-width="1.3" />
<line x1="340.60" y1="664.60" x2="364.60" y2="664.60" stroke="#000" stroke-width="1.3" />
<rect x="328.00" y="668.00" width="49.40" height="31.40" fill="#000" />
<rect x="401.60" y="594.00" width="48.40" height="105.40" fill="#9e9da2" />
<line x1="425.60" y1="594.50" x2="425.60" y2="589.40" stroke="#000" stroke-width="1.4" />
<line x1="413.60" y1="589.40" x2="437.60" y2="589.40" stroke="#000" stroke-width="1.4" />
<path d="M426.00,579.90L426.00,583.10M424.61,580.70L427.39,582.30M427.39,580.70L424.61,582.30" stroke="#222" stroke-width="0.9" stroke-linecap="round"/>
<text x="352.60" y="714.40" font-size="9.8" fill="#222" text-anchor="middle" font-weight="bold" textLength="12.20" lengthAdjust="spacingAndGlyphs" >NC</text>
<text x="425.00" y="714.40" font-size="9.8" fill="#222" text-anchor="middle" font-weight="bold" textLength="49.00" lengthAdjust="spacingAndGlyphs" >miR-182-5p</text>
<text x="292.72" y="639.80" font-size="9.2" fill="#222" text-anchor="middle" transform="rotate(-90 292.72 639.80)" font-weight="bold" textLength="58.00" lengthAdjust="spacingAndGlyphs">RFU 495/529</text>
<text x="507.41" y="390.94" font-size="17.8" fill="#000" text-anchor="start" font-weight="bold" >M</text>
<text x="592.60" y="392.40" font-size="10.34" fill="#111" text-anchor="start" font-weight="bold" textLength="20.00" lengthAdjust="spacingAndGlyphs" >SAS</text>
<line x1="530.00" y1="414.00" x2="530.00" y2="518.40" stroke="#222" stroke-width="1.3" />
<line x1="527.80" y1="414.00" x2="530.00" y2="414.00" stroke="#222" stroke-width="1.2" />
<text x="527.40" y="415.94" font-size="5.4" font-weight="bold" fill="#222" text-anchor="end">2.5×10<tspan dy="-2.16" font-size="3.78">5</tspan></text>
<line x1="527.80" y1="435.20" x2="530.00" y2="435.20" stroke="#222" stroke-width="1.2" />
<text x="527.40" y="437.14" font-size="5.4" font-weight="bold" fill="#222" text-anchor="end">2.0×10<tspan dy="-2.16" font-size="3.78">5</tspan></text>
<line x1="527.80" y1="456.00" x2="530.00" y2="456.00" stroke="#222" stroke-width="1.2" />
<text x="527.40" y="457.94" font-size="5.4" font-weight="bold" fill="#222" text-anchor="end">1.5×10<tspan dy="-2.16" font-size="3.78">5</tspan></text>
<line x1="527.80" y1="476.80" x2="530.00" y2="476.80" stroke="#222" stroke-width="1.2" />
<text x="527.40" y="478.74" font-size="5.4" font-weight="bold" fill="#222" text-anchor="end">1.0×10<tspan dy="-2.16" font-size="3.78">5</tspan></text>
<line x1="527.80" y1="497.60" x2="530.00" y2="497.60" stroke="#222" stroke-width="1.2" />
<text x="527.40" y="499.54" font-size="5.4" font-weight="bold" fill="#222" text-anchor="end">5.0×10<tspan dy="-2.16" font-size="3.78">4</tspan></text>
<line x1="527.80" y1="518.40" x2="530.00" y2="518.40" stroke="#222" stroke-width="1.2" />
<text x="527.00" y="520.40" font-size="5.8" fill="#222" text-anchor="end" font-weight="bold" >0</text>
<line x1="530.00" y1="518.40" x2="685.50" y2="518.40" stroke="#222" stroke-width="1.5" />
<line x1="530.60" y1="518.40" x2="530.60" y2="520.80" stroke="#222" stroke-width="1.2" />
<text x="530.60" y="525.80" font-size="5.8" fill="#222" text-anchor="middle" font-weight="bold" >0</text>
<line x1="561.00" y1="518.40" x2="561.00" y2="520.80" stroke="#222" stroke-width="1.2" />
<text x="561.00" y="525.80" font-size="5.8" fill="#222" text-anchor="middle" font-weight="bold" >24</text>
<line x1="592.00" y1="518.40" x2="592.00" y2="520.80" stroke="#222" stroke-width="1.2" />
<text x="592.00" y="525.80" font-size="5.8" fill="#222" text-anchor="middle" font-weight="bold" >48</text>
<line x1="623.00" y1="518.40" x2="623.00" y2="520.80" stroke="#222" stroke-width="1.2" />
<text x="623.00" y="525.80" font-size="5.8" fill="#222" text-anchor="middle" font-weight="bold" >72</text>
<line x1="654.00" y1="518.40" x2="654.00" y2="520.80" stroke="#222" stroke-width="1.2" />
<text x="654.00" y="525.80" font-size="5.8" fill="#222" text-anchor="middle" font-weight="bold" >96</text>
<line x1="685.00" y1="518.40" x2="685.00" y2="520.80" stroke="#222" stroke-width="1.2" />
<text x="685.00" y="525.80" font-size="5.8" fill="#222" text-anchor="middle" font-weight="bold" >120</text>
<text x="607.40" y="534.00" font-size="6.6" fill="#222" text-anchor="middle" font-weight="bold" textLength="37.40" lengthAdjust="spacingAndGlyphs" >Time (hours)</text>
<polyline points="530.60,517.40 561.00,514.00 592.00,510.40 623.00,492.00 654.00,469.60 685.00,435.00" stroke="#8a8a8a" stroke-width="1.4" fill="none" stroke-linejoin="miter"/>
<line x1="623.00" y1="487.00" x2="623.00" y2="497.00" stroke="#8a8a8a" stroke-width="1.2" />
<line x1="621.00" y1="487.00" x2="625.00" y2="487.00" stroke="#8a8a8a" stroke-width="1.2" />
<line x1="621.00" y1="497.00" x2="625.00" y2="497.00" stroke="#8a8a8a" stroke-width="1.2" />
<line x1="654.00" y1="467.00" x2="654.00" y2="472.00" stroke="#8a8a8a" stroke-width="1.2" />
<line x1="652.00" y1="467.00" x2="656.00" y2="467.00" stroke="#8a8a8a" stroke-width="1.2" />
<line x1="652.00" y1="472.00" x2="656.00" y2="472.00" stroke="#8a8a8a" stroke-width="1.2" />
<line x1="685.00" y1="425.00" x2="685.00" y2="445.00" stroke="#8a8a8a" stroke-width="1.2" />
<line x1="683.00" y1="425.00" x2="687.00" y2="425.00" stroke="#8a8a8a" stroke-width="1.2" />
<line x1="683.00" y1="445.00" x2="687.00" y2="445.00" stroke="#8a8a8a" stroke-width="1.2" />
<rect x="529.00" y="515.80" width="3.20" height="3.20" fill="#8a8a8a" />
<rect x="559.40" y="512.40" width="3.20" height="3.20" fill="#8a8a8a" />
<rect x="590.40" y="508.80" width="3.20" height="3.20" fill="#8a8a8a" />
<rect x="621.40" y="490.40" width="3.20" height="3.20" fill="#8a8a8a" />
<rect x="652.40" y="468.00" width="3.20" height="3.20" fill="#8a8a8a" />
<rect x="683.40" y="433.40" width="3.20" height="3.20" fill="#8a8a8a" />
<polyline points="530.60,516.40 561.00,514.00 592.00,513.00 623.00,495.00 654.00,472.00 685.00,448.00" stroke="#111" stroke-width="1.6" fill="none" stroke-linejoin="miter"/>
<line x1="654.00" y1="469.00" x2="654.00" y2="475.00" stroke="#111" stroke-width="1.2" />
<line x1="652.00" y1="469.00" x2="656.00" y2="469.00" stroke="#111" stroke-width="1.2" />
<line x1="652.00" y1="475.00" x2="656.00" y2="475.00" stroke="#111" stroke-width="1.2" />
<line x1="685.00" y1="439.00" x2="685.00" y2="458.00" stroke="#111" stroke-width="1.2" />
<line x1="683.00" y1="439.00" x2="687.00" y2="439.00" stroke="#111" stroke-width="1.2" />
<line x1="683.00" y1="458.00" x2="687.00" y2="458.00" stroke="#111" stroke-width="1.2" />
<rect x="528.90" y="514.70" width="3.40" height="3.40" fill="#111" />
<rect x="559.30" y="512.30" width="3.40" height="3.40" fill="#111" />
<rect x="590.30" y="511.30" width="3.40" height="3.40" fill="#111" />
<rect x="621.30" y="493.30" width="3.40" height="3.40" fill="#111" />
<rect x="652.30" y="470.30" width="3.40" height="3.40" fill="#111" />
<rect x="683.30" y="446.30" width="3.40" height="3.40" fill="#111" />
<line x1="557.00" y1="550.60" x2="563.00" y2="550.60" stroke="#111" stroke-width="1.2" />
<rect x="558.50" y="549.10" width="3.00" height="3.00" fill="#111" />
<text x="566.40" y="553.00" font-size="6.6" fill="#333" text-anchor="start" >NC</text>
<line x1="615.00" y1="550.60" x2="621.00" y2="550.60" stroke="#8a8a8a" stroke-width="1.2" />
<rect x="616.50" y="549.10" width="3.00" height="3.00" fill="#8a8a8a" />
<text x="624.40" y="553.00" font-size="6.6" fill="#333" text-anchor="start" textLength="33.20" lengthAdjust="spacingAndGlyphs" >miR-182-5p</text>
<text x="502.17" y="465.50" font-size="6.2" fill="#222" text-anchor="middle" transform="rotate(-90 502.17 465.50)" font-weight="bold" textLength="45.00" lengthAdjust="spacingAndGlyphs">number of cells</text>
<text x="507.51" y="570.34" font-size="17.8" fill="#000" text-anchor="start" font-weight="bold" >N</text>
<text x="595.60" y="574.00" font-size="10.75" fill="#111" text-anchor="start" font-weight="bold" textLength="24.60" lengthAdjust="spacingAndGlyphs" >FaDu</text>
<line x1="531.40" y1="593.90" x2="531.40" y2="698.40" stroke="#222" stroke-width="1.3" />
<line x1="529.20" y1="593.90" x2="531.40" y2="593.90" stroke="#222" stroke-width="1.2" />
<text x="528.80" y="595.84" font-size="5.4" font-weight="bold" fill="#222" text-anchor="end">1.5×10<tspan dy="-2.16" font-size="3.78">6</tspan></text>
<line x1="529.20" y1="628.60" x2="531.40" y2="628.60" stroke="#222" stroke-width="1.2" />
<text x="528.80" y="630.54" font-size="5.4" font-weight="bold" fill="#222" text-anchor="end">1.0×10<tspan dy="-2.16" font-size="3.78">6</tspan></text>
<line x1="529.20" y1="663.40" x2="531.40" y2="663.40" stroke="#222" stroke-width="1.2" />
<text x="528.80" y="665.34" font-size="5.4" font-weight="bold" fill="#222" text-anchor="end">5.0×10<tspan dy="-2.16" font-size="3.78">5</tspan></text>
<line x1="529.20" y1="698.20" x2="531.40" y2="698.20" stroke="#222" stroke-width="1.2" />
<text x="528.40" y="700.40" font-size="5.8" fill="#222" text-anchor="end" font-weight="bold" >0</text>
<line x1="531.40" y1="698.40" x2="688.50" y2="698.40" stroke="#222" stroke-width="1.5" />
<line x1="531.80" y1="698.40" x2="531.80" y2="700.80" stroke="#222" stroke-width="1.2" />
<text x="531.80" y="705.80" font-size="5.8" fill="#222" text-anchor="middle" font-weight="bold" >0</text>
<line x1="562.40" y1="698.40" x2="562.40" y2="700.80" stroke="#222" stroke-width="1.2" />
<text x="562.40" y="705.80" font-size="5.8" fill="#222" text-anchor="middle" font-weight="bold" >24</text>
<line x1="593.60" y1="698.40" x2="593.60" y2="700.80" stroke="#222" stroke-width="1.2" />
<text x="593.60" y="705.80" font-size="5.8" fill="#222" text-anchor="middle" font-weight="bold" >48</text>
<line x1="625.00" y1="698.40" x2="625.00" y2="700.80" stroke="#222" stroke-width="1.2" />
<text x="625.00" y="705.80" font-size="5.8" fill="#222" text-anchor="middle" font-weight="bold" >72</text>
<line x1="656.00" y1="698.40" x2="656.00" y2="700.80" stroke="#222" stroke-width="1.2" />
<text x="656.00" y="705.80" font-size="5.8" fill="#222" text-anchor="middle" font-weight="bold" >96</text>
<line x1="687.60" y1="698.40" x2="687.60" y2="700.80" stroke="#222" stroke-width="1.2" />
<text x="687.60" y="705.80" font-size="5.8" fill="#222" text-anchor="middle" font-weight="bold" >120</text>
<text x="610.00" y="714.00" font-size="6.8" fill="#222" text-anchor="middle" font-weight="bold" textLength="38.00" lengthAdjust="spacingAndGlyphs" >Time (hours)</text>
<polyline points="531.80,695.00 562.40,693.40 593.60,693.00 625.00,690.60 656.00,681.00 687.60,674.60" stroke="#8a8a8a" stroke-width="1.4" fill="none" stroke-linejoin="miter"/>
<line x1="687.60" y1="669.60" x2="687.60" y2="679.00" stroke="#8a8a8a" stroke-width="1.2" />
<line x1="685.60" y1="669.60" x2="689.60" y2="669.60" stroke="#8a8a8a" stroke-width="1.2" />
<line x1="685.60" y1="679.00" x2="689.60" y2="679.00" stroke="#8a8a8a" stroke-width="1.2" />
<rect x="530.20" y="693.40" width="3.20" height="3.20" fill="#8a8a8a" />
<rect x="560.80" y="691.80" width="3.20" height="3.20" fill="#8a8a8a" />
<rect x="592.00" y="691.40" width="3.20" height="3.20" fill="#8a8a8a" />
<rect x="623.40" y="689.00" width="3.20" height="3.20" fill="#8a8a8a" />
<rect x="654.40" y="679.40" width="3.20" height="3.20" fill="#8a8a8a" />
<rect x="686.00" y="673.00" width="3.20" height="3.20" fill="#8a8a8a" />
<polyline points="531.80,695.00 562.40,692.40 593.60,690.40 625.00,679.40 656.00,663.40 687.60,626.40" stroke="#111" stroke-width="1.6" fill="none" stroke-linejoin="miter"/>
<line x1="625.00" y1="676.00" x2="625.00" y2="683.00" stroke="#111" stroke-width="1.2" />
<line x1="623.00" y1="676.00" x2="627.00" y2="676.00" stroke="#111" stroke-width="1.2" />
<line x1="623.00" y1="683.00" x2="627.00" y2="683.00" stroke="#111" stroke-width="1.2" />
<line x1="656.00" y1="660.00" x2="656.00" y2="667.00" stroke="#111" stroke-width="1.2" />
<line x1="654.00" y1="660.00" x2="658.00" y2="660.00" stroke="#111" stroke-width="1.2" />
<line x1="654.00" y1="667.00" x2="658.00" y2="667.00" stroke="#111" stroke-width="1.2" />
<line x1="687.60" y1="616.00" x2="687.60" y2="636.00" stroke="#111" stroke-width="1.2" />
<line x1="685.60" y1="616.00" x2="689.60" y2="616.00" stroke="#111" stroke-width="1.2" />
<line x1="685.60" y1="636.00" x2="689.60" y2="636.00" stroke="#111" stroke-width="1.2" />
<rect x="530.10" y="693.30" width="3.40" height="3.40" fill="#111" />
<rect x="560.70" y="690.70" width="3.40" height="3.40" fill="#111" />
<rect x="591.90" y="688.70" width="3.40" height="3.40" fill="#111" />
<rect x="623.30" y="677.70" width="3.40" height="3.40" fill="#111" />
<rect x="654.30" y="661.70" width="3.40" height="3.40" fill="#111" />
<rect x="685.90" y="624.70" width="3.40" height="3.40" fill="#111" />
<path d="M625.00,662.60L625.00,664.60M624.13,663.10L625.87,664.10M625.87,663.10L624.13,664.10" stroke="#555" stroke-width="0.7" stroke-linecap="round"/>
<path d="M656.00,648.00L656.00,650.00M655.13,648.50L656.87,649.50M656.87,648.50L655.13,649.50" stroke="#555" stroke-width="0.7" stroke-linecap="round"/>
<path d="M687.60,606.40L687.60,608.40M686.73,606.90L688.47,607.90M688.47,606.90L686.73,607.90" stroke="#555" stroke-width="0.7" stroke-linecap="round"/>
<line x1="562.00" y1="731.60" x2="568.00" y2="731.60" stroke="#111" stroke-width="1.2" />
<rect x="563.50" y="730.10" width="3.00" height="3.00" fill="#111" />
<text x="571.60" y="734.00" font-size="6.6" fill="#333" text-anchor="start" >NC</text>
<line x1="619.40" y1="731.60" x2="625.40" y2="731.60" stroke="#8a8a8a" stroke-width="1.2" />
<rect x="620.90" y="730.10" width="3.00" height="3.00" fill="#8a8a8a" />
<text x="629.00" y="734.00" font-size="6.6" fill="#333" text-anchor="start" textLength="33.40" lengthAdjust="spacingAndGlyphs" >miR-182-5p</text>
<text x="502.57" y="645.00" font-size="6.2" fill="#222" text-anchor="middle" transform="rotate(-90 502.57 645.00)" font-weight="bold" textLength="46.00" lengthAdjust="spacingAndGlyphs">number of cells</text>
<rect x="733.00" y="421.00" width="189.00" height="159.00" fill="#fdfdfd" />
<text x="734.71" y="402.34" font-size="17.8" fill="#000" text-anchor="start" font-weight="bold" >Q</text>
<text x="744.40" y="426.40" font-size="10.34" fill="#111" text-anchor="start" font-weight="bold" textLength="21.20" lengthAdjust="spacingAndGlyphs" >SAS</text>
<line x1="744.40" y1="428.70" x2="765.60" y2="428.70" stroke="#666" stroke-width="1" />
<text x="836.30" y="435.00" font-size="8" fill="#222" text-anchor="middle" font-weight="bold" textLength="36.60" lengthAdjust="spacingAndGlyphs" >Dose (Gy)</text>
<line x1="768.60" y1="448.40" x2="903.60" y2="448.40" stroke="#222" stroke-width="1.5" />
<line x1="768.60" y1="448.40" x2="768.60" y2="445.90" stroke="#222" stroke-width="1.2" />
<text x="768.60" y="444.20" font-size="5.8" fill="#222" text-anchor="middle" font-weight="bold" >0</text>
<line x1="802.40" y1="448.40" x2="802.40" y2="445.90" stroke="#222" stroke-width="1.2" />
<text x="802.40" y="444.20" font-size="5.8" fill="#222" text-anchor="middle" font-weight="bold" >2</text>
<line x1="836.00" y1="448.40" x2="836.00" y2="445.90" stroke="#222" stroke-width="1.2" />
<text x="836.00" y="444.20" font-size="5.8" fill="#222" text-anchor="middle" font-weight="bold" >4</text>
<line x1="869.00" y1="448.40" x2="869.00" y2="445.90" stroke="#222" stroke-width="1.2" />
<text x="869.00" y="444.20" font-size="5.8" fill="#222" text-anchor="middle" font-weight="bold" >6</text>
<line x1="903.00" y1="448.40" x2="903.00" y2="445.90" stroke="#222" stroke-width="1.2" />
<text x="903.00" y="444.20" font-size="5.8" fill="#222" text-anchor="middle" font-weight="bold" >8</text>
<line x1="768.60" y1="448.40" x2="768.60" y2="561.60" stroke="#222" stroke-width="1.5" />
<line x1="766.10" y1="448.40" x2="768.60" y2="448.40" stroke="#222" stroke-width="1.2" />
<text x="766.20" y="450.34" font-size="5.4" font-weight="bold" fill="#222" text-anchor="end">10<tspan dy="-2.16" font-size="3.78">0</tspan></text>
<line x1="767.40" y1="468.11" x2="768.60" y2="468.11" stroke="#444" stroke-width="0.7" />
<line x1="767.40" y1="463.15" x2="768.60" y2="463.15" stroke="#444" stroke-width="0.7" />
<line x1="767.40" y1="459.62" x2="768.60" y2="459.62" stroke="#444" stroke-width="0.7" />
<line x1="767.40" y1="456.89" x2="768.60" y2="456.89" stroke="#444" stroke-width="0.7" />
<line x1="767.40" y1="454.66" x2="768.60" y2="454.66" stroke="#444" stroke-width="0.7" />
<line x1="767.40" y1="452.77" x2="768.60" y2="452.77" stroke="#444" stroke-width="0.7" />
<line x1="767.40" y1="451.13" x2="768.60" y2="451.13" stroke="#444" stroke-width="0.7" />
<line x1="767.40" y1="449.69" x2="768.60" y2="449.69" stroke="#444" stroke-width="0.7" />
<line x1="766.10" y1="476.60" x2="768.60" y2="476.60" stroke="#222" stroke-width="1.2" />
<text x="766.20" y="478.54" font-size="5.4" font-weight="bold" fill="#222" text-anchor="end">10<tspan dy="-2.16" font-size="3.78">-1</tspan></text>
<line x1="767.40" y1="496.38" x2="768.60" y2="496.38" stroke="#444" stroke-width="0.7" />
<line x1="767.40" y1="491.40" x2="768.60" y2="491.40" stroke="#444" stroke-width="0.7" />
<line x1="767.40" y1="487.86" x2="768.60" y2="487.86" stroke="#444" stroke-width="0.7" />
<line x1="767.40" y1="485.12" x2="768.60" y2="485.12" stroke="#444" stroke-width="0.7" />
<line x1="767.40" y1="482.88" x2="768.60" y2="482.88" stroke="#444" stroke-width="0.7" />
<line x1="767.40" y1="480.98" x2="768.60" y2="480.98" stroke="#444" stroke-width="0.7" />
<line x1="767.40" y1="479.34" x2="768.60" y2="479.34" stroke="#444" stroke-width="0.7" />
<line x1="767.40" y1="477.89" x2="768.60" y2="477.89" stroke="#444" stroke-width="0.7" />
<line x1="766.10" y1="504.90" x2="768.60" y2="504.90" stroke="#222" stroke-width="1.2" />
<text x="766.20" y="506.84" font-size="5.4" font-weight="bold" fill="#222" text-anchor="end">10<tspan dy="-2.16" font-size="3.78">-2</tspan></text>
<line x1="767.40" y1="524.61" x2="768.60" y2="524.61" stroke="#444" stroke-width="0.7" />
<line x1="767.40" y1="519.65" x2="768.60" y2="519.65" stroke="#444" stroke-width="0.7" />
<line x1="767.40" y1="516.12" x2="768.60" y2="516.12" stroke="#444" stroke-width="0.7" />
<line x1="767.40" y1="513.39" x2="768.60" y2="513.39" stroke="#444" stroke-width="0.7" />
<line x1="767.40" y1="511.16" x2="768.60" y2="511.16" stroke="#444" stroke-width="0.7" />
<line x1="767.40" y1="509.27" x2="768.60" y2="509.27" stroke="#444" stroke-width="0.7" />
<line x1="767.40" y1="507.63" x2="768.60" y2="507.63" stroke="#444" stroke-width="0.7" />
<line x1="767.40" y1="506.19" x2="768.60" y2="506.19" stroke="#444" stroke-width="0.7" />
<line x1="766.10" y1="533.10" x2="768.60" y2="533.10" stroke="#222" stroke-width="1.2" />
<text x="766.20" y="535.04" font-size="5.4" font-weight="bold" fill="#222" text-anchor="end">10<tspan dy="-2.16" font-size="3.78">-3</tspan></text>
<line x1="767.40" y1="552.88" x2="768.60" y2="552.88" stroke="#444" stroke-width="0.7" />
<line x1="767.40" y1="547.90" x2="768.60" y2="547.90" stroke="#444" stroke-width="0.7" />
<line x1="767.40" y1="544.36" x2="768.60" y2="544.36" stroke="#444" stroke-width="0.7" />
<line x1="767.40" y1="541.62" x2="768.60" y2="541.62" stroke="#444" stroke-width="0.7" />
<line x1="767.40" y1="539.38" x2="768.60" y2="539.38" stroke="#444" stroke-width="0.7" />
<line x1="767.40" y1="537.48" x2="768.60" y2="537.48" stroke="#444" stroke-width="0.7" />
<line x1="767.40" y1="535.84" x2="768.60" y2="535.84" stroke="#444" stroke-width="0.7" />
<line x1="767.40" y1="534.39" x2="768.60" y2="534.39" stroke="#444" stroke-width="0.7" />
<line x1="766.10" y1="561.40" x2="768.60" y2="561.40" stroke="#222" stroke-width="1.2" />
<text x="766.20" y="563.34" font-size="5.4" font-weight="bold" fill="#222" text-anchor="end">10<tspan dy="-2.16" font-size="3.78">-4</tspan></text>
<polyline points="768.60,448.40 802.40,457.60 836.00,480.40 869.00,522.20 903.00,548.00" stroke="#8a8a8a" stroke-width="1.3" fill="none" stroke-linejoin="miter"/>
<line x1="836.00" y1="478.00" x2="836.00" y2="483.00" stroke="#8a8a8a" stroke-width="1.2" />
<line x1="834.00" y1="478.00" x2="838.00" y2="478.00" stroke="#8a8a8a" stroke-width="1.2" />
<line x1="834.00" y1="483.00" x2="838.00" y2="483.00" stroke="#8a8a8a" stroke-width="1.2" />
<line x1="869.00" y1="518.00" x2="869.00" y2="526.00" stroke="#8a8a8a" stroke-width="1.2" />
<line x1="867.00" y1="518.00" x2="871.00" y2="518.00" stroke="#8a8a8a" stroke-width="1.2" />
<line x1="867.00" y1="526.00" x2="871.00" y2="526.00" stroke="#8a8a8a" stroke-width="1.2" />
<line x1="903.00" y1="545.00" x2="903.00" y2="551.00" stroke="#8a8a8a" stroke-width="1.2" />
<line x1="901.00" y1="545.00" x2="905.00" y2="545.00" stroke="#8a8a8a" stroke-width="1.2" />
<line x1="901.00" y1="551.00" x2="905.00" y2="551.00" stroke="#8a8a8a" stroke-width="1.2" />
<rect x="766.90" y="446.70" width="3.40" height="3.40" fill="#8a8a8a" />
<rect x="800.70" y="455.90" width="3.40" height="3.40" fill="#8a8a8a" />
<rect x="834.30" y="478.70" width="3.40" height="3.40" fill="#8a8a8a" />
<rect x="867.30" y="520.50" width="3.40" height="3.40" fill="#8a8a8a" />
<rect x="901.30" y="546.30" width="3.40" height="3.40" fill="#8a8a8a" />
<polyline points="768.60,448.40 802.40,451.60 836.00,466.40 869.00,490.20 903.00,527.20" stroke="#111" stroke-width="1.7" fill="none" stroke-linejoin="miter"/>
<line x1="903.00" y1="524.40" x2="903.00" y2="531.60" stroke="#111" stroke-width="1.2" />
<line x1="901.00" y1="524.40" x2="905.00" y2="524.40" stroke="#111" stroke-width="1.2" />
<line x1="901.00" y1="531.60" x2="905.00" y2="531.60" stroke="#111" stroke-width="1.2" />
<rect x="766.60" y="446.40" width="4.00" height="4.00" fill="#111" />
<rect x="800.40" y="449.60" width="4.00" height="4.00" fill="#111" />
<rect x="834.00" y="464.40" width="4.00" height="4.00" fill="#111" />
<rect x="867.00" y="488.20" width="4.00" height="4.00" fill="#111" />
<rect x="901.00" y="525.20" width="4.00" height="4.00" fill="#111" />
<path d="M801.60,464.90L801.60,467.10M800.65,465.45L802.55,466.55M802.55,465.45L800.65,466.55" stroke="#555" stroke-width="0.7" stroke-linecap="round"/>
<path d="M835.00,489.40L835.00,491.60M834.05,489.95L835.95,491.05M835.95,489.95L834.05,491.05" stroke="#555" stroke-width="0.7" stroke-linecap="round"/>
<path d="M869.00,531.30L869.00,533.50M868.05,531.85L869.95,532.95M869.95,531.85L868.05,532.95" stroke="#555" stroke-width="0.7" stroke-linecap="round"/>
<path d="M903.00,556.30L903.00,558.50M902.05,556.85L903.95,557.95M903.95,556.85L902.05,557.95" stroke="#555" stroke-width="0.7" stroke-linecap="round"/>
<line x1="798.00" y1="571.40" x2="806.00" y2="571.40" stroke="#111" stroke-width="1.5" />
<rect x="800.50" y="569.90" width="3.00" height="3.00" fill="#111" />
<text x="809.40" y="573.80" font-size="6.6" fill="#333" text-anchor="start" >NC</text>
<line x1="837.00" y1="571.40" x2="845.00" y2="571.40" stroke="#8a8a8a" stroke-width="1.3" />
<rect x="839.50" y="569.90" width="3.00" height="3.00" fill="#8a8a8a" />
<text x="848.60" y="573.80" font-size="6.6" fill="#333" text-anchor="start" textLength="32.40" lengthAdjust="spacingAndGlyphs" >miR-182-5p</text>
<text x="745.61" y="503.80" font-size="8.6" fill="#222" text-anchor="middle" transform="rotate(-90 745.61 503.80)" font-weight="bold" textLength="63.60" lengthAdjust="spacingAndGlyphs">Survival fraction</text>
<rect x="972.00" y="412.00" width="192.00" height="168.00" fill="#fdfdfd" />
<text x="985.71" y="402.74" font-size="17.8" fill="#000" text-anchor="start" font-weight="bold" >R</text>
<text x="964.60" y="426.40" font-size="10.34" fill="#111" text-anchor="start" font-weight="bold" textLength="25.80" lengthAdjust="spacingAndGlyphs" >FaDu</text>
<line x1="964.60" y1="428.70" x2="990.40" y2="428.70" stroke="#666" stroke-width="1" />
<text x="1077.70" y="428.00" font-size="9.6" fill="#222" text-anchor="middle" textLength="41.40" lengthAdjust="spacingAndGlyphs" >Dose (Gy)</text>
<line x1="1013.00" y1="446.60" x2="1143.00" y2="446.60" stroke="#222" stroke-width="1.5" />
<line x1="1013.00" y1="446.60" x2="1013.00" y2="444.10" stroke="#222" stroke-width="1.2" />
<text x="1013.00" y="442.40" font-size="5.8" fill="#222" text-anchor="middle" font-weight="bold" >0</text>
<line x1="1056.40" y1="446.60" x2="1056.40" y2="444.10" stroke="#222" stroke-width="1.2" />
<text x="1056.40" y="442.40" font-size="5.8" fill="#222" text-anchor="middle" font-weight="bold" >2</text>
<line x1="1099.60" y1="446.60" x2="1099.60" y2="444.10" stroke="#222" stroke-width="1.2" />
<text x="1099.60" y="442.40" font-size="5.8" fill="#222" text-anchor="middle" font-weight="bold" >4</text>
<line x1="1142.60" y1="446.60" x2="1142.60" y2="444.10" stroke="#222" stroke-width="1.2" />
<text x="1142.60" y="442.40" font-size="5.8" fill="#222" text-anchor="middle" font-weight="bold" >6</text>
<line x1="1013.00" y1="446.60" x2="1013.00" y2="556.00" stroke="#222" stroke-width="1.5" />
<line x1="1010.50" y1="446.60" x2="1013.00" y2="446.60" stroke="#222" stroke-width="1.2" />
<text x="1010.60" y="448.94" font-size="6.5" font-weight="bold" fill="#222" text-anchor="end">10<tspan dy="-2.60" font-size="4.55">0</tspan></text>
<line x1="1011.80" y1="465.75" x2="1013.00" y2="465.75" stroke="#444" stroke-width="0.7" />
<line x1="1011.80" y1="460.93" x2="1013.00" y2="460.93" stroke="#444" stroke-width="0.7" />
<line x1="1011.80" y1="457.50" x2="1013.00" y2="457.50" stroke="#444" stroke-width="0.7" />
<line x1="1011.80" y1="454.85" x2="1013.00" y2="454.85" stroke="#444" stroke-width="0.7" />
<line x1="1011.80" y1="452.68" x2="1013.00" y2="452.68" stroke="#444" stroke-width="0.7" />
<line x1="1011.80" y1="450.84" x2="1013.00" y2="450.84" stroke="#444" stroke-width="0.7" />
<line x1="1011.80" y1="449.26" x2="1013.00" y2="449.26" stroke="#444" stroke-width="0.7" />
<line x1="1011.80" y1="447.85" x2="1013.00" y2="447.85" stroke="#444" stroke-width="0.7" />
<line x1="1010.50" y1="474.00" x2="1013.00" y2="474.00" stroke="#222" stroke-width="1.2" />
<text x="1010.60" y="476.34" font-size="6.5" font-weight="bold" fill="#222" text-anchor="end">10<tspan dy="-2.60" font-size="4.55">-1</tspan></text>
<line x1="1011.80" y1="493.08" x2="1013.00" y2="493.08" stroke="#444" stroke-width="0.7" />
<line x1="1011.80" y1="488.27" x2="1013.00" y2="488.27" stroke="#444" stroke-width="0.7" />
<line x1="1011.80" y1="484.86" x2="1013.00" y2="484.86" stroke="#444" stroke-width="0.7" />
<line x1="1011.80" y1="482.22" x2="1013.00" y2="482.22" stroke="#444" stroke-width="0.7" />
<line x1="1011.80" y1="480.06" x2="1013.00" y2="480.06" stroke="#444" stroke-width="0.7" />
<line x1="1011.80" y1="478.23" x2="1013.00" y2="478.23" stroke="#444" stroke-width="0.7" />
<line x1="1011.80" y1="476.65" x2="1013.00" y2="476.65" stroke="#444" stroke-width="0.7" />
<line x1="1011.80" y1="475.25" x2="1013.00" y2="475.25" stroke="#444" stroke-width="0.7" />
<line x1="1010.50" y1="501.30" x2="1013.00" y2="501.30" stroke="#222" stroke-width="1.2" />
<text x="1010.60" y="503.64" font-size="6.5" font-weight="bold" fill="#222" text-anchor="end">10<tspan dy="-2.60" font-size="4.55">-2</tspan></text>
<line x1="1011.80" y1="520.38" x2="1013.00" y2="520.38" stroke="#444" stroke-width="0.7" />
<line x1="1011.80" y1="515.57" x2="1013.00" y2="515.57" stroke="#444" stroke-width="0.7" />
<line x1="1011.80" y1="512.16" x2="1013.00" y2="512.16" stroke="#444" stroke-width="0.7" />
<line x1="1011.80" y1="509.52" x2="1013.00" y2="509.52" stroke="#444" stroke-width="0.7" />
<line x1="1011.80" y1="507.36" x2="1013.00" y2="507.36" stroke="#444" stroke-width="0.7" />
<line x1="1011.80" y1="505.53" x2="1013.00" y2="505.53" stroke="#444" stroke-width="0.7" />
<line x1="1011.80" y1="503.95" x2="1013.00" y2="503.95" stroke="#444" stroke-width="0.7" />
<line x1="1011.80" y1="502.55" x2="1013.00" y2="502.55" stroke="#444" stroke-width="0.7" />
<line x1="1010.50" y1="528.60" x2="1013.00" y2="528.60" stroke="#222" stroke-width="1.2" />
<text x="1010.60" y="530.94" font-size="6.5" font-weight="bold" fill="#222" text-anchor="end">10<tspan dy="-2.60" font-size="4.55">-3</tspan></text>
<line x1="1011.80" y1="547.75" x2="1013.00" y2="547.75" stroke="#444" stroke-width="0.7" />
<line x1="1011.80" y1="542.93" x2="1013.00" y2="542.93" stroke="#444" stroke-width="0.7" />
<line x1="1011.80" y1="539.50" x2="1013.00" y2="539.50" stroke="#444" stroke-width="0.7" />
<line x1="1011.80" y1="536.85" x2="1013.00" y2="536.85" stroke="#444" stroke-width="0.7" />
<line x1="1011.80" y1="534.68" x2="1013.00" y2="534.68" stroke="#444" stroke-width="0.7" />
<line x1="1011.80" y1="532.84" x2="1013.00" y2="532.84" stroke="#444" stroke-width="0.7" />
<line x1="1011.80" y1="531.26" x2="1013.00" y2="531.26" stroke="#444" stroke-width="0.7" />
<line x1="1011.80" y1="529.85" x2="1013.00" y2="529.85" stroke="#444" stroke-width="0.7" />
<line x1="1010.50" y1="556.00" x2="1013.00" y2="556.00" stroke="#222" stroke-width="1.2" />
<text x="1010.60" y="558.34" font-size="6.5" font-weight="bold" fill="#222" text-anchor="end">10<tspan dy="-2.60" font-size="4.55">-4</tspan></text>
<polyline points="1013.00,446.60 1056.40,457.60 1099.60,479.50 1142.60,544.00" stroke="#8a8a8a" stroke-width="1.3" fill="none" stroke-linejoin="miter"/>
<line x1="1099.60" y1="477.00" x2="1099.60" y2="482.00" stroke="#8a8a8a" stroke-width="1.2" />
<line x1="1097.60" y1="477.00" x2="1101.60" y2="477.00" stroke="#8a8a8a" stroke-width="1.2" />
<line x1="1097.60" y1="482.00" x2="1101.60" y2="482.00" stroke="#8a8a8a" stroke-width="1.2" />
<line x1="1142.60" y1="539.60" x2="1142.60" y2="551.60" stroke="#8a8a8a" stroke-width="1.2" />
<line x1="1140.60" y1="539.60" x2="1144.60" y2="539.60" stroke="#8a8a8a" stroke-width="1.2" />
<line x1="1140.60" y1="551.60" x2="1144.60" y2="551.60" stroke="#8a8a8a" stroke-width="1.2" />
<rect x="1011.30" y="444.90" width="3.40" height="3.40" fill="#8a8a8a" />
<rect x="1054.70" y="455.90" width="3.40" height="3.40" fill="#8a8a8a" />
<rect x="1097.90" y="477.80" width="3.40" height="3.40" fill="#8a8a8a" />
<rect x="1140.90" y="542.30" width="3.40" height="3.40" fill="#8a8a8a" />
<polyline points="1013.00,446.60 1056.40,454.60 1099.60,468.00 1142.60,491.80" stroke="#111" stroke-width="1.7" fill="none" stroke-linejoin="miter"/>
<rect x="1011.00" y="444.60" width="4.00" height="4.00" fill="#111" />
<rect x="1054.40" y="452.60" width="4.00" height="4.00" fill="#111" />
<rect x="1097.60" y="466.00" width="4.00" height="4.00" fill="#111" />
<rect x="1140.60" y="489.80" width="4.00" height="4.00" fill="#111" />
<path d="M1056.40,466.40L1056.40,468.60M1055.45,466.95L1057.35,468.05M1057.35,466.95L1055.45,468.05" stroke="#555" stroke-width="0.7" stroke-linecap="round"/>
<path d="M1099.60,488.70L1099.60,490.90M1098.65,489.25L1100.55,490.35M1100.55,489.25L1098.65,490.35" stroke="#555" stroke-width="0.7" stroke-linecap="round"/>
<path d="M1142.60,556.90L1142.60,559.10M1141.65,557.45L1143.55,558.55M1143.55,557.45L1141.65,558.55" stroke="#555" stroke-width="0.7" stroke-linecap="round"/>
<line x1="1041.00" y1="569.60" x2="1049.00" y2="569.60" stroke="#111" stroke-width="1.5" />
<rect x="1043.50" y="568.10" width="3.00" height="3.00" fill="#111" />
<text x="1052.40" y="572.00" font-size="6.6" fill="#333" text-anchor="start" >NC</text>
<line x1="1080.00" y1="569.60" x2="1088.00" y2="569.60" stroke="#8a8a8a" stroke-width="1.3" />
<rect x="1082.50" y="568.10" width="3.00" height="3.00" fill="#8a8a8a" />
<text x="1091.60" y="572.00" font-size="6.6" fill="#333" text-anchor="start" textLength="36.00" lengthAdjust="spacingAndGlyphs" >miR-182-5p</text>
<text x="987.96" y="501.00" font-size="9.6" fill="#222" text-anchor="middle" transform="rotate(-90 987.96 501.00)" textLength="68.00" lengthAdjust="spacingAndGlyphs">Survival fraction</text>
</svg>
</body></html>
